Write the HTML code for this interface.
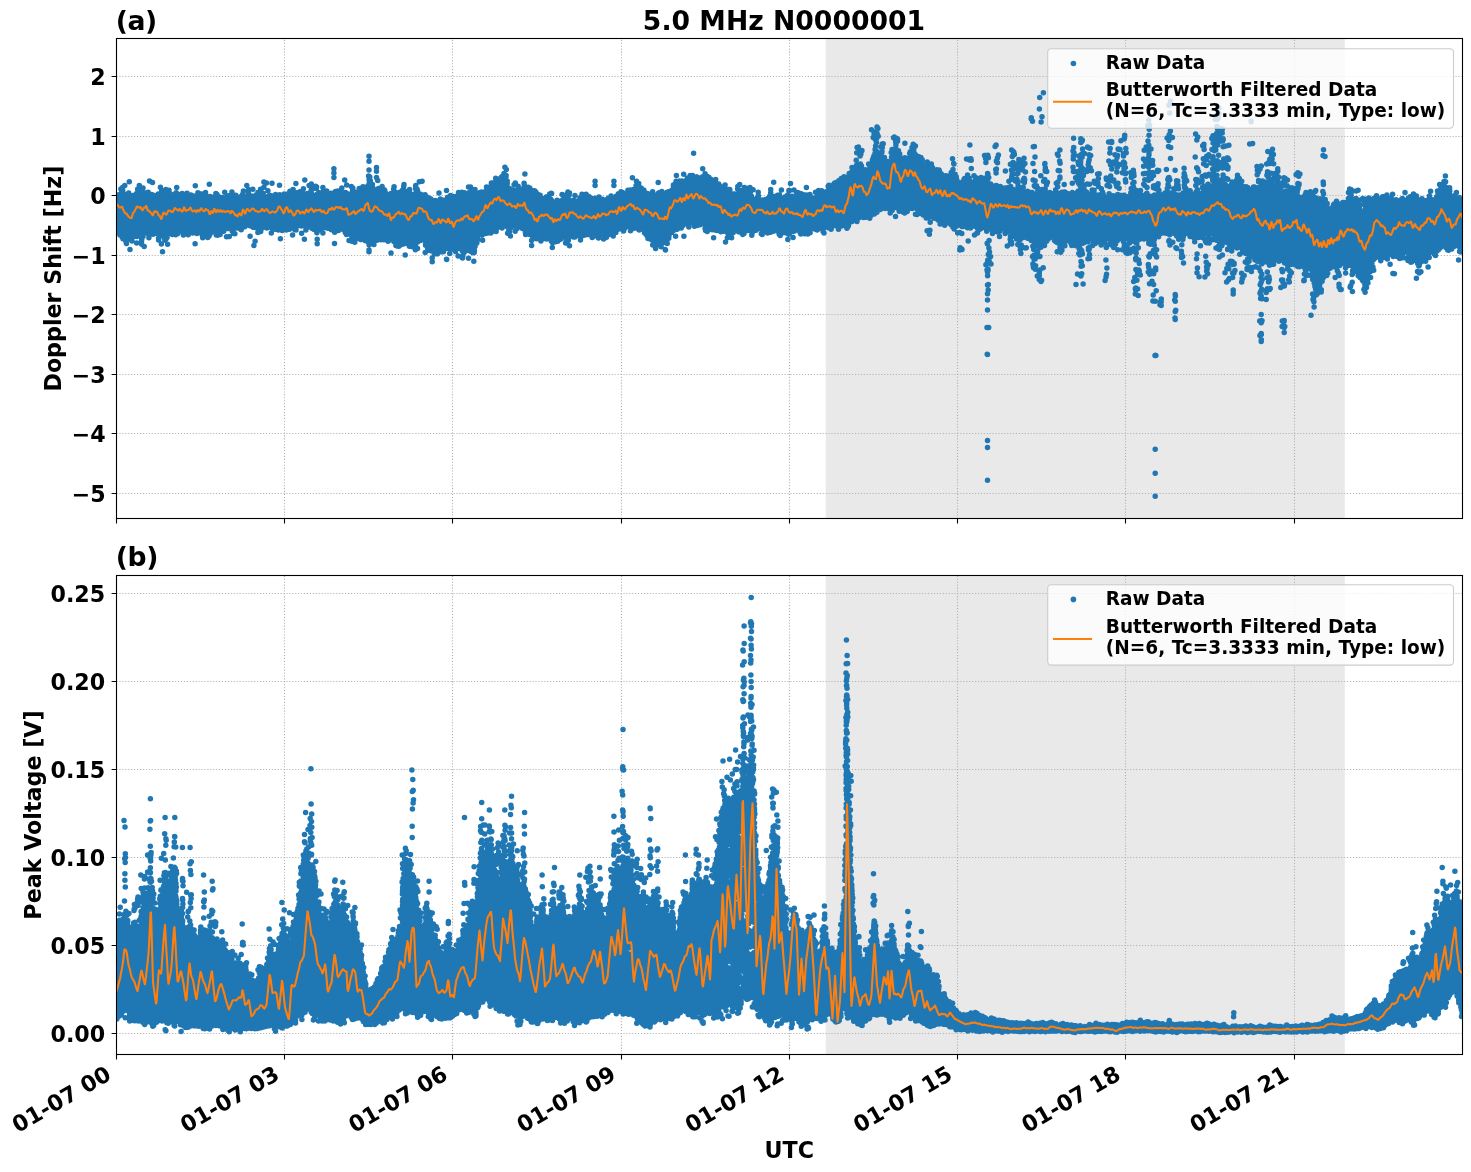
<!DOCTYPE html>
<html lang="en"><head><meta charset="utf-8"><title>5.0 MHz N0000001</title>
<style>html,body{margin:0;padding:0;background:#fff}svg{display:block}text{font-family:"DejaVu Sans","Liberation Sans",sans-serif;font-weight:bold;fill:#000}</style></head><body>
<svg width="1471" height="1172" viewBox="0 0 1471 1172">
<rect width="1471" height="1172" fill="#fff"/>
<clipPath id="ct"><rect x="116.5" y="38.5" width="1346.0" height="480.0"/></clipPath>
<clipPath id="cb"><rect x="116.5" y="575.5" width="1346.0" height="479.0"/></clipPath>
<rect x="825.8" y="38.5" width="519.0" height="480.0" fill="#d3d3d3" fill-opacity="0.5"/>
<path d="M116.5 518.5V38.5M284.5 518.5V38.5M452.5 518.5V38.5M621.5 518.5V38.5M789.5 518.5V38.5M957.5 518.5V38.5M1125.5 518.5V38.5M1294.5 518.5V38.5M116.5 76.5H1462.5M116.5 136.5H1462.5M116.5 195.5H1462.5M116.5 255.5H1462.5M116.5 314.5H1462.5M116.5 374.5H1462.5M116.5 433.5H1462.5M116.5 493.5H1462.5" stroke="#b0b0b0" stroke-width="1.1" stroke-dasharray="1.1 1.83" fill="none"/>
<g clip-path="url(#ct)"><path d="M116.5 196.5V228.5M117.5 195V233.5M118.5 193.5V234.5M119.5 193V236M120.5 192V237M121.5 186.5V238.5M122.5 186V240M123.5 189V240.5M124.5 192.5V241.5M125.5 193.5V244M126.5 193V245M127.5 192V241M128.5 191.5V240M129.5 192V240.5M130.5 193.5V241.5M131.5 194.5V242M132.5 194.5V239M133.5 194V238M134.5 193.5V237.5M135.5 192.5V237.5M136.5 191.5V238M137.5 187.5V238M138.5 184.5V237M139.5 184V237.5M140.5 185.5V238.5M141.5 186.5V245.5M142.5 187V240.5M143.5 190V238M144.5 191V235M145.5 191.5V234M146.5 191.5V234.5M147.5 191V235.5M148.5 191V239M149.5 192V236M150.5 193V235M151.5 193.5V234.5M152.5 193.5V235.5M153.5 194V235.5M154.5 194V235M155.5 194.5V234.5M156.5 194V234.5M157.5 193V235.5M158.5 193V241.5M159.5 192.5V239M160.5 191.5V238M161.5 188V237.5M162.5 189V238M163.5 189.5V239M164.5 188.5V241M165.5 188V242M166.5 188V240.5M167.5 189V239M168.5 189V236M169.5 189V235M170.5 192V234.5M171.5 193V235.5M172.5 194V235.5M173.5 193.5V235.5M174.5 192.5V235.5M175.5 191.5V236M176.5 191V235.5M177.5 192V235M178.5 193V234M179.5 193.5V233M180.5 193V232.5M181.5 192.5V233M182.5 192.5V234M183.5 192.5V236M184.5 193V236M185.5 192.5V235M186.5 192V235M187.5 192V236M188.5 193V236M189.5 194V235M190.5 194V234M191.5 193.5V233.5M192.5 194.5V234M193.5 195V234M194.5 195V233.5M195.5 194.5V234M196.5 193.5V234.5M197.5 191.5V234.5M198.5 191.5V234M199.5 192V234.5M200.5 192.5V235.5M201.5 192.5V237M202.5 193V239M203.5 192.5V239M204.5 191.5V238M205.5 191V237.5M206.5 194V238.5M207.5 195V239M208.5 195.5V238.5M209.5 195.5V238M210.5 195V235.5M211.5 195.5V234M212.5 196V233M213.5 196V233M214.5 195V234M215.5 192.5V236M216.5 192.5V236.5M217.5 193V236.5M218.5 194.5V236.5M219.5 195.5V235.5M220.5 196.5V235.5M221.5 196.5V234M222.5 196V233M223.5 196.5V232.5M224.5 197V232M225.5 196V230.5M226.5 193.5V229.5M227.5 194.5V230M228.5 194.5V229.5M229.5 194V230M230.5 193V231M231.5 191V232.5M232.5 191V233.5M233.5 193.5V234.5M234.5 194.5V230M235.5 194V229M236.5 194V229M237.5 195V229M238.5 195.5V229M239.5 196V230M240.5 195V231M241.5 194V231M242.5 192.5V229.5M243.5 190V228.5M244.5 194V228M245.5 195V228M246.5 194.5V227M247.5 193.5V226M248.5 188V226.5M249.5 193V227M250.5 194V227M251.5 194.5V227.5M252.5 195V228.5M253.5 195.5V228.5M254.5 194.5V228.5M255.5 193.5V228.5M256.5 192.5V229M257.5 191.5V230M258.5 191V233.5M259.5 190V233M260.5 188V232.5M261.5 188V232.5M262.5 191.5V229.5M263.5 192.5V228.5M264.5 195.5V228M265.5 196.5V228.5M266.5 196V229M267.5 195V229M268.5 194V228.5M269.5 193.5V228M270.5 194V229M271.5 194.5V230M272.5 194.5V231.5M273.5 194.5V230.5M274.5 193.5V230M275.5 193V230.5M276.5 193.5V230.5M277.5 194.5V231M278.5 194V231M279.5 193.5V230.5M280.5 193.5V231M281.5 194.5V231.5M282.5 194V232M283.5 193V231.5M284.5 193V230.5M285.5 193V231M286.5 193V231M287.5 192.5V230.5M288.5 191.5V230.5M289.5 190V230.5M290.5 190V230.5M291.5 189V229.5M292.5 188.5V229M293.5 188.5V230M294.5 190V231M295.5 191V231.5M296.5 191.5V228M297.5 191V227M298.5 191V226.5M299.5 190.5V227M300.5 190.5V227M301.5 189.5V227M302.5 188V226.5M303.5 187.5V226.5M304.5 191V227.5M305.5 192V231.5M306.5 192.5V231M307.5 192V229M308.5 192.5V228M309.5 191.5V228M310.5 183V229M311.5 182.5V229.5M312.5 192V230M313.5 193V230.5M314.5 193.5V231.5M315.5 193.5V232.5M316.5 193V234M317.5 192V234M318.5 190.5V232M319.5 191.5V231M320.5 191.5V230.5M321.5 190.5V231.5M322.5 186.5V234M323.5 186.5V230.5M324.5 189V229.5M325.5 190V229M326.5 189.5V229M327.5 190V229.5M328.5 191V229.5M329.5 192V230M330.5 192V230.5M331.5 192.5V231M332.5 192.5V231.5M333.5 191.5V232.5M334.5 190.5V233.5M335.5 190.5V233.5M336.5 190.5V232.5M337.5 190V231.5M338.5 190V232M339.5 189.5V231.5M340.5 188.5V230.5M341.5 187V230M342.5 190V230.5M343.5 191V231.5M344.5 191.5V233.5M345.5 191V235M346.5 191.5V236M347.5 192.5V235.5M348.5 192.5V235M349.5 193V235.5M350.5 192.5V236.5M351.5 191.5V242.5M352.5 186V242.5M353.5 187V243M354.5 190V243.5M355.5 191V243.5M356.5 191V240.5M357.5 190V239.5M358.5 187.5V239.5M359.5 187.5V240.5M360.5 187.5V241M361.5 186.5V241M362.5 185.5V240.5M363.5 185.5V241M364.5 186V241.5M365.5 186V242M366.5 185V242.5M367.5 184V243.5M368.5 182V246M369.5 175V246M370.5 176V245.5M371.5 181.5V245M372.5 182.5V245M373.5 185.5V245.5M374.5 188V245.5M375.5 189V242.5M376.5 188.5V241.5M377.5 187.5V241.5M378.5 187V241M379.5 187V240.5M380.5 186V241M381.5 185.5V241M382.5 185.5V240.5M383.5 187V241M384.5 188V241M385.5 189.5V240.5M386.5 192V241.5M387.5 193V242.5M388.5 193.5V242.5M389.5 193V242M390.5 192.5V241M391.5 192.5V241M392.5 191.5V242M393.5 185.5V243M394.5 185.5V244M395.5 190.5V247M396.5 191.5V247M397.5 192V247.5M398.5 191.5V247.5M399.5 191V247.5M400.5 190.5V246.5M401.5 189.5V246M402.5 188.5V245.5M403.5 183.5V245M404.5 188.5V245M405.5 189.5V244.5M406.5 190V245M407.5 189.5V246M408.5 188.5V247M409.5 188.5V247.5M410.5 191.5V247.5M411.5 192.5V248M412.5 193.5V248M413.5 193V249M414.5 192.5V250.5M415.5 191.5V251M416.5 184.5V245M417.5 187.5V244M418.5 190V243M419.5 192V242M420.5 193V242M421.5 193.5V241.5M422.5 193.5V241.5M423.5 194V242M424.5 193.5V243M425.5 193.5V247M426.5 194.5V248M427.5 195.5V252M428.5 196V251.5M429.5 197V251.5M430.5 197.5V252M431.5 198V252M432.5 199V253M433.5 199.5V255M434.5 199.5V255M435.5 199.5V255M436.5 200V255M437.5 200V255M438.5 199V254.5M439.5 198V253.5M440.5 198V253M441.5 198.5V253M442.5 199V253M443.5 199V253M444.5 199V251M445.5 198V250M446.5 197V249.5M447.5 196.5V249.5M448.5 195.5V249M449.5 194.5V250M450.5 194.5V250.5M451.5 194.5V249.5M452.5 195.5V250M453.5 195.5V251M454.5 195.5V252M455.5 196V253M456.5 195V251M457.5 194V250M458.5 191.5V249.5M459.5 191.5V250M460.5 191.5V250.5M461.5 191V251.5M462.5 191V253.5M463.5 191.5V257M464.5 191.5V254.5M465.5 192V253M466.5 192.5V252M467.5 192V252M468.5 191.5V252M469.5 190.5V252.5M470.5 189.5V253M471.5 190.5V253.5M472.5 191V254M473.5 190V254M474.5 188.5V254M475.5 188.5V248M476.5 191.5V245.5M477.5 192.5V244.5M478.5 192V241M479.5 191.5V237M480.5 191V236M481.5 190.5V236M482.5 191V236.5M483.5 191.5V235.5M484.5 190.5V234.5M485.5 189.5V234.5M486.5 185.5V234.5M487.5 186V234.5M488.5 186.5V234.5M489.5 185.5V234M490.5 182.5V234.5M491.5 181.5V234M492.5 182V233.5M493.5 181.5V232.5M494.5 180.5V232.5M495.5 177V232.5M496.5 177V232.5M497.5 178V229.5M498.5 177.5V228.5M499.5 177V228M500.5 176.5V228.5M501.5 175.5V229.5M502.5 174V229.5M503.5 172.5V228M504.5 172V227M505.5 173.5V227M506.5 174.5V228M507.5 179V229.5M508.5 185.5V235.5M509.5 186.5V236.5M510.5 187.5V229.5M511.5 188.5V228.5M512.5 188V228M513.5 187V227M514.5 188.5V227M515.5 189.5V228M516.5 189V231M517.5 188V230M518.5 185V229M519.5 186.5V228M520.5 187.5V228.5M521.5 188V229.5M522.5 187V229.5M523.5 185.5V230M524.5 182V231M525.5 184.5V236M526.5 185.5V235.5M527.5 186V235.5M528.5 186V235.5M529.5 186.5V236M530.5 187V236.5M531.5 188.5V237.5M532.5 189.5V241M533.5 189.5V240M534.5 189.5V239.5M535.5 190V239.5M536.5 190.5V240M537.5 192.5V240.5M538.5 193.5V240.5M539.5 194V241.5M540.5 194V242.5M541.5 196V242M542.5 197V241M543.5 197.5V240M544.5 196.5V240M545.5 196V240M546.5 195.5V240.5M547.5 195V240M548.5 194V240M549.5 193V241M550.5 192V242M551.5 198V243M552.5 199.5V245M553.5 200.5V244M554.5 201V243M555.5 200V243M556.5 199V242.5M557.5 199V242.5M558.5 199.5V242.5M559.5 199.5V241.5M560.5 199.5V240.5M561.5 199V240M562.5 198V239.5M563.5 194V239M564.5 194V240M565.5 193.5V244M566.5 192.5V244M567.5 191V245M568.5 191V242.5M569.5 198.5V239M570.5 199.5V238M571.5 199.5V237.5M572.5 200V238M573.5 199V238M574.5 198.5V238M575.5 199.5V238M576.5 200V237.5M577.5 199V236.5M578.5 198V237M579.5 196.5V238M580.5 195.5V241.5M581.5 193V237.5M582.5 193V236.5M583.5 193.5V236.5M584.5 193.5V236.5M585.5 193V236M586.5 193V236M587.5 194V235.5M588.5 195V235.5M589.5 195.5V235.5M590.5 196V236.5M591.5 197V238.5M592.5 197V238.5M593.5 197.5V238M594.5 197.5V237M595.5 197V237M596.5 197V237.5M597.5 196.5V238.5M598.5 196V239M599.5 196V237M600.5 197V236M601.5 198V235.5M602.5 198V236.5M603.5 198.5V240.5M604.5 198.5V240M605.5 198.5V239M606.5 198V238.5M607.5 197V237.5M608.5 197V236.5M609.5 196V235.5M610.5 195V235M611.5 194.5V236M612.5 195.5V237M613.5 196.5V237M614.5 196V235M615.5 195V234M616.5 194V233.5M617.5 193V231.5M618.5 192.5V230.5M619.5 191.5V230M620.5 190.5V230M621.5 190.5V230.5M622.5 191V231.5M623.5 191.5V232M624.5 192.5V231.5M625.5 193V230M626.5 192V228M627.5 189V227M628.5 189V227.5M629.5 189V228.5M630.5 189V232M631.5 189V231.5M632.5 188.5V230.5M633.5 188V229.5M634.5 187V229M635.5 184V229M636.5 180V229M637.5 187.5V230M638.5 188.5V231M639.5 188V231.5M640.5 187V231M641.5 186.5V231M642.5 187.5V231.5M643.5 188.5V232.5M644.5 189V235M645.5 191V236M646.5 192V237M647.5 192.5V239.5M648.5 192.5V240M649.5 193.5V240M650.5 193V240.5M651.5 192V241.5M652.5 190.5V242.5M653.5 191V247M654.5 192V248M655.5 193V249.5M656.5 193V247M657.5 192V246M658.5 191.5V245.5M659.5 191.5V246.5M660.5 190.5V248M661.5 190V248M662.5 190.5V245M663.5 191.5V244M664.5 192.5V243.5M665.5 192V244M666.5 191V244.5M667.5 190.5V244.5M668.5 190.5V240.5M669.5 190.5V239.5M670.5 189.5V235M671.5 188.5V234M672.5 186.5V233M673.5 183.5V232M674.5 182.5V231.5M675.5 180V230.5M676.5 180V230.5M677.5 180.5V230.5M678.5 180.5V230M679.5 180V229M680.5 180V229M681.5 179.5V229.5M682.5 179.5V228M683.5 180.5V227M684.5 180V225.5M685.5 179V224.5M686.5 177.5V225M687.5 176.5V226M688.5 175.5V228.5M689.5 174.5V228M690.5 174.5V226.5M691.5 174.5V225.5M692.5 174.5V226M693.5 174.5V227M694.5 175.5V227.5M695.5 175.5V227M696.5 175.5V227M697.5 176V227M698.5 176.5V226.5M699.5 177V226M700.5 176.5V226M701.5 176V225.5M702.5 175.5V225M703.5 174.5V226M704.5 172.5V230M705.5 172.5V232M706.5 174V232.5M707.5 175V233M708.5 176V232M709.5 176.5V231M710.5 177.5V230.5M711.5 178.5V231M712.5 179V231M713.5 179.5V231M714.5 178.5V231M715.5 178.5V231M716.5 181.5V231.5M717.5 182.5V231.5M718.5 183V231.5M719.5 183V232.5M720.5 184.5V233M721.5 185.5V233M722.5 186V232.5M723.5 185V232.5M724.5 184V232.5M725.5 187V233M726.5 188V234M727.5 188.5V235M728.5 188.5V238.5M729.5 188.5V238.5M730.5 188.5V239M731.5 192V239M732.5 193V235M733.5 193V234M734.5 192.5V233.5M735.5 193V232.5M736.5 192V232M737.5 184.5V232.5M738.5 183.5V233M739.5 188V233.5M740.5 189V234M741.5 189.5V235M742.5 188.5V235.5M743.5 186.5V235.5M744.5 186.5V235M745.5 186.5V232.5M746.5 187.5V231.5M747.5 187.5V231.5M748.5 187V231.5M749.5 186.5V232M750.5 186.5V233M751.5 194V236.5M752.5 196.5V236.5M753.5 197.5V233M754.5 198V232M755.5 197.5V231.5M756.5 196.5V231.5M757.5 194.5V231M758.5 191V230M759.5 197.5V230M760.5 198.5V231M761.5 199V235.5M762.5 198.5V235.5M763.5 198.5V234.5M764.5 198.5V233.5M765.5 198V233M766.5 198V234M767.5 197V234.5M768.5 196V234M769.5 194V233.5M770.5 188V233.5M771.5 194V233.5M772.5 195V232.5M773.5 195.5V232.5M774.5 195.5V232M775.5 195.5V231.5M776.5 194.5V232M777.5 194V233M778.5 194V235.5M779.5 194V236.5M780.5 195.5V236.5M781.5 196.5V235.5M782.5 197V234.5M783.5 196.5V233.5M784.5 196V234M785.5 195V234M786.5 194V234.5M787.5 193.5V235.5M788.5 192.5V236M789.5 194V235.5M790.5 195V234M791.5 195V233M792.5 195V232.5M793.5 195.5V232.5M794.5 195.5V232.5M795.5 194.5V232M796.5 191V231.5M797.5 191V231M798.5 191.5V232M799.5 192V234M800.5 192.5V235.5M801.5 192.5V235M802.5 193.5V234.5M803.5 193.5V234.5M804.5 194V235M805.5 194V234.5M806.5 194V235M807.5 194V235M808.5 194V235M809.5 193.5V234.5M810.5 193.5V234M811.5 195.5V231M812.5 196.5V230M813.5 196.5V230M814.5 197V230.5M815.5 196.5V230.5M816.5 195.5V231M817.5 189.5V231M818.5 189V230.5M819.5 189.5V230M820.5 189.5V230M821.5 189.5V231M822.5 189.5V233M823.5 190.5V234M824.5 191V229.5M825.5 191V228.5M826.5 190V228M827.5 189V228.5M828.5 184V229M829.5 184V229.5M830.5 184.5V230.5M831.5 184.5V230.5M832.5 183.5V228M833.5 182.5V227M834.5 181.5V226.5M835.5 181V227M836.5 181V227.5M837.5 180V228.5M838.5 179V230.5M839.5 178.5V228.5M840.5 177.5V227.5M841.5 177.5V227M842.5 176.5V227M843.5 175.5V226.5M844.5 175.5V227M845.5 176V228M846.5 176V229.5M847.5 175V229.5M848.5 172.5V228M849.5 172.5V225M850.5 171.5V223.5M851.5 170V222.5M852.5 166.5V222.5M853.5 166.5V222.5M854.5 166V221.5M855.5 165V222M856.5 163V222.5M857.5 146V154M857.5 163.5V222.5M858.5 146V155M858.5 164V220M859.5 148V157M859.5 163V219M860.5 149V157M860.5 163V218M861.5 164V217.5M862.5 167V218.5M863.5 168V218.5M864.5 168.5V218.5M865.5 168.5V218.5M866.5 169V218.5M867.5 168.5V218.5M868.5 167.5V219.5M869.5 163V219.5M870.5 162.5V219.5M871.5 161.5V217M872.5 157V216M873.5 130.5V139.5M873.5 154.5V215M874.5 131V140.5M874.5 152V215M875.5 131V141.5M875.5 144V214.5M876.5 130V144.5M876.5 149.5V213.5M877.5 150.5V213.5M878.5 151.5V212M879.5 152V211M880.5 151V211M881.5 150V210.5M882.5 155.5V209.5M883.5 156.5V209M884.5 156.5V209.5M885.5 159V209.5M886.5 160V209M887.5 160.5V209.5M888.5 160.5V210M889.5 160V211M890.5 159V214.5M891.5 148.5V213M892.5 148V212M893.5 148.5V209M894.5 147.5V208M895.5 136V208.5M896.5 137V146.5M896.5 147.5V209M897.5 148.5V210M898.5 149.5V212.5M899.5 152V212.5M900.5 153V212.5M901.5 156.5V212.5M902.5 157.5V213M903.5 157V214M904.5 156.5V214.5M905.5 156.5V214M906.5 157V213M907.5 157V212.5M908.5 156V211.5M909.5 151V210.5M910.5 150V209.5M911.5 146V209.5M912.5 143.5V209.5M913.5 143V209.5M914.5 151V209M915.5 153V209.5M916.5 154V210.5M917.5 155V215.5M918.5 155.5V215M919.5 155.5V214.5M920.5 156.5V214.5M921.5 156.5V215M922.5 162V216M923.5 163V216.5M924.5 163.5V217.5M925.5 162.5V219M926.5 161V219M927.5 161V219M928.5 161.5V219.5M929.5 162.5V220.5M930.5 163V219M931.5 163V218M932.5 165.5V218.5M933.5 167.5V219.5M934.5 168.5V219.5M935.5 169V219.5M936.5 168.5V220.5M937.5 168.5V221M938.5 169V222M939.5 169V225M940.5 171V225.5M941.5 172V225M942.5 173V225M943.5 174V226M944.5 174.5V226.5M945.5 174.5V226.5M946.5 174.5V225M947.5 174.5V224M948.5 175V224.5M949.5 174V225.5M950.5 171.5V226M951.5 170.5V227M952.5 168.5V229M953.5 171.5V230M954.5 172.5V230M955.5 173V229M956.5 175V228M957.5 178.5V227M958.5 180V226.5M959.5 181V226.5M960.5 181.5V227M961.5 181V228M962.5 180V228M963.5 178V228M964.5 177V227.5M965.5 176.5V228M966.5 175.5V228.5M967.5 174V229M968.5 174V228.5M969.5 176.5V229M970.5 180V229.5M971.5 181V229M972.5 180.5V228M973.5 180V227M974.5 179V227M975.5 175.5V228M976.5 176.5V229M977.5 177V230.5M978.5 177.5V232M979.5 177V231M980.5 176.5V230.5M981.5 176.5V229.5M982.5 177V229M983.5 177.5V228.5M984.5 177V229.5M985.5 154.5V163.5M985.5 177V230.5M986.5 176V232.5M987.5 172V232M987.5 267V277M988.5 172.5V180.5M988.5 181.5V231M989.5 182.5V230M989.5 250V264.5M990.5 183V230M991.5 183.5V231M992.5 184.5V234.5M993.5 185V234M994.5 185V233M995.5 184.5V232.5M996.5 184.5V233M997.5 184.5V233M998.5 185.5V234M999.5 185.5V233.5M1000.5 185.5V232.5M1001.5 186V231M1002.5 187V230M1003.5 187V230.5M1004.5 187V231.5M1005.5 187V234.5M1006.5 187V234M1007.5 186.5V233M1008.5 186.5V232.5M1009.5 185.5V232M1010.5 185V233M1010.5 234.5V244.5M1011.5 168V180M1011.5 185.5V239M1012.5 161.5V180.5M1012.5 187.5V238M1013.5 161V171M1013.5 188.5V237.5M1014.5 162V170M1014.5 189V238.5M1015.5 189V239.5M1016.5 162.5V170.5M1016.5 188V241M1017.5 161.5V175.5M1017.5 185V242M1018.5 158V174.5M1018.5 184.5V247M1019.5 158.5V172.5M1019.5 185.5V248M1020.5 159V171.5M1020.5 186V241M1020.5 242.5V255M1021.5 159.5V171M1021.5 186.5V240M1022.5 158.5V171.5M1022.5 186.5V239M1023.5 157V167.5M1023.5 185.5V238.5M1024.5 189.5V238.5M1025.5 190.5V238M1026.5 190V239M1027.5 190V239.5M1028.5 190V239.5M1029.5 191V240.5M1030.5 191.5V241.5M1031.5 191.5V242M1032.5 191V243M1033.5 191.5V250.5M1034.5 192.5V248M1035.5 192V247M1036.5 191V246.5M1036.5 250V259M1037.5 185.5V247.5M1037.5 249V258M1038.5 187.5V250.5M1038.5 272V280.5M1039.5 188.5V249.5M1039.5 269V281.5M1040.5 189V248.5M1041.5 188.5V248.5M1042.5 188.5V247.5M1043.5 188.5V246.5M1044.5 187.5V246.5M1045.5 186.5V244M1046.5 191V243M1047.5 192V241.5M1048.5 192V240.5M1049.5 191.5V240M1050.5 191.5V239M1051.5 192V238.5M1052.5 192.5V239.5M1053.5 191.5V241M1054.5 190.5V242.5M1055.5 188V243M1056.5 187V243.5M1057.5 181V189M1057.5 191V244M1058.5 192V245M1059.5 192V253M1060.5 191.5V253.5M1061.5 191V253M1062.5 191V248.5M1063.5 191V247.5M1064.5 190.5V247M1065.5 191V243.5M1066.5 191.5V242.5M1067.5 192V241.5M1068.5 192.5V242M1069.5 193V243M1070.5 192V245M1071.5 191.5V246.5M1072.5 191V246.5M1073.5 146.5V160.5M1073.5 191.5V246M1074.5 192V246.5M1075.5 192V247M1076.5 191V247M1077.5 175.5V183.5M1077.5 190V248M1078.5 169.5V185.5M1078.5 189V250M1079.5 168.5V187M1079.5 188V256.5M1080.5 153.5V246.5M1080.5 247V256M1081.5 163.5V245.5M1082.5 182V245M1083.5 183V244.5M1084.5 184V243.5M1085.5 189.5V243.5M1086.5 190.5V242.5M1087.5 191V243M1088.5 158V172M1088.5 192V243M1089.5 153.5V163M1089.5 192.5V242M1090.5 191.5V241M1091.5 189V241.5M1092.5 189V242.5M1093.5 189V246.5M1094.5 192.5V245.5M1095.5 193.5V244.5M1096.5 194V244M1097.5 177.5V187.5M1097.5 194V243M1098.5 172.5V180.5M1098.5 194V242.5M1099.5 193.5V243.5M1100.5 192.5V246M1101.5 187.5V246.5M1102.5 190V245.5M1103.5 192V244.5M1104.5 194.5V245M1105.5 195.5V246M1106.5 196V241M1107.5 195V240M1108.5 177V187.5M1108.5 192.5V240.5M1109.5 192.5V241.5M1110.5 193.5V246M1111.5 194.5V246.5M1112.5 194.5V247.5M1113.5 194.5V248.5M1114.5 195V248.5M1115.5 194.5V246M1116.5 154V168.5M1116.5 193.5V243M1117.5 193.5V242M1118.5 193.5V241M1119.5 194V240M1120.5 194V240.5M1121.5 194V241.5M1122.5 194.5V242.5M1123.5 161V174M1123.5 194V243.5M1124.5 161V174.5M1124.5 194V241.5M1124.5 242V252.5M1125.5 194.5V240.5M1125.5 243V254M1126.5 195.5V240M1126.5 243.5V254.5M1127.5 195.5V240.5M1127.5 243V254.5M1128.5 194.5V241.5M1129.5 193.5V244.5M1130.5 191V244M1131.5 170.5V178.5M1131.5 186.5V243M1132.5 169V178M1132.5 182V242.5M1133.5 169V177M1133.5 181V242.5M1134.5 187.5V243.5M1135.5 188.5V244M1135.5 286.5V295.5M1136.5 189V245M1137.5 189.5V244.5M1138.5 190V241.5M1139.5 189.5V240.5M1140.5 189V240M1141.5 193V239.5M1142.5 194V239.5M1143.5 194V240M1144.5 193.5V240M1145.5 192.5V239.5M1146.5 158.5V167M1146.5 192V240M1147.5 144.5V152.5M1147.5 157.5V168M1147.5 192V241M1148.5 143V169M1148.5 171V181.5M1148.5 194V244.5M1149.5 144V156.5M1149.5 157.5V168M1149.5 170.5V181M1149.5 195V245M1149.5 266.5V275.5M1150.5 158.5V167M1150.5 171.5V180.5M1150.5 195V245.5M1151.5 172V180M1151.5 195.5V245M1152.5 195V245.5M1153.5 194V246.5M1154.5 194V241.5M1155.5 194V239M1155.5 247.5V256.5M1156.5 193.5V238M1157.5 182.5V191.5M1157.5 192.5V237.5M1158.5 188V238M1159.5 189V237.5M1160.5 192.5V235.5M1160.5 298V306.5M1161.5 193.5V234.5M1161.5 298V306.5M1162.5 193.5V234M1163.5 192.5V234M1164.5 192V234.5M1165.5 191V234M1166.5 190V234.5M1167.5 183V234.5M1168.5 133.5V141.5M1168.5 176.5V189M1168.5 190.5V235.5M1169.5 132.5V141.5M1169.5 191.5V236M1170.5 191.5V236M1171.5 192V235M1172.5 191V234M1173.5 187.5V234.5M1174.5 187V235M1175.5 192.5V236M1176.5 179.5V190M1176.5 193.5V237.5M1177.5 179.5V189.5M1177.5 194V238.5M1178.5 194V240.5M1179.5 194V240.5M1180.5 194V240M1181.5 193V240.5M1181.5 250V259M1182.5 192V241.5M1183.5 191V240.5M1184.5 172V236M1185.5 175V183.5M1185.5 186V235M1186.5 187.5V234.5M1187.5 189V235M1188.5 190V236M1189.5 189.5V237.5M1190.5 189.5V238M1191.5 191.5V237.5M1192.5 192.5V238.5M1193.5 193V239.5M1194.5 192V239M1195.5 190.5V238M1196.5 178.5V186.5M1196.5 188.5V237.5M1197.5 188V238.5M1198.5 191V238.5M1199.5 192V238.5M1200.5 192.5V238M1201.5 191.5V238.5M1202.5 190.5V239M1203.5 184.5V240M1204.5 185V235.5M1205.5 185V234.5M1206.5 184V235M1206.5 261V273M1207.5 183V236M1207.5 262V275M1208.5 183V244M1209.5 183.5V244M1210.5 184.5V235.5M1211.5 185V234.5M1212.5 155.5V165M1212.5 172V182M1212.5 184.5V235M1213.5 134.5V145.5M1213.5 155.5V183M1213.5 183.5V236M1214.5 134V152M1214.5 159V172M1214.5 172.5V240.5M1215.5 133V151.5M1215.5 160V171M1215.5 173.5V241M1216.5 131.5V147.5M1216.5 159.5V170.5M1216.5 174V241.5M1217.5 125.5V146.5M1217.5 159.5V170.5M1217.5 177.5V242M1218.5 126.5V146M1218.5 160V169.5M1218.5 178.5V243M1219.5 127.5V143.5M1219.5 179V250.5M1220.5 127.5V142.5M1220.5 178.5V248.5M1221.5 127V142M1221.5 160.5V169M1221.5 178V247.5M1222.5 159.5V169.5M1222.5 177V247M1223.5 158V169M1223.5 174V244.5M1224.5 158V168.5M1224.5 182V243.5M1225.5 157.5V169M1225.5 183V243M1226.5 184V243.5M1227.5 185V244.5M1228.5 185V245.5M1229.5 184.5V250.5M1230.5 183.5V251.5M1231.5 181V252M1232.5 181V249M1233.5 181V248M1234.5 180.5V247.5M1235.5 179.5V248.5M1236.5 177.5V249M1237.5 174V249M1238.5 176V248.5M1239.5 177V248M1240.5 178.5V249M1241.5 179.5V250M1242.5 184V253.5M1242.5 272.5V283M1243.5 185V253.5M1244.5 185.5V254.5M1245.5 185.5V255M1246.5 185.5V255M1247.5 186V256M1248.5 186.5V262.5M1249.5 187.5V262.5M1250.5 188V259.5M1251.5 187.5V258.5M1252.5 186.5V259M1253.5 186V260M1254.5 185.5V261M1255.5 186V261.5M1256.5 187V262.5M1257.5 165V176M1257.5 186.5V262.5M1258.5 165.5V174M1258.5 186V263M1259.5 185V263M1260.5 180.5V264M1260.5 289.5V299.5M1261.5 180V265M1261.5 272V284M1262.5 179.5V265M1263.5 180V264M1264.5 180.5V263M1265.5 181V263M1266.5 180V263M1267.5 170.5V178.5M1267.5 179V264M1268.5 171V265.5M1268.5 274.5V283M1269.5 171.5V266.5M1270.5 156.5V164.5M1270.5 177V266M1271.5 149.5V164M1271.5 178V265.5M1272.5 148V157M1272.5 183V265.5M1273.5 184V265.5M1274.5 172.5V181M1274.5 184.5V262M1275.5 172V182M1275.5 183.5V261M1276.5 171V260.5M1277.5 167.5V261.5M1278.5 180V262.5M1279.5 181.5V262.5M1280.5 182.5V262M1281.5 189V262M1282.5 190V262.5M1283.5 176.5V187M1283.5 190.5V263.5M1283.5 279V287M1284.5 176.5V186M1284.5 190.5V264M1285.5 177V186.5M1285.5 190V264.5M1286.5 189.5V265.5M1287.5 188.5V270.5M1288.5 185.5V267.5M1289.5 186.5V266.5M1290.5 187V266M1291.5 186.5V265.5M1292.5 186.5V265M1293.5 187V265.5M1294.5 187.5V266M1295.5 187V266M1296.5 186.5V267M1297.5 185.5V267.5M1298.5 182.5V190.5M1298.5 194.5V268M1299.5 195.5V268M1300.5 196V267.5M1301.5 196V267M1302.5 196V267M1303.5 195V268M1304.5 193.5V270.5M1305.5 191.5V276.5M1306.5 191.5V271.5M1307.5 192V270.5M1308.5 191.5V270M1309.5 190.5V270.5M1310.5 190.5V271M1311.5 191V272M1312.5 191.5V281.5M1313.5 191V284M1313.5 293V303M1314.5 195.5V288M1315.5 196.5V297M1316.5 197V296M1317.5 197.5V295.5M1318.5 198V294M1319.5 197.5V293M1320.5 197.5V286M1321.5 198V283.5M1322.5 197V282.5M1323.5 197V279.5M1324.5 198V278M1325.5 198.5V277M1326.5 200.5V276.5M1327.5 202V276.5M1328.5 206.5V270.5M1329.5 207.5V269.5M1330.5 207.5V269.5M1331.5 206.5V268.5M1332.5 205V267.5M1333.5 203V268M1334.5 202V268M1335.5 201V269M1336.5 200V272M1337.5 201V268M1338.5 202V267M1339.5 203V266.5M1340.5 203V266.5M1341.5 202V265.5M1342.5 201.5V264.5M1343.5 201.5V264M1344.5 201.5V264.5M1345.5 201.5V265.5M1346.5 201V268.5M1347.5 200V267.5M1348.5 197.5V266.5M1349.5 196.5V266.5M1350.5 188V266.5M1351.5 188.5V267.5M1352.5 197V276M1353.5 198V274M1354.5 198V273M1355.5 197.5V272.5M1356.5 197.5V273.5M1357.5 198V277M1358.5 199V278M1359.5 203V279M1360.5 209V280M1361.5 210V281M1362.5 210.5V282.5M1363.5 209.5V283.5M1364.5 198V206.5M1364.5 208V293.5M1365.5 198V290M1366.5 198V289M1367.5 197.5V285M1368.5 197V280M1369.5 197V279M1370.5 198V273.5M1371.5 198.5V272.5M1372.5 197.5V271.5M1373.5 197.5V261.5M1374.5 196.5V260.5M1375.5 195.5V259M1376.5 194.5V258M1377.5 195.5V257.5M1378.5 196.5V258.5M1379.5 197.5V259.5M1380.5 197V262M1381.5 196V262M1382.5 195.5V260M1383.5 195.5V259M1384.5 195.5V258.5M1385.5 194.5V259M1386.5 193.5V260M1387.5 194V260.5M1388.5 195.5V256.5M1389.5 196.5V255.5M1390.5 196V255.5M1391.5 195V256.5M1392.5 197.5V257.5M1393.5 198.5V257.5M1394.5 199V257M1395.5 198.5V257M1396.5 198.5V257.5M1397.5 199V258M1398.5 199.5V259M1399.5 199V259.5M1400.5 198.5V259.5M1401.5 197.5V259M1402.5 197.5V259M1403.5 198V255M1404.5 199V254M1405.5 199.5V253M1406.5 198.5V253.5M1407.5 197V254.5M1408.5 196V262M1409.5 195.5V263M1410.5 195.5V263.5M1411.5 195V263.5M1412.5 194V263M1413.5 192.5V262M1414.5 193V261.5M1415.5 194V262M1416.5 194.5V263M1417.5 196.5V265.5M1418.5 197.5V267M1419.5 198.5V267M1420.5 198V264.5M1421.5 197.5V263.5M1422.5 197.5V262.5M1423.5 198.5V262M1424.5 199.5V262M1425.5 200V262.5M1426.5 199V260M1427.5 198.5V259M1428.5 197.5V258.5M1429.5 194V255M1430.5 197V254M1431.5 198V253M1432.5 198.5V253.5M1433.5 199V254.5M1434.5 198V256.5M1435.5 196.5V257M1436.5 195V253M1437.5 189.5V252M1438.5 189V251.5M1439.5 188V250.5M1440.5 183.5V249.5M1441.5 183V248M1442.5 182V247M1443.5 180.5V246.5M1444.5 180.5V247.5M1445.5 185V249M1446.5 186V250M1447.5 187V251.5M1448.5 187V251.5M1449.5 186.5V251M1450.5 193.5V250M1451.5 194.5V250.5M1452.5 195V250M1453.5 194.5V248.5M1454.5 193.5V247.5M1455.5 191.5V247M1456.5 195V246.5M1457.5 196V247M1458.5 196.5V248M1459.5 196.5V253M1460.5 197V253.5M1461.5 198V248.5M1462.5 201V236.5M1462.5 239V247" stroke="#1f77b4" stroke-width="1.02" fill="none"/>
<path d="M960.2 247.7h0M1229 243.3h0M688.8 227.1h0M1175.7 310.3h0M491.9 183.8h0M1460.7 233h0M240.6 197.4h0M645.8 234h0M1080.9 187.1h0M1233.2 290h0M876.3 151.2h0M303.4 188.7h0M132 196h0M988.1 270.1h0M1155.2 449.2h0M1462.1 231.8h0M224.6 198.1h0M1223.2 163.2h0M415.7 186.2h0M1379.8 199.5h0M477.6 238.1h0M1462 221.1h0M871.5 129.8h0M474.9 193.2h0M1427.8 256.1h0M1420.9 271.8h0M307.2 226.9h0M1277.8 171.2h0M258.6 230.2h0M1357.5 203.8h0M1175.4 296h0M1147.8 125.6h0M299.9 225.2h0M1273.6 264.3h0M1124.7 238.9h0M445.6 247.5h0M1436.5 197.9h0M858.6 217.9h0M1110.2 148.4h0M1029.3 237.5h0M136.1 194.2h0M804.5 233.7h0M961.7 248.9h0M197.9 192.8h0M117.8 199.8h0M462.5 258.1h0M989.5 252h0M207.5 236.7h0M780.2 235.4h0M732.4 232h0M489.3 188.1h0M1216.9 163.5h0M647.5 193.5h0M1368.6 272.7h0M592.7 198.4h0M464.1 252.6h0M1097.9 183.1h0M193.8 196.1h0M1270.4 160.5h0M1352.5 273.9h0M562.7 199.8h0M503.1 176h0M1436.6 250.2h0M729.9 191.4h0M1094.1 190.3h0M705.1 228.4h0M750.3 191.3h0M873.5 161.2h0M980.5 227.4h0M462.2 249.9h0M669 235.5h0M987 327.6h0M990.3 184.5h0M1274 259.1h0M650.2 238.3h0M996.5 161.5h0M405.2 255.1h0M333.3 193.7h0M1435.2 199.4h0M1140.8 237.6h0M870 168.4h0M1268.4 162.8h0M1216 145.9h0M122.7 190.5h0M1084.4 153.5h0M141.5 241.8h0M241.8 227h0M582 194.2h0M1259.9 335.6h0M169 190.3h0M882.1 144h0M1121.8 239.1h0M665.5 193.9h0M295.9 183.4h0M1351.1 195h0M757.9 228.4h0M116.8 224.7h0M1118 183.2h0M1004.4 228.3h0M1296.1 174.7h0M1254.9 259.8h0M314.1 229.6h0M773.6 196.8h0M778.1 230.5h0M1120.1 196.3h0M1131.8 249.2h0M1165 192.9h0M1247.7 259.1h0M1057.7 193.9h0M1220 141.3h0M1054.5 240.5h0M418 240.9h0M576.1 235.4h0M635.4 227.9h0M416.5 241.9h0M521.5 226.8h0M133.1 236.2h0M818.1 196.6h0M890.5 161.6h0M1076 284.5h0M502 228.1h0M1241 181.6h0M1303.8 280.8h0M1285.7 262.1h0M473.5 251.4h0M1358 207.5h0M546.7 196.9h0M1109.2 238.7h0M812.7 198.4h0M1459.9 237.2h0M994.4 186.1h0M802.9 195.8h0M992.5 233.4h0M876.7 151.7h0M236.7 227.5h0M133.9 236.4h0M309.1 185.4h0M316.6 187.1h0M781.4 190.1h0M1063.2 192.2h0M1192.8 194.5h0M685.1 182.1h0M785.2 197.8h0M1358.1 190.2h0M1218.5 113.6h0M1223.1 175.1h0M751.4 197.5h0M449.2 248.2h0M1151.5 271h0M1001.3 228.6h0M1169.1 240.6h0M1079.2 248.8h0M1352.4 291.5h0M1305.6 196.1h0M498.8 178.9h0M476.8 193.7h0M1168.6 180.7h0M969.1 178.2h0M1127.1 253h0M579.9 198.9h0M491.3 184h0M1219.7 243.6h0M502.7 175.9h0M642.2 229.1h0M1258.8 268.1h0M944.9 176.6h0M1266.9 175.2h0M1149.2 129.3h0M1067.4 194.1h0M1225.2 184.3h0M899.4 208.7h0M509.5 231.8h0M1418.6 261.8h0M929.4 234.2h0M1169 177.5h0M1344.1 202.5h0M1149.9 197.2h0M1336.3 202.3h0M964.2 181.2h0M325.6 227.7h0M580.7 235.5h0M1013.2 189.6h0M1208.3 156.5h0M696.8 178h0M443.4 200.2h0M1440.9 187.8h0M1364.3 201.5h0M513.5 190.7h0M1097.6 173.9h0M1284.2 320.5h0M813.5 198.1h0M1231.4 184.7h0M228 196.9h0M1138.7 274.5h0M645.9 193h0M987 269.9h0M430.8 250.7h0M733 232.7h0M963.2 226.6h0M1155.2 496.2h0M348.9 194.9h0M1305.1 269.1h0M1018 173.2h0M953.7 163.5h0M118.4 210.5h0M1461.1 228.1h0M195.1 243.8h0M486.9 232.9h0M283.4 196h0M631.7 228.7h0M162.5 251.8h0M510.2 226.5h0M673.8 185.2h0M153.1 233h0M1143.4 173.8h0M988.9 248.1h0M1299.1 183.9h0M1137.6 273.8h0M880.9 147h0M440.6 250.9h0M515.6 226h0M118.1 219.8h0M1417.5 271.4h0M176.5 233.2h0M1131.3 177.5h0M495.4 228.6h0M956.2 176.7h0M128.7 192.9h0M133 195.6h0M1078.8 156h0M1232.1 182.1h0M1087.2 183.9h0M1413.5 196.3h0M1175.2 311.5h0M493.1 231.3h0M1224.7 162.7h0M345.3 232.3h0M892.1 210.4h0M1140.7 194.7h0M1462.4 212.5h0M507.1 226.7h0M1429.3 253.1h0M777.2 231.1h0M1312.7 279.5h0M1371.3 263.6h0M1229.3 278.5h0M856.2 160.3h0M1461.4 202.4h0M1261 183.3h0M940.1 224.1h0M1287.4 179.9h0M694.7 224.9h0M170.5 195.2h0M810.1 232.7h0M1152.7 165.3h0M322.9 187.6h0M555.4 241.7h0M663.9 242h0M636.1 185.5h0M761.8 229.8h0M1291.6 187.7h0M895.5 216.5h0M359.2 188.5h0M1459.2 197.5h0M1151.2 178.6h0M625 228.1h0M1371.9 266h0M1251.4 271.4h0M1082.3 265.8h0M1148.6 267.3h0M1454.1 246.4h0M1055.7 189.8h0M1178.6 188.7h0M355.8 192.3h0M1206.1 233.4h0M652.7 245.1h0M484.7 193.2h0M326.7 190.9h0M1226.4 178.4h0M227.3 228.6h0M897.4 207h0M742.8 234.5h0M673.5 230.4h0M860.1 156h0M1462.2 218.6h0M415.6 188.7h0M1087 171.4h0M117.5 217.5h0M1067.3 239.6h0M1408 198.8h0M1121.7 195.6h0M1031.3 117.7h0M116.9 205h0M518.3 190.4h0M136.6 193.5h0M828.3 190.3h0M507.3 181.1h0M1297 174.3h0M462.5 251.2h0M1059.9 176.9h0M427.6 248.2h0M1228 167.3h0M118.4 211.7h0M607.4 199.5h0M949.2 222.4h0M1219.3 257h0M757.6 197.4h0M1313.9 271.6h0M1081.2 179.6h0M341.8 192.4h0M668.8 238.2h0M737.8 231.2h0M420.6 240.6h0M724.9 230.6h0M580 197.8h0M394.7 191.7h0M1298.7 176.3h0M582.2 235.1h0M1051.9 194h0M996.1 186h0M148.1 192.2h0M1078 182h0M187 193.3h0M970.1 227.1h0M1015.3 181.1h0M1004.8 188.1h0M1126.5 245.5h0M1284.2 327.5h0M123.9 194.1h0M1439.6 184.6h0M1155.2 301.2h0M1011.7 243.9h0M304.3 225.2h0M1282.7 280h0M1421.4 261.7h0M1088.4 147.8h0M877 126.9h0M1196.7 167.8h0M569 195.5h0M371.6 186.7h0M1120 149.5h0M409.1 191.6h0M1408.5 197.9h0M987.5 310h0M1064.2 184.4h0M1155.2 355.5h0M830.9 227.8h0M1461.6 229.2h0M712.3 181.4h0M316.3 188.4h0M470.5 186.9h0M122 191.1h0M749.8 195.4h0M1299.9 174.1h0M919.4 212.3h0M421.9 194.8h0M501.3 177.3h0M608.5 198h0M248.4 192.1h0M632.4 177.7h0M251.8 225.8h0M707.4 176.6h0M529.8 187.9h0M1262 298.7h0M1379.3 257.4h0M1143.5 237.6h0M117 230.8h0M1461.7 234.4h0M1207.2 233.7h0M1233.2 294h0M812.5 197.7h0M958 182.1h0M446.5 190.5h0M739.1 190.7h0M1267 289.5h0M1394.4 200.9h0M116.8 225.3h0M1142.1 195.4h0M331.4 229.7h0M974.5 234.9h0M241.1 228h0M907 159h0M304.1 193.7h0M136.7 242.9h0M933.5 216.4h0M1149 135.2h0M744.6 230.5h0M1123.5 155.9h0M407.8 244.1h0M1181.7 254.7h0M1461.6 239.5h0M560.5 200.9h0M116.6 204.9h0M263.9 187.2h0M1148.5 180.3h0M1197.1 253.9h0M472.1 251.8h0M863 169.8h0M425.2 252.6h0M795.3 229.8h0M1397.2 200.9h0M1132.7 172.4h0M828.9 185.3h0M1114.5 245.2h0M474 248.1h0M320.9 193.7h0M1031.4 193h0M679.7 181.1h0M1268.3 277.6h0M595.7 235.8h0M1243.7 250.1h0M781.8 232.1h0M251.9 197h0M1175.9 247.7h0M504 173.5h0M1358.2 200h0M951.4 225h0M1197.3 189.7h0M1262 320.7h0M846.8 177.2h0M1115.5 243.9h0M1460.7 205.7h0M524.1 183.2h0M117.8 228.2h0M1194 236.2h0M881.7 152.7h0M660 243.7h0M1356.1 198.5h0M819.1 228.5h0M474.2 249.2h0M1169.2 134.8h0M1242.6 250.2h0M936.7 169.7h0M711.2 180.6h0M1365.7 199.3h0M1296 264.1h0M813.2 228.5h0M550.5 198.9h0M1010.4 164.2h0M425.6 245.2h0M1081.9 183.4h0M1209.2 243h0M1133.3 170.2h0M1243.8 252.3h0M934.1 218.2h0M1284.2 332.5h0M1255.7 187.8h0M831.4 227.9h0M1039.9 246.7h0M369 161.3h0M1268.3 177.6h0M599 197h0M979.2 228.4h0M1222.4 255h0M1117 157.4h0M1074 152.9h0M993.6 231.7h0M1364.5 288.9h0M1176.8 184.3h0M613.2 236h0M781.1 233.6h0M1146.2 163.2h0M514.9 184.4h0M1352.6 270.7h0M1144.8 185.4h0M1309.8 269.1h0M1460.9 251.4h0M571.9 201h0M686.9 179.2h0M1011.4 170.1h0M487.9 190h0M1032.8 246.3h0M1078.5 164.4h0M1072.3 183.3h0M117.4 206.1h0M1438 193.7h0M274.5 195.7h0M1184.1 168.2h0M1454.9 195.4h0M1452.4 196.5h0M943.2 175.8h0M1172.4 137.5h0M778.3 195.9h0M1202.7 145.8h0M1419.3 265.2h0M895.6 141.3h0M565.6 243h0M1170 244.9h0M1175.2 294.5h0M1040.9 247.2h0M391.4 194.6h0M1434.5 254.2h0M284.2 194h0M1209 240.4h0M1169.7 234.8h0M765.6 199.5h0M210 233.9h0M1182.9 239.3h0M216.8 194.3h0M957.2 224.7h0M1216.6 133.5h0M804.4 195.6h0M1105.9 260.1h0M852 167.6h0M673.4 185.1h0M527.4 232.1h0M1340.3 289.5h0M524.8 186.2h0M460.2 248.7h0M1399 200.7h0M1218.2 180h0M1105.1 280.6h0M1161.2 305.5h0M455.5 251.5h0M387.5 195.1h0M1080.1 185.5h0M1402.7 252.5h0M212.4 198h0M1279.6 259.8h0M573.6 201h0M1079.5 170.7h0M1249.2 258.5h0M1125.9 173h0M1139.3 263.6h0M872.9 159h0M1349.9 264.1h0M344.7 180h0M271.3 233h0M1098.4 178.6h0M1462.3 229.4h0M1024.4 182.6h0M789.6 190.4h0M1278.3 183.3h0M1339.1 286.9h0M1345.7 273.1h0M1001.1 188.3h0M633.4 189.4h0M1278.9 189.2h0M1110 179.9h0M877.9 128.4h0M423.7 195.3h0M292.6 234.9h0M612.5 197.9h0M1024.7 179.7h0M1412.5 260.4h0M1110.7 175.9h0M1184.5 233.5h0M1317.2 293.7h0M1381.2 198.4h0M836 225.8h0M1168.9 105.2h0M1326.2 270.1h0M559.5 238.4h0M922.2 159.8h0M1267.8 151.6h0M1096.9 196.2h0M1274.2 177.9h0M477.2 239.4h0M1160.7 233.5h0M388.3 241.1h0M1390 197.9h0M1363.8 204.6h0M1006.8 188.5h0M218.3 196.3h0M1244.1 275.4h0M658.2 182.5h0M1083.1 283.9h0M589.1 233.6h0M1106.2 178.1h0M987.2 354.2h0M1221.1 162.4h0M669.9 233.2h0M1312.4 195.4h0M1134 182.2h0M1207.6 273.8h0M1067.5 193.4h0M1066.7 240h0M986.4 180.5h0M1436.5 197.4h0M474.6 247.1h0M990.6 184h0M1135.9 269.6h0M1104.5 196.8h0M468.5 258.3h0M1427.2 200.2h0M1037.6 252.1h0M794.5 231h0M1218.2 246.6h0M1370.6 277.4h0M117 227h0M1365.2 285.4h0M412 246.4h0M1135.6 258.6h0M391 193.5h0M352.8 188h0M892.1 149.4h0M410.1 245.3h0M1416.4 278.3h0M351.3 186.6h0M506 176.8h0M1018.3 169.5h0M373.1 188.3h0M1117.5 165.5h0M496.3 181.3h0M1003.8 229h0M1049.3 237.3h0M737.8 186.4h0M701.8 223.3h0M1247.1 260.9h0M1154.5 195.1h0M1306 192.6h0M999.8 231.3h0M143 236.4h0M973 182.4h0M608.3 234.8h0M531.3 190.8h0M137.6 189.3h0M317 230.2h0M1013.8 168.9h0M1280.6 189.6h0M229.3 236.4h0M514.9 190.4h0M716.9 230.4h0M987.5 354.5h0M1396.4 255.6h0M843 179h0M538.1 238.6h0M1174.7 299.9h0M1080.2 244.2h0M476.2 242.4h0M327.9 228.3h0M1373.6 259.5h0M1403.4 253.2h0M727.5 232.8h0M1200.5 245.8h0M1386.9 194.9h0M910.5 153.7h0M1298 188.8h0M1423.7 200.7h0M1461 242.5h0M376.5 171.3h0M241 196.5h0M1284.6 284.4h0M1019.3 245.6h0M774 230.1h0M205.2 196h0M685.1 181.4h0M1023 247.5h0M222.5 197.4h0M1112.9 181h0M1201.7 193.6h0M739.7 184.4h0M1041.1 122.1h0M947.1 175.9h0M1261.8 274.2h0M231.9 192h0M909.7 153.4h0M702.3 223.7h0M1119.3 195.5h0M1184.9 176.3h0M309.4 193.6h0M1208.8 237.2h0M1395.1 200.2h0M263.9 182h0M869.7 218.3h0M1285.9 191h0M441.9 251.7h0M1380.7 260.8h0M1124.5 195.8h0M1197.7 136.9h0M1156.6 249.8h0M117.4 200.8h0M1205.7 256.2h0M1088.6 161.9h0M728.5 189.6h0M1078.4 190.9h0M1022.4 190.2h0M507.1 185.1h0M242.7 194.3h0M1282.5 186h0M1205.3 175.1h0M1037.8 191h0M1198.5 182.7h0M116.6 207.2h0M1382.5 197.2h0M828.2 186.3h0M952.5 158.7h0M1215 165.8h0M1449.8 190.9h0M149.5 181h0M1416.4 261.1h0M116.7 203.6h0M1217 119.5h0M803.2 195.3h0M1205.5 241.4h0M1020 187.3h0M1297.7 266.5h0M369.1 244.7h0M1438.7 249.5h0M1209.4 234.4h0M1175.2 194.2h0M913.2 144.3h0M1203.6 163.7h0M652.6 191.8h0M1269.4 279.2h0M271.7 196.3h0M1461.7 226.3h0M1183.5 193.6h0M354.8 242.3h0M117.4 209.3h0M1461.4 205h0M1249.1 254.5h0M1079.9 255.1h0M739.1 190.1h0M644.5 232.8h0M1045.2 188.9h0M382.1 188.5h0M1305.2 194.7h0M789.7 196.6h0M1080.3 175.5h0M250.1 236.3h0M889 208.7h0M590 197.7h0M1429.2 257.5h0M1266.9 277.7h0M145.2 232.8h0M928.3 217.7h0M1416.5 196h0M1150.3 196.2h0M278.3 229.9h0M481.1 234.2h0M1461.8 211.4h0M927.1 230.7h0M475 189.5h0M861.5 165.9h0M531.6 245.5h0M1206.2 262.3h0M1203.9 192h0M1045.4 167.9h0M1268 175.3h0M311.5 192.9h0M1410.1 196.7h0M977.6 227.2h0M897.5 141.3h0M1176.6 180.8h0M758.4 197.8h0M1285.9 263.2h0M1214.1 238.3h0M1449.7 194.7h0M417.5 242.1h0M1073 151.1h0M304.5 225.6h0M1410.1 255.7h0M393.8 241.6h0M1034.3 185.8h0M345.5 192.4h0M1332.8 207.1h0M758.7 228.6h0M1135.8 287.9h0M1108.8 161.1h0M138.3 235h0M1116 161.6h0M1202.5 187.7h0M1045.4 181.5h0M1100.3 242.4h0M180.9 231.4h0M575.6 201.1h0M1338.4 272.9h0M1161.3 299h0M1270.6 162.8h0M784.4 232.5h0M1136.9 280.3h0M116.8 198.1h0M846.8 226.5h0M1157.7 171.4h0M1367.5 280h0M1148.3 264.4h0M1261.6 320.4h0M117.7 220.4h0M1080 164.9h0M999.7 187.9h0M744.6 230.9h0M1195.2 157h0M667.1 192.2h0M551.4 200.2h0M800.5 193.6h0M877.1 133.2h0M1212 149.6h0M1217.5 169.2h0M996.4 161h0M967.6 175h0M205.5 192.4h0M1267.4 288.8h0M762.2 234.5h0M1392.6 194.3h0M497.4 179.1h0M1295.7 193.7h0M1204 186h0M468.2 250.5h0M1059.6 161h0M317.2 239.3h0M158.6 240.1h0M567.9 192h0M606.5 199.7h0M1297.6 188.6h0M369.8 176.9h0M746.9 188.5h0M1314.1 307.1h0M1326.9 207h0M1269.9 163.5h0M1418.8 266h0M1078.8 253.6h0M585.4 234.5h0M425.5 243.9h0M1444 181.4h0M272.2 195.9h0M640.4 190.1h0M1127.2 244.9h0M709.4 179.5h0M1267.5 171.8h0M306.8 227.6h0M1406.2 258.2h0M797.3 229.7h0M661.8 191.4h0M529.5 234.6h0M724.7 187.9h0M909.5 208.3h0M1153.4 250.5h0M1213.6 233.7h0M1045.3 171.3h0M1012.9 234.5h0M834.7 182.9h0M1129.6 243.1h0M920.9 157.5h0M665.5 249.9h0M873.2 161.7h0M488.7 187.9h0M566.1 239.7h0M569.5 193h0M331 194.2h0M1089.2 159.4h0M1041.6 280.3h0M1167.1 137.9h0M1382.8 257.7h0M861.9 150.8h0M520.2 189.8h0M1339 284.2h0M789.8 195.9h0M1265.3 261.7h0M1198.5 237.5h0M655.6 248.5h0M1390.1 264.2h0M1206.6 266.9h0M1049.9 237.6h0M939.3 170.8h0M1325.6 202.7h0M1108.4 197.2h0M1057.4 153.9h0M196.3 232.2h0M1425.6 261.2h0M739.2 232.1h0M875.1 155.4h0M1248.9 269.5h0M524.2 228.3h0M1084.3 241.2h0M606.5 237.2h0M1219.3 162.9h0M130 249.6h0M1372.9 267h0M494.9 182.2h0M394.1 186.7h0M1090.1 194.1h0M1148.9 152.5h0M506.1 175.6h0M988.7 327.5h0M637.3 189.5h0M1363.2 281.2h0M1060.1 163.3h0M182.2 231.7h0M926.2 217.9h0M658.1 193.5h0M524.9 173.9h0M1152.3 162.7h0M1044.5 245.4h0M422.1 181.3h0M446.5 259.3h0M1348 201.5h0M241.2 229.7h0M734.1 194.1h0M1429.4 195.9h0M1322.8 191.5h0M1077 180.3h0M674.5 184.4h0M707.2 231.6h0M1358.5 204.8h0M985.8 155.5h0M1252.8 267.6h0M1291.3 272.7h0M613.9 185.5h0M1183.4 236.2h0M470.9 251.6h0M145.7 193h0M1266.2 299.5h0M393.7 189.1h0M1166.4 169.6h0M267.9 190.8h0M1417.2 199.2h0M1083.3 170.1h0M365.2 187.6h0M1176.4 186.6h0M180.1 194.9h0M1046.6 182.4h0M762.8 199.9h0M721.4 188h0M1181.5 257.6h0M1358.6 206.9h0M254.9 227.5h0M885 208.4h0M1125.8 148.6h0M872.8 161.8h0M1204.1 149.4h0M1227.7 157.9h0M873.6 157.1h0M1320.6 280h0M1157.7 186h0M1016.5 239.1h0M1246.6 253.1h0M1094.8 183.2h0M1213.1 156.7h0M915.2 154.6h0M569.6 200.5h0M323.2 191.7h0M1298.1 187.4h0M485.6 233.5h0M1080 157.1h0M368.2 241.8h0M1118.1 149h0M915.5 214.2h0M1077.5 273.9h0M1104.6 242.3h0M551.2 193.3h0M1161.2 299.5h0M1099.2 173.8h0M152.5 182.5h0M1017.4 181.1h0M1259.7 321.1h0M987.5 300h0M1133.3 249.4h0M1299.3 266.8h0M1267.3 272.1h0M446.7 259.6h0M1046.1 192.8h0M377 240.3h0M1182.7 256.5h0M249.1 225.3h0M677.8 227.5h0M1206.6 271h0M497.1 227.6h0M693.9 177.1h0M316.9 232.8h0M333.9 177.5h0M997.4 158h0M352.6 190.2h0M482.1 235h0M1202.1 235.9h0M734.7 193.9h0M496.8 179.5h0M687.7 178.1h0M1242.2 278.5h0M1297.9 187.3h0M929.9 230.2h0M417.6 190.8h0M1033 163.5h0M1197.3 179.8h0M1113.6 162.1h0M1268.4 289.8h0M1117.3 167.3h0M1218 117.9h0M376.5 177.5h0M1370.2 271.8h0M975.2 180.6h0M1038.5 189.8h0M1113.7 247.4h0M1022.9 190.5h0M684.6 223.7h0M1262.5 180.9h0M557.1 200.3h0M1118.3 149.4h0M474.7 191.1h0M1297 187.7h0M1323.2 181.9h0M1366.3 284h0M279.5 185.3h0M426 196.7h0M744.4 187.6h0M700.8 177.8h0M747.1 229.9h0M1058.2 155.5h0M124.8 185.5h0M457.3 196.1h0M1462.1 216.6h0M1313.5 276.2h0M1012.4 236.6h0M1266.7 163.9h0M860.4 164.1h0M1013.2 151.6h0M1158.5 170.5h0M142.3 191.5h0M213.9 231.7h0M922 164h0M718.7 185.2h0M1280.1 183.4h0M1011.4 242h0M1257.1 261.2h0M1238.4 246.2h0M1321 280.4h0M602.7 200.5h0M1290.9 264.6h0M159.2 236.7h0M1120.9 140.8h0M1060 246.5h0M437.2 201.3h0M981.1 177.5h0M1103.1 193.9h0M1139.5 239.2h0M1413.5 193.9h0M118 213.7h0M1297.4 195.8h0M892.4 158h0M1407.1 200h0M719.3 185.5h0M1184.2 173.6h0M511.1 227.5h0M1215.6 135.6h0M1222.7 183h0M1462 204h0M996.1 144.9h0M117.6 214.9h0M311.7 226.9h0M116.7 215.1h0M1268.9 281.2h0M1109.1 193.7h0M368.2 185.8h0M262.8 196.8h0M1287.5 268.7h0M1030.7 192.6h0M1195.6 133.9h0M1167.3 188.4h0M758.2 192.2h0M1155.2 473.2h0M876.7 138.2h0M1131.5 176.2h0M1170.5 101.2h0M1297.9 183.5h0M1445.2 245.5h0M1116.1 184.2h0M1353.5 199.4h0M869.9 166h0M671.6 232.4h0M472.5 252.5h0M1218.6 155.3h0M1334.2 203.9h0M917 214.4h0M1033.6 267.8h0M377.7 180.4h0M229.4 228.5h0M848.7 224.2h0M1155.2 254.4h0M1044.9 163.5h0M591.5 234.3h0M1011.8 176.2h0M409.6 189.6h0M1085.8 170h0M1281.9 269.6h0M1349.6 188.9h0M1167.5 233.4h0M1162.9 194.7h0M439.6 252.1h0M470.9 191.8h0M1284 177.8h0M1172.3 193.6h0M1333.5 204.9h0M549.7 194h0M1075.1 244.4h0M213.9 197h0M370.7 183.4h0M672.1 190.3h0M1187.5 233.4h0M948.7 223.1h0M1149.3 257.1h0M1088.5 249.9h0M951.2 172.6h0M161.4 244.1h0M1443.9 182.3h0M823.1 231.5h0M468.7 192.8h0M1312.6 294.1h0M1022.6 160.9h0M1148.3 173h0M1236.3 180.8h0M870.2 164.7h0M507.3 182.9h0M865.6 217.3h0M537.5 194.2h0M266.9 227.9h0M369.2 183.3h0M1280.8 287.4h0M1232.2 261.5h0M1338.8 204.6h0M116.6 214.1h0M1059.9 150.1h0M1034 259.3h0M987.5 272h0M1017.9 165.4h0M1081.2 250.1h0M1313.5 273.8h0M1043.6 181.2h0M962 226.6h0M1206.6 242.8h0M1313.5 197.6h0M1391.6 198.9h0M1261.2 295.9h0M1116.7 186.6h0M1228.4 280.1h0M925.2 164.9h0M996.4 185.5h0M531.6 240.4h0M528.9 234.2h0M1222.6 141h0M1223.7 159h0M1148.8 256.2h0M117.2 218.7h0M1261.1 282.4h0M1350.4 286.6h0M852 221.5h0M1032.4 256.6h0M1251.1 121.7h0M508.2 188.3h0M1060.7 252.2h0M768.3 198.3h0M798.2 193.7h0M1010.5 236.6h0M334.5 243.6h0M1234.1 263.3h0M1222.6 181.4h0M1168 184.4h0M1260 293.3h0M143 188h0M854.8 167.6h0M403.7 186.4h0M1108.6 142.1h0M1268.5 282h0M490.8 233.1h0M891.2 152.5h0M1352.6 191.1h0M1179.1 194.9h0M1274.3 173.5h0M1008.1 187.5h0M989.1 240.6h0M318.4 230.2h0M957.7 232.9h0M1023.2 187.3h0M1217.6 112.2h0M1183.1 193h0M1234.9 246.5h0M1082.9 243.2h0M369 251.8h0M1156.6 257h0M1207.1 268h0M1190.1 190.8h0M1172.8 242.3h0M518.2 186.2h0M808.9 195.7h0M525.7 233.4h0M1005.2 233.5h0M435 200.6h0M1158.6 236.7h0M1377.5 198.2h0M1143.5 159h0M985.9 162.4h0M1010.4 187.3h0M858.7 153.4h0M973.4 224.7h0M887.7 161.5h0M1153.8 243.1h0M1208.3 264.7h0M657.1 244.7h0M961 225.6h0M1088.4 248.1h0M875.2 139.2h0M1176.2 233.6h0M1297.2 192.1h0M865.4 169.7h0M788.5 234.3h0M272 183.2h0M334.2 192.7h0M1125.4 179.8h0M621 228.3h0M1239.3 178.6h0M694.4 226.2h0M304.4 239.3h0M1460.7 246.9h0M1283.7 183.5h0M1133.7 172.9h0M1124.6 163.3h0M512.2 189.9h0M372.4 184.5h0M262.9 194.8h0M1134 175.8h0M1304.2 280.6h0M792.3 197.3h0M1011.2 231.4h0M1217.6 129.1h0M1271.7 158.4h0M210.3 196.4h0M894.9 138.2h0M1242.6 278.6h0M1090.7 155.4h0M1258.4 171.9h0M1199.9 193.8h0M200 232.6h0M524 187h0M839 180.4h0M395.5 242.9h0M959.8 232.5h0M1024.9 163.6h0M157 196h0M960.2 183h0M1357.2 271.9h0M585.9 234.8h0M1289.3 281.9h0M157.6 233.5h0M1044.8 179.6h0M1153.5 187.7h0M1036.5 185.7h0M552.5 242.8h0M1155 355.4h0M998.4 154.9h0M966.5 159h0M1023.2 165.5h0M1231 247.4h0M833.8 184.2h0M132 241h0M898.5 150.8h0M1080.8 142.6h0M932.4 167.6h0M676.1 181.3h0M1081 261.6h0M710.8 228.7h0M1358.7 203.8h0M1226.9 165.7h0M1312.7 271.4h0M796.6 192.3h0M1089.4 184.3h0M409.4 246.2h0M1130.9 172.6h0M987.6 173.4h0M1284.5 182.2h0M1214 170h0M1365.1 209.3h0M1168.8 241.3h0M449.5 196.7h0M882.3 147.5h0M1276.7 173.9h0M987.5 262h0M912 147.4h0M765.2 231.1h0M1154.3 245.2h0M1383.3 196.8h0M117.4 222.4h0M458.5 192.5h0M560.5 239.3h0M1149.5 283.7h0M141.9 238.3h0M515.2 231.3h0M1460.5 252.1h0M165.9 189.4h0M1055.7 241.5h0M1375.5 198.3h0M875.1 149.4h0M843.5 225.2h0M1075.6 177.8h0M568.3 240.5h0M1018.8 159.4h0M1046.5 184.7h0M1316.7 291.3h0M824 232.9h0M1219 113.7h0M1394.4 273.7h0M908.9 157.9h0M1322.6 278.2h0M1227.7 249h0M541.8 198.4h0M899.7 154.1h0M175.7 234.7h0M196.9 233.6h0M550.3 238.8h0M386 193.5h0M1336.7 267h0M1146.3 193.9h0M744 233.6h0M1152.7 172.6h0M167.6 244.3h0M1117.7 194.5h0M705.6 230.5h0M125.6 239.9h0M1138.6 259.9h0M1176.7 236.1h0M348.2 233.7h0M696.9 177h0M1339.8 204.3h0M1132.8 183.6h0M1228.8 268.8h0M956.7 226.1h0M1081.3 261.9h0M1248.9 267h0M987.5 480.2h0M987.5 229.3h0M248.6 189.5h0M752.5 198.5h0M1254.5 187h0M1327.7 273.2h0M1175.3 301.3h0M817.2 196.9h0M1249.7 143.9h0M1037.3 275.9h0M1143.6 195.4h0M184.2 194.6h0M752 233.1h0M995.1 146.6h0M1033.3 266.2h0M874.6 132h0M1396.9 256.6h0M1253.5 187h0M623.1 193.8h0M1022.6 170h0M817.1 230h0M164.9 240h0M1036.4 245.1h0M1013.5 173.9h0M1057.9 182h0M806.4 187.6h0M209.1 236.1h0M246.8 185.4h0M652 240.1h0M1223.9 146.6h0M747.7 230.4h0M1462.3 244.6h0M1325.2 200.5h0M1155.7 269.9h0M1149.8 274.2h0M1073.4 171.5h0M1347.8 264.8h0M875 153.5h0M450.6 248.6h0M202.7 237.7h0M1058.6 193.4h0M1232.6 272.9h0M316.8 194.4h0M1441.2 246.4h0M1448.5 250.2h0M346.6 233.6h0M1233.2 291h0M1323.5 193.7h0M1281.6 280.1h0M580.5 240.1h0M588.5 234.5h0M1289.7 275.9h0M141.7 244.3h0M1462.4 216h0M1230.4 261.3h0M413.3 195.1h0M365.4 240.7h0M1271 161.4h0M1023 181.1h0M1366.5 287.6h0M139.4 186h0M1445.5 187.1h0M1447.7 250.1h0M838.5 229.2h0M1080.3 163.6h0M1208.9 185.3h0M1319.5 285.9h0M1260 169h0M1092.2 190h0M1284.3 285.9h0M781.9 198.2h0M897.6 139.3h0M869 164.4h0M425.1 194.7h0M1164.3 233.1h0M1301.3 265.9h0M646.9 235.4h0M1268.8 177.5h0M262.3 227.9h0M548.2 238.5h0M1150.2 253.8h0M1303.3 196.9h0M770.7 189.4h0M1202.9 236.7h0M206.1 195.6h0M525.4 232.2h0M720.8 231.8h0M1348.3 265.5h0M126.5 243.6h0M454 197.8h0M1066 241h0M667 240.5h0M987.8 259.9h0M1017.8 244.4h0M282.2 230.5h0M264.6 197.6h0M774.5 196.6h0M800.8 234.1h0M1456.4 192.6h0M243.4 191h0M286.3 229.9h0M122.2 237.1h0M312.6 188.7h0M1123.5 241.7h0M1020.2 239.4h0M1312.8 194.8h0M1356.1 191h0M1229.2 186.2h0M1005.4 171.1h0M479.9 192.5h0M1237.3 178.5h0M1313.6 298h0M349.9 234.2h0M773.2 231.2h0M1010.5 242.7h0M1151 149.1h0M562.1 194.6h0M1157.5 170.2h0M1386.8 258.2h0M1027.6 238.2h0M183.4 235h0M1241 185h0M1048.1 239.2h0M1461.2 201.6h0M475.1 246.3h0M789.2 234h0M787 233.3h0M166.1 238.8h0M139.3 185.4h0M1382.6 196.7h0M1446.2 246.5h0M1011.7 177.3h0M202.2 235.1h0M1042 189.5h0M1101.2 245.1h0M1134.5 240.7h0M1032.1 239.8h0M1351.7 265.8h0M752.9 231.4h0M1108.9 181.6h0M1319.9 283.8h0M1023.3 179.8h0M1299.5 197.3h0M1247.1 269.6h0M1146.9 193.3h0M988.2 178.1h0M1092.6 245.6h0M304.8 180.1h0M1261.2 321.5h0M1322.9 198.7h0M1396 199.7h0M1261.2 333.5h0M1239.8 254.2h0M1461.9 206.3h0M1428.1 267h0M311 190.9h0M1216 248.1h0M256 195.1h0M1169.8 179.8h0M215.9 193.5h0M201.8 194h0M1000.3 186.6h0M1203.7 146.3h0M803.1 194.6h0M1222.4 168h0M293.1 189.6h0M1276.2 180.5h0M1322.1 281.3h0M1084.9 191.1h0M1175.1 189.1h0M1284.7 262.9h0M828.4 227.7h0M295.3 229.8h0M630.5 190.1h0M1080.8 138.8h0M337.9 191h0M630.5 230.8h0M1111.7 142.5h0M1393.2 256.4h0M532.1 190.6h0M796 196.2h0M496.6 228.8h0M1134.8 277.5h0M723.5 231.3h0M618.5 193.7h0M117.1 221h0M658.8 193h0M1148.7 167.2h0M700 224.7h0M976.8 233.3h0M1209 174.2h0M974 175.7h0M1078.4 171.6h0M1088.2 164.8h0M1081 166.7h0M116.9 231.5h0M522.5 228.4h0M461.9 192.2h0M384.8 190.7h0M1274.6 260.1h0M1359.1 206.4h0M1364.5 288.6h0M1323.5 149.8h0M177.5 233.8h0M1033.3 146.8h0M1365.1 292.3h0M251 195.7h0M1122.4 249.7h0M1010.7 186.5h0M1325 156.4h0M1315.7 197.8h0M1261 277.6h0M1313 299.5h0M310.8 186.3h0M1461.5 246.7h0M1219.5 249.4h0M388 241.2h0M1364.9 284.8h0M194.1 232.1h0M1148 141h0M118.6 194.8h0M272.1 228.6h0M1410.9 262.3h0M399.7 245.4h0M821.7 190.7h0M1461.4 224.7h0M902.5 211.7h0M1130.8 192.8h0M1078.7 183.4h0M841.3 178.5h0M962.2 182.2h0M348.6 193.9h0M690.2 175.5h0M601.8 199.6h0M1217.7 145h0M1201.5 181.2h0M844.1 176.8h0M895.9 145.2h0M1258.9 187.6h0M1123.6 162h0M1204.7 239h0M910.3 151.8h0M1128.3 197h0M930.2 222.2h0M395.9 245.6h0M346.5 234.5h0M987.5 440.5h0M1135.3 288.8h0M987.5 447.5h0M1140.5 190.5h0M1373.7 259.2h0M1312.9 272.7h0M675.6 236.3h0M474.2 252.6h0M962 249.4h0M301.6 233.2h0M116.7 222.5h0M1258.6 180.6h0M1007.2 231.9h0M1034.6 171.4h0M806.5 195h0M1269 263.5h0M119.3 233.4h0M443.4 251.7h0M1451.7 249.1h0M790.5 183.4h0M900.9 158.1h0M1261.9 263.7h0M1149.4 172.3h0M818.6 190.4h0M1058.2 170.4h0M305.9 230.1h0M914.5 207.2h0M705.1 173.8h0M1077.2 192.5h0M1081.7 141.5h0M116.8 216.8h0M1153.6 284.4h0M458.1 256.1h0M1208.4 174.9h0M1149.1 176.9h0M988.3 260.4h0M1417.7 263.6h0M552.3 247.4h0M172.3 234.4h0M416.2 242.8h0M1202.4 237.4h0M404.7 191h0M1458.6 259.9h0M429.4 198.5h0M1149.6 240.9h0M1321.3 289.7h0M1032.2 192.4h0M1270.2 159.7h0M1014.4 154.4h0M1023.3 237.4h0M1221.3 128.5h0M751.8 235.3h0M1175.2 319.5h0M1088.9 169.7h0M1174.3 233.4h0M1307 274.8h0M1260.3 271h0M376.5 167.5h0M1060 249.1h0M890.2 213.1h0M117.3 212h0M434.3 254h0M1246.4 262.7h0M880.3 209.6h0M1178.1 185.2h0M941.2 173.7h0M1168.6 193h0M1277.7 168.8h0M1320 198.8h0M1326.7 275.4h0M1043.4 92.8h0M1376.5 195.7h0M351.9 241.2h0M1371.9 263h0M874.1 155.7h0M1197 272.7h0M1106 277h0M914.4 153.3h0M1013.1 162.4h0M927.2 162h0M750.2 194.8h0M1408.8 254.5h0M1342.8 202.5h0M1402.4 198.6h0M292.4 227.6h0M1135.8 259.8h0M595.1 181.3h0M1339.9 264h0M1299 184.7h0M1217.2 160.7h0M294.9 229.8h0M604.2 199.9h0M1352.2 282.2h0M1083.9 187.9h0M878.2 136.2h0M1106.5 274.2h0M1093.5 240.1h0M658.9 192.7h0M1445.6 181.8h0M1461.7 242.4h0M1089.5 254.5h0M1222.1 243.2h0M1135.7 290h0M1183.5 263.1h0M1234.1 264.2h0M1168.8 186.8h0M514.1 184.8h0M1462 226.1h0M977.5 232.9h0M1310.4 191.7h0M1306.4 275.5h0M141.6 239.8h0M1160 304.8h0M913.4 151.5h0M1138.2 295.5h0M1111.6 141.6h0M616.5 196.1h0M1148.5 157.8h0M1226.4 164.7h0M665.2 242.4h0M1034.3 241.9h0M1170.7 147.6h0M419.3 181.7h0M1082.6 149h0M986 228.6h0M1133.6 281.6h0M737.7 189.1h0M182.2 193.5h0M1106.9 268h0M1197.6 169h0M368.6 176h0M595.8 198.3h0M412.4 246.8h0M942.8 223.7h0M1124.5 138.1h0M1033.7 249.4h0M682 180.9h0M544 238.5h0M1126.9 250.7h0M1039.8 270.1h0M369.1 179.5h0M1190.1 236.6h0M1459.6 251.4h0M415 193.8h0M1094.2 181.3h0M334.7 232.3h0M430.6 198.7h0M1258.8 261.7h0M728.7 235.9h0M1245.4 262h0M1202.8 186.8h0M904.9 143.3h0M1262.1 279.8h0M1208.7 154.7h0M164.4 237.9h0M1231.7 251h0M857.1 147.6h0M1039.2 256.5h0M1184.7 187.7h0M601.6 233.8h0M1374.5 258.5h0M369 156.3h0M333.9 168.8h0M920 213.2h0M863.9 217h0M860.9 153.9h0M1127 247.2h0M1120.2 164.6h0M1329.4 267.9h0M1225.4 241.4h0M1152.6 160.5h0M515.3 183.1h0M1155.6 267.9h0M244.8 226.7h0M1233.9 272.9h0M1228.1 264.2h0M1185.5 190h0M697.2 225.6h0M299.9 191.7h0M1462.2 224.4h0M1031.2 240.6h0M1213.9 163.9h0M729.8 189.5h0M623 192.9h0M1080.6 164.6h0M661.7 243.5h0M1367.9 282.9h0M870.9 215.6h0M1202.1 180.7h0M696.5 176.9h0M1223 138.8h0M713.6 237.8h0M239.3 197.2h0M1127.4 238.3h0M1155.9 355.5h0M318.8 192.4h0M219.6 232.6h0M1160.4 302.1h0M767.6 233.1h0M1269 276.8h0M1387.3 259.1h0M1324.4 199.5h0M1016.9 179.3h0M1207.1 268.9h0M1390.2 254.4h0M1169.6 113.1h0M1087.6 147.1h0M1241.7 181.3h0M168 233.7h0M1138.3 247.8h0M836.5 182.2h0M409.9 193.2h0M1241.7 282.1h0M986.7 231.2h0M1073.4 155.9h0M987.9 269.1h0M1082.3 168.2h0M876.4 142.6h0M1127.4 253.5h0M1222.1 179.2h0M972.6 226.1h0M245.6 196.5h0M1223.1 146.7h0M1360 277.6h0M384.3 239h0M167.5 234.5h0M351.4 239.2h0M1223.2 139.7h0M1107.1 185.6h0M151.7 194.6h0M1227.1 168.6h0M1153.5 186.1h0M1156.2 290.7h0M1440.3 247.7h0M961.8 233.5h0M1212.1 177.3h0M345.2 232.4h0M1127.9 252.2h0M712.1 229.8h0M1270.7 264.7h0M981 228.5h0M1323 155.4h0M1072.3 192.4h0M1293.1 188.3h0M1216.5 240.2h0M1399.7 258.4h0M1037.5 187.9h0M1214.4 141.4h0M938 219.9h0M1234.9 270.4h0M1221.8 166.5h0M899.2 211.3h0M1196.5 180.9h0M1271.4 153.3h0M565.2 195.2h0M1148.8 145.2h0M777.6 195.2h0M510.4 235.9h0M122.8 187.2h0M831.1 229.2h0M602.5 199.2h0M335.5 191.5h0M1017.8 182.9h0M683.7 174.3h0M117 232.1h0M156 233.2h0M191 194.9h0M1057.2 251.8h0M761.3 233.7h0M176.1 192.8h0M815.4 229.3h0M595.1 185.5h0M915.4 146.1h0M417.5 248.4h0M296.9 192.7h0M554.2 202.4h0M621 191.8h0M1261.3 166h0M574 200.3h0M720.9 186.7h0M967.5 227.7h0M225.3 228.6h0M369 249.9h0M797.7 192.4h0M167 237.4h0M985.6 158.6h0M621.3 229h0M1035.3 186.7h0M1113.1 195.8h0M427.5 197.2h0M1220.1 133.2h0M1110.5 164.7h0M751.5 196.2h0M574.9 195.5h0M476.9 242.4h0M287.3 194h0M509.5 188.6h0M1213.1 143.1h0M990.6 256.5h0M1246.4 187.5h0M1168.5 177.7h0M506.3 169.5h0M1106.9 244.7h0M1242 248.4h0M1339.2 275.4h0M1316.4 289.6h0M953 169.4h0M1040.8 175.8h0M1271.9 152.5h0M233.6 233.4h0M1078.2 176.8h0M1260.6 298.5h0M312.7 228h0M1064.9 245.7h0M1346.7 264h0M1216.9 175.2h0M255.1 241.3h0M1227.8 168.9h0M1120.6 238.8h0M1401.3 199.4h0M1039.4 109h0M1216.9 126.6h0M1046.7 171.6h0M807.8 234h0M534.6 190.8h0M341.8 188h0M1088.1 241.8h0M1213.5 172.3h0M603 234.7h0M1061.9 250.2h0M1016.2 164.4h0M123 238.7h0M275.3 229.2h0M1182.8 239.6h0M1227.6 249.4h0M126.4 239.9h0M279.1 195.9h0M1269.8 159.3h0M1226.8 268.6h0M1269.5 265.2h0M1462.1 241.4h0M383.9 239.8h0M322.9 232.9h0M487.9 233.1h0M583.3 235.5h0M1168.8 140.5h0M1335.2 277.5h0M148.9 237.7h0M485.6 191.2h0M1186.7 181.1h0M1145 160.8h0M893.6 137.7h0M847.3 227.6h0M495.7 178.2h0M402.2 244.2h0M1257.4 170.2h0M1313.1 274.9h0M558.7 240h0M997.5 162.7h0M1089.1 154.7h0M1124.1 139.1h0M1096.4 195h0M1275.1 185.5h0M1277.6 177.4h0M882 151.5h0M525.6 234.6h0M303.4 225.4h0M299.2 225.6h0M1204.9 277.1h0M1218.5 249.1h0M1446.1 247.7h0M953.9 164h0M1011.6 150.1h0M1101.3 188.8h0M1158.7 170.6h0M370.3 182.2h0M310.5 227.2h0M1039.9 256.4h0M420.1 194h0M338.5 230.5h0M1035.6 265.7h0M380.9 239.8h0M1024.2 178.2h0M985.9 264.8h0M1194.7 241.8h0M1327.1 203.5h0M1007.3 246.1h0M188.7 232.7h0M403.3 244h0M1027.5 191.2h0M1181.8 244.8h0M996.1 173h0M232.3 231.3h0M953 227.2h0M415.8 243.9h0M1084.3 242.5h0M361.4 239.6h0M464.3 192.8h0M280.4 238.8h0M1283.8 181.6h0M788.9 190.5h0M1213 135.7h0M639.2 230.1h0M428.8 250.3h0M1437.9 191.7h0M235.8 195.3h0M1206.7 156.3h0M136.9 236.6h0M209.3 184.3h0M1139.3 271.3h0M1283 282.5h0M1073.7 147.6h0M1228.9 145.2h0M126 241.8h0M1039.2 279.5h0M1227 158.1h0M975.8 226.5h0M1289.2 270.5h0M195.3 185.7h0M1315.7 190.4h0M1273.4 154.4h0M1264 181.8h0M301.3 225.9h0M1214.3 150.8h0M1170.5 158.5h0M462.3 257.8h0M175.5 193.7h0M1080.7 161.6h0M861.9 150.5h0M758.3 195.7h0M508.6 231.2h0M1436.5 197h0M1220.8 133.6h0M615.9 232.5h0M1336.5 201.2h0M1113.7 163.3h0M987.9 174.3h0M987.5 244.1h0M1341.2 289.6h0M289.5 229.3h0M650.2 239.1h0M984.5 155.4h0M863.4 217.4h0M971.3 168.4h0M382.1 186.6h0M877 210.8h0M715.7 179.6h0M970.4 228.1h0M384.3 189.8h0M1198.5 171.7h0M846.9 228.3h0M451.7 196.8h0M676.4 175.5h0M1146.2 147h0M987.8 155.3h0M462.8 255.9h0M1153.2 295h0M546.1 197h0M1035.1 180.8h0M237.4 227.9h0M1013.9 152.6h0M988.7 177.5h0M1232.7 264.6h0M1243 186.4h0M1358.2 275.7h0M1088.8 167.5h0M1117.2 240.7h0M311.4 188.4h0M153.1 234.2h0M130.9 239.7h0M1181.4 251.3h0M987.6 275.7h0M1117.7 249.8h0M1039.1 247.9h0M989.1 260.6h0M1129.9 252.7h0M987.5 285h0M1271.7 181.2h0M1136.2 242.7h0M1032.9 264.1h0M1237.7 177.9h0M1461.7 209.3h0M1202.2 176.5h0M1461.6 201.7h0M1218.8 107.9h0M507.6 233.2h0M1212.4 239.7h0M440.3 199.1h0M638.7 183.5h0M671.2 190.7h0M1102.4 192.1h0M1212.6 169.2h0M116.6 198.8h0M999.5 236.4h0M1362.4 199.7h0M496.1 231.6h0M1196.5 258.7h0M1133.4 186.9h0M1372.3 199.4h0M1290.3 271.6h0M1098.4 186.5h0M1294.8 264.7h0M1278 259.6h0M1330.1 268.3h0M857 221.5h0M1073 167.3h0M1251.1 121.1h0M1327.8 208.2h0M1131.2 188.4h0M1081.7 273.8h0M1017 174.1h0M1032.5 121.2h0M170.6 194.1h0M432.2 258.1h0M1345.6 267.8h0M1013.6 179.6h0M1455.5 245.7h0M1070.7 242.8h0M1134.6 251.6h0M787.7 194.9h0M1020.9 253.6h0M1045.2 169.9h0M1363.9 289.4h0M1284.8 326.4h0M1247.1 268.2h0M1158.1 183.8h0M985.3 178.1h0M683.9 236.3h0M1199.1 276.7h0M1261.2 322.8h0M588.9 196.4h0M1257.2 174.8h0M681.3 228.1h0M474.4 251.1h0M1309.8 275.2h0M450.5 195.5h0M874.3 214h0M268.3 196.2h0M1392.9 273.6h0M1352.1 274.6h0M1195.3 194h0M787.8 239.6h0M641.2 187.9h0M1260.7 291.4h0M1341.9 263.4h0M1175 318.1h0M121.7 191.8h0M907.2 211.5h0M373.9 244.5h0M1461.7 235.4h0M1185.8 179.6h0M1020.3 249.7h0M446.5 248.5h0M1125.7 246.8h0M1120.6 195.4h0M1203.9 144.2h0M1073.6 138.2h0M449.7 253.6h0M1034.3 258.4h0M1136 251.9h0M1411.6 262.1h0M1008.9 181.3h0M750.3 192.6h0M1148.6 239.9h0M894.3 137.1h0M1288.7 279.8h0M1158.8 191.9h0M1073.3 159.1h0M987.6 179.6h0M1320.7 290.9h0M1178.7 239.3h0M360 238.8h0M1405 192.6h0M1350.9 189.4h0M770.6 232.3h0M1362.3 280.1h0M1284 321.6h0M904.6 213.1h0M491.4 182.9h0M540.9 241.1h0M1225.8 146.1h0M586 194.2h0M1033.2 179.9h0M536.4 238.7h0M481.3 191.9h0M398.8 246.3h0M1080.2 248.9h0M725.1 184.9h0M1013.4 167.2h0M677.2 229.2h0M858.4 147h0M988.2 290h0M1222.4 243.7h0M893 207.4h0M1359.1 209.6h0M1283.9 326.4h0M158.5 237.9h0M1149.6 125h0M996.4 168.9h0M226.8 196.8h0M1125.8 244.7h0M918.3 156.6h0M1024 158.2h0M1323.4 184.5h0M404 184.5h0M1136.1 242.9h0M592.2 237.5h0M1185.8 188.5h0M1149 154.8h0M1282.8 271h0M504.9 167.2h0M1214.8 147.5h0M1158.9 190.2h0M333.9 173h0M1184.5 181.3h0M661.1 246.7h0M148.8 234.7h0M1214.2 165.6h0M1287.8 265.8h0M683 225.5h0M453.4 196.6h0M1361.4 211.8h0M1229.8 246.5h0M1430.6 191.3h0M969.6 159.9h0M1153.5 175.5h0M1114.5 163.9h0M849.2 173.6h0M1061.8 192.3h0M1196.1 191.9h0M1362.7 198.4h0M1047.4 182.3h0M1225 272.7h0M1461.2 199.7h0M1117.5 155.6h0M1156 188.7h0M1212.9 159.3h0M1140.3 275h0M1057.1 242.6h0M1154.3 239.6h0M1273.6 163.7h0M1246.1 186.8h0M178.8 194.4h0M988.3 284.4h0M1152.9 300.9h0M800 232.3h0M1206.2 165.6h0M1227.4 242.7h0M988.4 157.7h0M1042 116.8h0M1045.6 241.7h0M160.4 187.2h0M884.4 157.5h0M1043.2 267.7h0M1144.8 179.8h0M1232.6 277.4h0M1161.2 302h0M1222.2 133h0M1152 281.3h0M1359.4 208.5h0M1144.8 173.4h0M1215.8 150.1h0M349 240.6h0M417.1 189.2h0M1277.9 181.6h0M1025.5 172h0M979.5 229.5h0M1116.8 171.9h0M557.7 241.3h0M955 174.3h0M1125.3 167.4h0M1316.4 294.7h0M727.4 237.8h0M454.2 249.7h0M1039.3 275.4h0M1173.9 188.8h0M891.5 157.2h0M1075.9 171.8h0M598.5 235.9h0M226.5 236.8h0M1249.7 189.2h0M875.6 145.9h0M793.1 231.5h0M1064.8 191.9h0M551.3 240.9h0M391 253.1h0M477.8 239.4h0M1095.3 243.5h0M346.7 184.9h0M1107.7 238.7h0M253.9 245.6h0M1258.6 181.8h0M253.1 227.3h0M1044.8 164.3h0M1368.7 198.1h0M725.5 241.9h0M769.8 195.9h0M1315.5 289.1h0M823.7 228.2h0M1091.4 170.8h0M856.7 165.8h0M968.2 241h0M997 231.8h0M486.5 186.9h0M923.2 215h0M987.2 243.3h0M437.3 253.8h0M1037.2 253.3h0M944.7 225.3h0M260.5 189.3h0M617.5 229.5h0M473.2 252.8h0M569.5 245.8h0M1034.4 146.4h0M1148.8 243.4h0M1035 157.1h0M613.9 181.3h0M216.3 235h0M1323.3 277.5h0M636.5 181.3h0M959.8 249.9h0M874.1 134h0M1026.3 247.7h0M1018.9 160.8h0M702.6 176.8h0M995.7 169.4h0M1419.3 272.9h0M1138.8 269.9h0M1270.2 288.6h0M432.2 261.8h0M1449.6 187.8h0M360.6 239.5h0M1196.8 139.9h0M643.8 190h0M1081.8 251.2h0M1221.8 245.8h0M611.1 195.9h0M1348.3 198.6h0M568.9 237.5h0M692.5 175.6h0M1430.7 199h0M753.1 189.7h0M1127 238.7h0M1226.6 282h0M306.5 194.1h0M1124.7 135.3h0M415.7 185.6h0M162 193h0M1350.8 285.4h0M1170.4 131h0M120 234.9h0M397 246h0M1314.9 286.3h0M369 170h0M1075.9 245.8h0M1211.9 186h0M1136.2 253.3h0M1021.2 244.9h0M120.9 188.9h0M1285.2 178.4h0M343.2 229.4h0M1089.1 249.4h0M779.5 195.1h0M1115 154.8h0M1135.5 190h0M252.9 189.3h0M1035.3 269.2h0M1148.7 120h0M718.7 184h0M116.6 210.8h0M876.9 212.2h0M270.7 195.4h0M1287.1 185.7h0M1082 180h0M1053.4 193.4h0M1109.6 186.6h0M578.9 235.6h0M275.6 194.5h0M1125.4 173.7h0M1247.6 187.5h0M1445.4 176h0M1325.2 199.5h0M358.7 238.5h0M439 192.9h0M1153.7 273.7h0M1111.9 245.2h0M370.3 180.8h0M1237 248.1h0M1435.5 255.5h0M1033.9 255.2h0M1304.1 279.9h0M1437.5 190.9h0M1241.6 273.2h0M1046.6 241.2h0M665.2 249.6h0M1195.8 185.6h0M1082.4 140.2h0M785.3 196.8h0M1282.1 326.5h0M1206.3 176.3h0M931.3 164.1h0M990.6 229h0M873.2 137.6h0M622.5 192.4h0M868.7 163.9h0M1210.9 163h0M540.1 195.3h0M1373.7 198.5h0M969.2 159h0M1176.8 248.6h0M1167.8 179.5h0M809.9 194.5h0M1082.1 157.2h0M912.3 208.4h0M188.2 234.7h0M603.6 239.1h0M176.7 187.6h0M1315.2 191.5h0M528.1 187.3h0M535.8 191.9h0M1305.5 272.5h0M260.7 231.4h0M1222.4 129.1h0M750 187.6h0M1197.4 268h0M1272.5 149.3h0M1081.8 154h0M628 192.7h0M1143.6 166.3h0M955.8 226.6h0M1408 260.6h0M396 193h0M1193.9 237.8h0M972.7 181.9h0M1137.6 289h0M161.7 190.5h0M1134.4 241.6h0M158.3 194.1h0M517.7 226.9h0M1124 195.2h0M1459.8 247.5h0M144.2 246.6h0M473.8 261.3h0M257.9 232.6h0M1088 258.7h0M1150.4 244.2h0M1119.1 188.3h0M1184.3 185.3h0M872.4 160.2h0M447.4 197.6h0M1086.4 192.1h0M709 177.6h0M1170.3 192.9h0M220.1 234.4h0M895.9 143.6h0M317.2 243.8h0M1125.9 252.6h0M815.5 192.2h0M1339.6 265.5h0M1071.8 245.5h0M233.3 229.4h0M1437.1 251h0M1278.7 177.3h0M988.3 254.5h0M1015 190.2h0M330.6 193.3h0M1261.2 314.5h0M1337.3 270.8h0M1297.8 172.7h0M1082.4 254.1h0M1049.9 192.6h0M856.7 152.8h0M1039.3 273.1h0M1260.2 284.8h0M296 230.1h0M575 236.9h0M773.7 182.2h0M1056.3 183.3h0M532.5 236.2h0M573.4 236.9h0M1227.7 179.2h0M939 170.1h0M1039.7 97.5h0M841.7 226h0M1255.5 266.7h0M970.9 158.8h0M200.7 193.9h0M399.1 192.4h0M648 238.6h0M312.2 228.6h0M1214.9 183.5h0M964.6 178.4h0M991 264h0M402.2 190.6h0M234.9 233.7h0M279.5 195.3h0M629.2 226.4h0M954.2 229h0M261 190h0M1246.7 253.6h0M756 230.3h0M667.2 243.4h0M129.3 181.8h0M1143.9 238.9h0M266.4 183h0M1012.2 173.3h0M1106.9 245.3h0M263.2 193.6h0M987.5 293.8h0M792.3 196.3h0M192.7 232.9h0M116.5 231.4h0M917.2 209h0M1261.2 341.5h0M378.5 188.4h0M931.1 216.6h0M1025.4 248.1h0M1136.8 243.3h0M623.6 231h0M223.6 231.2h0M1203.3 191.4h0M1059.9 178.3h0M1422 198.7h0M1147 187.4h0M468.5 187.1h0M1175.1 170.2h0M715 230h0M1148.3 272.1h0M315.7 186.2h0M794 189.9h0M415.4 249.8h0M770.7 192.8h0M279.7 194.8h0M1035.2 258.9h0M1261.3 334.4h0M731.6 237.8h0M793.1 237.6h0M1350.1 287.3h0M153.7 195.2h0M963.9 179.8h0M633.1 228.5h0M598.5 238h0M896 149h0M825.4 192.1h0M1311 315.2h0M1195.8 179.6h0M1123.4 153.8h0M883.2 143.8h0M693.6 153.3h0M779.2 234.2h0M1099.7 194.8h0M1270.9 173.3h0M1152.8 253.6h0M1282.3 321.1h0M1081.1 266.2h0M1106.5 179.6h0M289.9 191.2h0M1089.8 148.2h0M1348.4 192.5h0M229.3 195.5h0M1280 260.7h0M1249 261.2h0M1125.7 182h0M1109.8 152.9h0M673.4 187.3h0M1373.7 270.3h0M1282.4 271.7h0M1257 166.4h0M1208 184.3h0M1245.7 253.5h0M1147.7 148.8h0M1402.7 257.8h0M1215.2 119.2h0M482.6 240.2h0M904.9 157.7h0M116.6 200.4h0M1031.2 118.7h0M1111.8 169h0M1057.7 186.7h0M1059.6 170.7h0M896.6 207.7h0M1137.1 190.7h0M1334.2 266.7h0M1137.4 271.9h0M711.1 179.6h0M1304.4 274h0M848.3 226.1h0M977.6 228.5h0M1313.9 301.7h0M945.4 175.8h0M1126.2 152.7h0M1269.5 289.6h0M1261.7 289.3h0M1018 186.6h0M851.9 171.9h0M702.7 168.8h0M1010.2 239.3h0M476.7 243.2h0M1212.7 180.5h0M1203.3 158.7h0M1168.5 146.6h0M551.6 193.6h0M207.8 237.6h0M1271.5 155.4h0M1177.8 181h0M1122.4 172.8h0M311.3 183.9h0M1106.3 247.4h0M896.5 138.3h0M1237.5 175.3h0M1261.3 339.8h0M249.9 225.8h0M1155.6 185.6h0M546.4 239.1h0M1144.2 150.2h0M257.9 192.5h0M1078.1 161.9h0M1089.5 247.2h0M307.5 193.4h0M1093.6 243.1h0M1133.8 248.3h0M1124 168.6h0M1136.1 258.3h0M627.9 190.2h0M856.5 165.2h0M956.6 179.3h0M1090.2 167.8h0M1124.3 246.3h0M517.1 228.4h0M1143.7 184.3h0M1128.2 196.4h0M224.7 192.3h0M1113.8 180.1h0M1272.1 159.1h0M1135.3 294.1h0M1013 155.4h0M668.3 191.7h0M1080.3 173.4h0M743.4 189.7h0M1278.9 261.2h0M1012.3 156.4h0M362.9 186.8h0M969.9 145.1h0M976.1 177.8h0M1228.8 159.4h0M1089.5 258.4h0M913.9 149.1h0M1266.2 292.5h0M217.5 235.3h0M1080.9 276h0M1183.9 177.2h0M1211.8 138.4h0M1245.3 261.9h0M971.2 160.2h0M1252.6 143.5h0M1321.2 292.1h0M1110.9 241.8h0M1314.2 283h0M1206.8 159.8h0M1083.4 175.5h0M1041 281.6h0" stroke="#1f77b4" stroke-width="5.5" stroke-linecap="round" fill="none"/>
<polyline points="116.5,204.3 117,204.6 117.5,204.9 118,205.5 118.5,206.5 119,207.2 119.5,207.5 120,207.5 120.5,207.5 121,207.3 121.5,206.9 122,206.8 122.5,207.7 123,209.1 123.5,210.2 124,211.2 124.5,212.2 125,213 125.5,213.4 126,213.3 126.5,213.6 127,214.3 127.5,215.1 128,215.8 128.5,216.5 129,217.1 129.5,217.3 130,217.7 130.5,217.9 131,218.3 131.5,218.1 132,216.8 132.5,214.7 133,213.2 133.5,212.5 134,212.1 134.5,211.3 135,210.2 135.5,209.2 136,208.2 136.5,207.1 137,206.6 137.5,206.6 138,207.3 138.5,207.5 139,207.6 139.5,207.5 140,207.1 140.5,207.1 141,208 141.5,209.1 142,209.9 142.5,210.3 143,209.7 143.5,208.4 144,207.6 144.5,207.8 145,207.7 145.5,206.9 146,206 146.5,206.5 147,208.2 147.5,209.9 148,210.6 148.5,210.5 149,210.6 149.5,211.2 150,212.1 150.5,212.6 151,212.7 151.5,213.3 152,214.4 152.5,215.4 153,215.1 153.5,213.8 154,212.1 154.5,211.3 155,211.5 155.5,212 156,211.9 156.5,211.6 157,211.7 157.5,212.6 158,213.9 158.5,215.1 159,215.5 159.5,215.7 160,216.4 160.5,217.7 161,218.9 161.5,218.9 162,217.5 162.5,215.6 163,213.8 163.5,212.8 164,212.6 164.5,213.1 165,213.8 165.5,214.4 166,214.6 166.5,214.3 167,213.6 167.5,212.4 168,211.1 168.5,210.5 169,210.5 169.5,210.7 170,210.8 170.5,210.9 171,211.2 171.5,211.7 172,212 172.5,212 173,211.7 173.5,210.8 174,209.4 174.5,208.3 175,208.1 175.5,208.6 176,209.1 176.5,209.4 177,209.5 177.5,210 178,210.6 178.5,210.4 179,209.6 179.5,209 180,209.2 180.5,209.8 181,210.5 181.5,211.3 182,211.6 182.5,211.4 183,210.5 183.5,208.9 184,207.4 184.5,207.6 185,209.3 185.5,210.7 186,211 186.5,210.6 187,210.1 187.5,209.8 188,209.9 188.5,210 189,209.6 189.5,208.8 190,208 190.5,207.7 191,208.3 191.5,209.6 192,210.7 192.5,211.3 193,211.4 193.5,211.3 194,210.9 194.5,210.5 195,210.3 195.5,210.9 196,211.8 196.5,212.2 197,211.3 197.5,210.2 198,210 198.5,210.7 199,211.3 199.5,211.2 200,210.4 200.5,209.2 201,208.4 201.5,208.4 202,209.2 202.5,210.1 203,210.5 203.5,210.8 204,211.2 204.5,211.1 205,210.2 205.5,209.1 206,209 206.5,209.7 207,210.1 207.5,210 208,210.2 208.5,211.2 209,212.7 209.5,214 210,214.1 210.5,212.8 211,211.4 211.5,211.2 212,212.2 212.5,213 213,212.7 213.5,211 214,209.3 214.5,208.8 215,209.9 215.5,211.4 216,212.2 216.5,211.7 217,210.5 217.5,209.9 218,210.3 218.5,211.2 219,211.8 219.5,211.4 220,210.5 220.5,210.1 221,210.8 221.5,211.6 222,211.9 222.5,211.5 223,210.9 223.5,210.8 224,211.2 224.5,211.9 225,212.1 225.5,212 226,211.7 226.5,211.4 227,211 227.5,211.1 228,211.5 228.5,211.5 229,211.2 229.5,211.6 230,212.8 230.5,213.3 231,212.4 231.5,211.2 232,210.9 232.5,211.5 233,212.1 233.5,212.4 234,212.9 234.5,213.9 235,215 235.5,215.3 236,214.8 236.5,214.8 237,215.8 237.5,216.4 238,215.9 238.5,214.7 239,213.6 239.5,213.3 240,213.8 240.5,214.8 241,215.4 241.5,215 242,213.3 242.5,210.9 243,209.6 243.5,210 244,211.4 244.5,212.8 245,213.6 245.5,213.1 246,211.6 246.5,210 247,209 247.5,208.9 248,209.5 248.5,210.2 249,210.9 249.5,211.2 250,210.9 250.5,210.5 251,210 251.5,209.3 252,208.6 252.5,208.5 253,208.7 253.5,208.8 254,209.2 254.5,209.9 255,210.5 255.5,211 256,211 256.5,211 257,211.3 257.5,211.7 258,211.9 258.5,211.9 259,211.8 259.5,211.6 260,211.4 260.5,211.3 261,210.8 261.5,209.7 262,208.9 262.5,209.2 263,210 263.5,210.6 264,211 264.5,211.2 265,210.7 265.5,210 266,209.5 266.5,209.2 267,209.3 267.5,209.9 268,210.9 268.5,211.8 269,212.3 269.5,212.8 270,212.9 270.5,212.8 271,212.4 271.5,211.9 272,211.6 272.5,211.6 273,211.7 273.5,211.8 274,212 274.5,212.4 275,212.6 275.5,212.3 276,211.6 276.5,211 277,210.6 277.5,209.6 278,208.1 278.5,206.9 279,206.4 279.5,206.6 280,207.1 280.5,208 281,208.9 281.5,209.5 282,210.1 282.5,211.1 283,212.4 283.5,213.3 284,213.2 284.5,211.9 285,210 285.5,208.5 286,207.7 286.5,207.2 287,207.3 287.5,208.3 288,210.2 288.5,211.7 289,212.1 289.5,211.4 290,210.5 290.5,210.1 291,210.7 291.5,211.7 292,212.4 292.5,213.2 293,214.5 293.5,215.4 294,215.4 294.5,214.9 295,214.4 295.5,213.7 296,212.6 296.5,211.2 297,210.5 297.5,210.7 298,210.9 298.5,210.9 299,211.3 299.5,212.3 300,213.2 300.5,213.5 301,212.9 301.5,212.3 302,211.9 302.5,211.7 303,211.8 303.5,212.6 304,213.4 304.5,213.5 305,212.6 305.5,211.3 306,210.1 306.5,209.6 307,209.9 307.5,210.8 308,211.9 308.5,212 309,210.9 309.5,210.1 310,209.9 310.5,209.5 311,208.6 311.5,208.3 312,209.1 312.5,210.3 313,211.1 313.5,211.6 314,212 314.5,211.6 315,210.5 315.5,209.7 316,209.9 316.5,210.4 317,210.5 317.5,210.2 318,210 318.5,210.2 319,210.2 319.5,209.8 320,209.5 320.5,210 321,211 321.5,211.9 322,212.2 322.5,211.8 323,211.1 323.5,210.7 324,211.1 324.5,212.4 325,213.3 325.5,213.4 326,213.2 326.5,213.3 327,213.2 327.5,212.6 328,211.4 328.5,210.2 329,209.3 329.5,208.9 330,209.1 330.5,209.7 331,209.6 331.5,208.6 332,207.7 332.5,207.9 333,208.9 333.5,209.5 334,209.6 334.5,209.3 335,208.5 335.5,207.5 336,207 336.5,207 337,207.2 337.5,207.4 338,207.4 338.5,207.4 339,207.9 339.5,208 340,207.4 340.5,207 341,207.4 341.5,208.5 342,209.2 342.5,209.3 343,209.1 343.5,209.1 344,209.2 344.5,209.4 345,209.5 345.5,209.4 346,208.7 346.5,208.1 347,208.7 347.5,211 348,213.5 348.5,214.8 349,214.8 349.5,214.4 350,214.3 350.5,214.1 351,213.6 351.5,213.2 352,212.8 352.5,212.5 353,212 353.5,211.3 354,211.1 354.5,212.1 355,213.4 355.5,213.9 356,213.5 356.5,213 357,212.6 357.5,211.8 358,211.2 358.5,211.2 359,211 359.5,210.4 360,209.9 360.5,209.7 361,209.6 361.5,209.1 362,209 362.5,209.8 363,210.7 363.5,210.9 364,210.2 364.5,208.5 365,206.5 365.5,205 366,204.4 366.5,204.2 367,203.7 367.5,202.8 368,203.6 368.5,206 369,208.4 369.5,210 370,211.1 370.5,211.3 371,211.4 371.5,211.7 372,211.6 372.5,211 373,210 373.5,208.8 374,207.7 374.5,206.9 375,206.2 375.5,206.4 376,206.9 376.5,207 377,207.3 377.5,208 378,208.9 378.5,209.6 379,210 379.5,210.5 380,210.8 380.5,210.9 381,211.1 381.5,211.2 382,211.5 382.5,212 383,212.8 383.5,213.6 384,214.2 384.5,214.7 385,214.7 385.5,214.4 386,214.3 386.5,214.9 387,215.8 387.5,216 388,215.2 388.5,214 389,213.4 389.5,214.2 390,216.5 390.5,219.2 391,220 391.5,218.8 392,217.6 392.5,217.6 393,217.9 393.5,217.6 394,217.1 394.5,216.4 395,215.5 395.5,214.5 396,213.9 396.5,213.7 397,213.5 397.5,213.1 398,212.5 398.5,211.9 399,211.9 399.5,213.1 400,214.1 400.5,214.3 401,213.7 401.5,213.2 402,213 402.5,213.2 403,213.7 403.5,214.1 404,214.2 404.5,214 405,214.1 405.5,214.6 406,215.5 406.5,216.6 407,217.9 407.5,219 408,219.6 408.5,220 409,219.7 409.5,218.5 410,217.1 410.5,216.3 411,216.2 411.5,216.2 412,215.7 412.5,214.6 413,213.5 413.5,213 414,213.1 414.5,213.2 415,213.1 415.5,213.3 416,213.8 416.5,213.6 417,212.5 417.5,210.7 418,209 418.5,208 419,207.7 419.5,207.9 420,208.2 420.5,208.5 421,208.6 421.5,208.5 422,208.9 422.5,209.7 423,210.9 423.5,211.8 424,211.9 424.5,211.4 425,211.2 425.5,211.4 426,211.7 426.5,212.5 427,213.9 427.5,215.5 428,217 428.5,218.2 429,219 429.5,219.3 430,219.7 430.5,220.1 431,220.1 431.5,219.8 432,220.4 432.5,222.1 433,223.5 433.5,224 434,223.7 434.5,223.1 435,222.5 435.5,222.1 436,222.3 436.5,222.6 437,222.3 437.5,221.1 438,219.8 438.5,219.2 439,219.5 439.5,220.7 440,222.2 440.5,222.9 441,222.4 441.5,221 442,219.8 442.5,219.5 443,219.9 443.5,220.3 444,220.5 444.5,220.8 445,221.2 445.5,221.8 446,222.4 446.5,222.5 447,221.8 447.5,220.3 448,218.8 448.5,218.8 449,220.3 449.5,222.1 450,223.1 450.5,223 451,222.2 451.5,221.5 452,222 452.5,223.8 453,225.9 453.5,226.9 454,226.2 454.5,224.5 455,223 455.5,222.1 456,221.6 456.5,221.1 457,220.7 457.5,220.4 458,220.5 458.5,220.5 459,220.3 459.5,220.3 460,220.5 460.5,220.2 461,219.1 461.5,218.5 462,219.1 462.5,219.7 463,219.2 463.5,218 464,217.2 464.5,216.8 465,216.2 465.5,216.1 466,216.2 466.5,216.2 467,215.8 467.5,215.4 468,215.8 468.5,217.4 469,218.7 469.5,219.1 470,218.9 470.5,219 471,219.3 471.5,219.2 472,219.1 472.5,219.7 473,220.7 473.5,221.2 474,220.9 474.5,220.2 475,219.4 475.5,217.9 476,216.7 476.5,216.2 477,217.1 477.5,218.7 478,219.7 478.5,219.1 479,217.5 479.5,216 480,215.2 480.5,214.8 481,213.9 481.5,212.9 482,212.2 482.5,211.9 483,211.7 483.5,211.2 484,210.1 484.5,208.5 485,206.5 485.5,205.2 486,205.4 486.5,206.8 487,208 487.5,208.1 488,207.3 488.5,206 489,205.1 489.5,204.4 490,203.6 490.5,202.6 491,202.3 491.5,202.9 492,203.5 492.5,203.1 493,201.9 493.5,200.5 494,199.6 494.5,199.1 495,198.8 495.5,198.9 496,199.5 496.5,200.1 497,199.6 497.5,198 498,197.2 498.5,197.1 499,197.4 499.5,198.3 500,199.8 500.5,201 501,201.1 501.5,200.6 502,200.2 502.5,200.3 503,200.6 503.5,200.8 504,201 504.5,201.7 505,202.8 505.5,203.2 506,203.6 506.5,204.4 507,205 507.5,205 508,204.7 508.5,204.2 509,203.7 509.5,203.4 510,203.6 510.5,204.2 511,205.1 511.5,205.9 512,206.4 512.5,206.5 513,206.1 513.5,205.7 514,205.7 514.5,206.2 515,207 515.5,207.8 516,208 516.5,207.3 517,205.8 517.5,204.2 518,203.8 518.5,204.7 519,205.6 519.5,205.9 520,205.8 520.5,205.5 521,205.3 521.5,205.2 522,205.4 522.5,205.8 523,205.5 523.5,204.1 524,202.8 524.5,202.9 525,204.4 525.5,206.5 526,208.1 526.5,209.3 527,210.1 527.5,210.3 528,210.4 528.5,211.3 529,212.5 529.5,213.1 530,212.9 530.5,212.5 531,212.4 531.5,212.9 532,213.9 532.5,214.7 533,215.2 533.5,216.2 534,218 534.5,219.6 535,219.9 535.5,219.2 536,219 536.5,219.8 537,221 537.5,221.5 538,220.2 538.5,218.4 539,217 539.5,216.5 540,216.7 540.5,216.4 541,215.6 541.5,214.8 542,214.8 542.5,215 543,215.7 543.5,216 544,215.7 544.5,215 545,214.6 545.5,214.8 546,214.9 546.5,214.6 547,214.4 547.5,214.7 548,215.5 548.5,216.3 549,216.8 549.5,217.4 550,218.3 550.5,218.7 551,218.3 551.5,217.9 552,218.3 552.5,220 553,221.8 553.5,222.1 554,220.7 554.5,219.4 555,219.4 555.5,220.1 556,220.8 556.5,220.9 557,220.5 557.5,219.7 558,219.1 558.5,219.2 559,219.7 559.5,220 560,219.7 560.5,218.8 561,217.7 561.5,216.3 562,215.1 562.5,214.6 563,214.9 563.5,214.9 564,214.4 564.5,213.7 565,213.5 565.5,214.2 566,215.9 566.5,217.5 567,218 567.5,217.5 568,216.9 568.5,216 569,214.5 569.5,213 570,212.4 570.5,212.7 571,212.9 571.5,212.6 572,212.3 572.5,212.1 573,212.4 573.5,212.9 574,213.5 574.5,213.9 575,214 575.5,214.1 576,214.7 576.5,215.6 577,216.2 577.5,216.7 578,217.1 578.5,217.7 579,217.9 579.5,217.2 580,216.4 580.5,216.4 581,217 581.5,217.4 582,217.7 582.5,218.2 583,218.7 583.5,218.7 584,218.1 584.5,217.3 585,216.4 585.5,215.8 586,215.4 586.5,215.4 587,215.9 587.5,216.4 588,216.6 588.5,216.8 589,217 589.5,217.3 590,217.4 590.5,217.6 591,217.8 591.5,218.1 592,218.1 592.5,217.6 593,216.8 593.5,216.1 594,216.1 594.5,216.9 595,218.1 595.5,218.6 596,218.4 596.5,217.5 597,216.2 597.5,214.9 598,214.2 598.5,214.6 599,215.8 599.5,216.7 600,216.7 600.5,216 601,215.5 601.5,215.2 602,214.4 602.5,213.6 603,213.5 603.5,213.8 604,213.9 604.5,213.7 605,214 605.5,214.8 606,215.3 606.5,215 607,214.5 607.5,214.4 608,214.7 608.5,214.4 609,213.4 609.5,212.3 610,211.8 610.5,211.6 611,211.5 611.5,211.3 612,211.2 612.5,211.7 613,212.1 613.5,212 614,211.9 614.5,211.9 615,211.3 615.5,210.5 616,211 616.5,212.7 617,213.8 617.5,213 618,211 618.5,208.7 619,207.2 619.5,207.2 620,208.4 620.5,209.7 621,210.7 621.5,210.6 622,209.3 622.5,207.6 623,207 623.5,207.8 624,208.7 624.5,209.1 625,209.2 625.5,208.8 626,207.8 626.5,206.9 627,206.4 627.5,205.9 628,205.5 628.5,205.3 629,205.1 629.5,204.7 630,204.1 630.5,203.9 631,204.3 631.5,205.3 632,206.1 632.5,205.8 633,205.3 633.5,205.8 634,207.3 634.5,208.6 635,209.3 635.5,209.3 636,208.6 636.5,207.9 637,207.8 637.5,208.2 638,208.6 638.5,208.8 639,209.1 639.5,209.5 640,209.8 640.5,210.3 641,211.3 641.5,212 642,212.6 642.5,213.7 643,214.5 643.5,213.9 644,212 644.5,210.2 645,209.5 645.5,209.7 646,210.1 646.5,210.2 647,210.2 647.5,210.5 648,211.2 648.5,211.9 649,212.4 649.5,212.6 650,212.4 650.5,212.5 651,213.2 651.5,214.2 652,215.2 652.5,215.9 653,216 653.5,215.4 654,214.3 654.5,213.3 655,212.7 655.5,212.7 656,212.9 656.5,213.4 657,214.2 657.5,215 658,216 658.5,217.3 659,218.5 659.5,218.9 660,218.7 660.5,218.5 661,218.4 661.5,218.5 662,218.6 662.5,218.8 663,218.9 663.5,219.2 664,219.3 664.5,217.8 665,216.7 665.5,216.8 666,218.2 666.5,219.1 667,218.7 667.5,217 668,214.9 668.5,212.7 669,210.4 669.5,208.3 670,207.3 670.5,207.9 671,208.5 671.5,207.7 672,206.4 672.5,205.5 673,204.5 673.5,203 674,201.2 674.5,200.2 675,200.2 675.5,200.5 676,200.6 676.5,201 677,201.6 677.5,201.7 678,201.4 678.5,200.7 679,200 679.5,199 680,198 680.5,198 681,199.5 681.5,201.6 682,202 682.5,200.5 683,198.7 683.5,198.2 684,198.8 684.5,199.9 685,200.2 685.5,198.5 686,195.8 686.5,194.6 687,195.7 687.5,197.6 688,198.5 688.5,198 689,196.9 689.5,196.3 690,195.9 690.5,195.2 691,194.5 691.5,194.2 692,194.8 692.5,196.4 693,198 693.5,198.5 694,197.8 694.5,196.6 695,195.5 695.5,194.4 696,193.7 696.5,193.8 697,194.2 697.5,194.4 698,194.9 698.5,196.2 699,197.9 699.5,198.4 700,197.4 700.5,196.3 701,196 701.5,196.6 702,197.4 702.5,197.9 703,198.3 703.5,198.7 704,198.8 704.5,198.4 705,198.3 705.5,198.8 706,199.7 706.5,200.1 707,200.3 707.5,201.1 708,202.5 708.5,203.2 709,203 709.5,202.5 710,202.7 710.5,203.2 711,203.9 711.5,204.6 712,205 712.5,204.9 713,204.6 713.5,204.6 714,204.8 714.5,204.9 715,204.8 715.5,204.8 716,205.3 716.5,205.7 717,205.3 717.5,205 718,205.6 718.5,206.7 719,207.1 719.5,206.8 720,206.4 720.5,206.3 721,207 721.5,209 722,211.4 722.5,213 723,213 723.5,211.9 724,210.5 724.5,209.9 725,210.3 725.5,211.3 726,212.2 726.5,212.5 727,212.5 727.5,213.2 728,214.5 728.5,215 729,214.5 729.5,214.1 730,214.4 730.5,215.3 731,216.2 731.5,216.6 732,216.2 732.5,215.7 733,215.4 733.5,215.3 734,215.2 734.5,214.9 735,214.6 735.5,214.7 736,215 736.5,215.3 737,215.6 737.5,215.4 738,214.6 738.5,213.1 739,211.3 739.5,209.8 740,209.3 740.5,209.9 741,210.7 741.5,210.7 742,209.6 742.5,208.3 743,207.6 743.5,207.7 744,208.3 744.5,208.8 745,208.6 745.5,207.4 746,206.1 746.5,205.3 747,204.8 747.5,204.7 748,205 748.5,205 749,205 749.5,205.8 750,206.7 750.5,207.2 751,207.7 751.5,208.9 752,210.5 752.5,211.7 753,212.1 753.5,212.4 754,212.7 754.5,212.9 755,213.1 755.5,212.9 756,211.9 756.5,210.9 757,210.2 757.5,209.9 758,209.8 758.5,209.7 759,209.8 759.5,209.9 760,209.9 760.5,210 761,210.1 761.5,209.9 762,209.8 762.5,210.2 763,211.1 763.5,212.1 764,212.6 764.5,212.6 765,212.6 765.5,213.1 766,213.5 766.5,212.8 767,211.7 767.5,211.5 768,212.5 768.5,213.6 769,213.9 769.5,213.8 770,213.8 770.5,214.1 771,213.9 771.5,213.1 772,212.3 772.5,211.9 773,212.3 773.5,213.2 774,213.8 774.5,213.8 775,213.5 775.5,213.4 776,213.5 776.5,212.9 777,212.3 777.5,211.9 778,211.4 778.5,210.4 779,209.1 779.5,208.3 780,208.6 780.5,209.8 781,210.9 781.5,211.5 782,211.7 782.5,211.8 783,212.5 783.5,213.4 784,213.7 784.5,212.6 785,210.8 785.5,209.5 786,209 786.5,208.7 787,208.6 787.5,209.1 788,210.4 788.5,211.6 789,212.2 789.5,212.3 790,212.5 790.5,212.7 791,212.4 791.5,212 792,212 792.5,212.8 793,213.6 793.5,213.9 794,213.6 794.5,213.5 795,213.7 795.5,214 796,214.2 796.5,213.8 797,213.3 797.5,213.4 798,214.4 798.5,215 799,214.9 799.5,214.7 800,215 800.5,215.4 801,215.8 801.5,216.2 802,216.8 802.5,216.9 803,216 803.5,214.3 804,212.9 804.5,211.8 805,210.6 805.5,209.8 806,210.6 806.5,212.5 807,214.2 807.5,214.6 808,213.9 808.5,213.3 809,213.4 809.5,214 810,214.3 810.5,214.4 811,214.1 811.5,213.9 812,214.1 812.5,215.1 813,216 813.5,215.9 814,215.3 814.5,214.6 815,214.4 815.5,214.2 816,213.4 816.5,211.9 817,210.7 817.5,210.3 818,210.2 818.5,210.2 819,210.7 819.5,211.2 820,211 820.5,210.2 821,209.8 821.5,210.3 822,210.9 822.5,210.5 823,208.8 823.5,207 824,205.8 824.5,205.3 825,205.4 825.5,205.7 826,206.5 826.5,207.1 827,207 827.5,206.6 828,206.5 828.5,206.6 829,206.6 829.5,206.3 830,206.1 830.5,206.3 831,206.9 831.5,207.4 832,207.4 832.5,207.3 833,207 833.5,206.5 834,206.5 834.5,207.6 835,209.5 835.5,211.3 836,212 836.5,211.3 837,210.3 837.5,210 838,210.9 838.5,212.1 839,212.3 839.5,211.5 840,211.1 840.5,211.1 841,210.8 841.5,210.6 842,211.2 842.5,211.9 843,212.4 843.5,213.2 844,212.4 844.5,210.5 845,207.9 845.5,205.7 846,204.7 846.5,204.4 847,203.4 847.5,201.4 848,199.4 848.5,197.5 849,195 849.5,191.6 850,188.5 850.5,187.3 851,188 851.5,190.2 852,193 852.5,195.3 853,195.4 853.5,192.1 854,187.5 854.5,184.6 855,184.1 855.5,185.2 856,186.5 856.5,187 857,187 857.5,187.1 858,187.6 858.5,186.9 859,185.9 859.5,186 860,186.4 860.5,186.2 861,185.7 861.5,185.8 862,186.4 862.5,187.3 863,188.7 863.5,190.6 864,191.7 864.5,191.8 865,191.8 865.5,192.5 866,193.8 866.5,195.2 867,194.7 867.5,194.2 868,193.6 868.5,192.6 869,191.1 869.5,189.4 870,187.8 870.5,186.4 871,185.3 871.5,183.6 872,181.3 872.5,179.2 873,177.6 873.5,176.7 874,177.1 874.5,178.3 875,179 875.5,178.6 876,179 876.5,176.5 877,172.9 877.5,171.2 878,172 878.5,173.6 879,175.3 879.5,177.3 880,179.5 880.5,181.2 881,181.8 881.5,182.1 882,183 882.5,183.6 883,183.5 883.5,183.2 884,183.6 884.5,184 885,183.7 885.5,183.6 886,184.6 886.5,186.3 887,187.9 887.5,188.6 888,188.4 888.5,187.7 889,187.9 889.5,188.3 890,185 890.5,180.3 891,175.6 891.5,171.6 892,168.7 892.5,167 893,165.5 893.5,164.2 894,163.9 894.5,164 895,166.5 895.5,169.5 896,171.3 896.5,172.2 897,172.1 897.5,172 898,172.8 898.5,174.2 899,175.3 899.5,176.9 900,179.4 900.5,181.3 901,181.6 901.5,180.1 902,178.3 902.5,177.3 903,176.6 903.5,175.3 904,173.2 904.5,171.1 905,170 905.5,169.9 906,170.4 906.5,171.6 907,174 907.5,176 908,175.9 908.5,174.4 909,173.1 909.5,171.7 910,170.4 910.5,170.5 911,171.5 911.5,171.8 912,171.8 912.5,173.2 913,175.2 913.5,175.8 914,174.7 914.5,173 915,172.4 915.5,173.7 916,175.7 916.5,176.8 917,177 917.5,177.7 918,179 918.5,180 919,180.2 919.5,181 920,182.5 920.5,184.6 921,186.6 921.5,187.7 922,188.3 922.5,188.7 923,188.8 923.5,187.9 924,186.8 924.5,186.2 925,187.1 925.5,189.1 926,191 926.5,192 927,192.2 927.5,192.1 928,191.2 928.5,190.3 929,189.7 929.5,189.2 930,188.7 930.5,189.3 931,191.3 931.5,193.8 932,195.1 932.5,194.6 933,193.7 933.5,193.3 934,193.2 934.5,193 935,192.4 935.5,191.5 936,190.5 936.5,189.9 937,190.4 937.5,192.1 938,193.4 938.5,193.5 939,192.7 939.5,191.4 940,190.4 940.5,190.4 941,192 941.5,194.1 942,195.5 942.5,196 943,195.6 943.5,194.2 944,192.2 944.5,190.8 945,190.9 945.5,192.4 946,194.3 946.5,195.8 947,196.4 947.5,195.9 948,195.1 948.5,194.7 949,195.3 949.5,196.1 950,196 950.5,194.9 951,193.7 951.5,193 952,193.1 952.5,193.6 953,193.5 953.5,193.1 954,193.5 954.5,194.3 955,194.8 955.5,194.7 956,194.7 956.5,195.1 957,195.8 957.5,196.4 958,196.8 958.5,197.3 959,198.2 959.5,198.9 960,198.9 960.5,198.5 961,198.1 961.5,198.1 962,198.8 962.5,199.5 963,199.6 963.5,199.2 964,199.2 964.5,199.5 965,199.7 965.5,199.3 966,199.1 966.5,199.3 967,199.6 967.5,200.2 968,201 968.5,200.9 969,200.4 969.5,200.7 970,201.9 970.5,202.5 971,202 971.5,200.8 972,199.3 972.5,198.4 973,198.4 973.5,199 974,199.6 974.5,200.1 975,200.3 975.5,200.6 976,201.7 976.5,203.2 977,203.8 977.5,203.2 978,202.4 978.5,202 979,201.5 979.5,201.1 980,201.2 980.5,202 981,202.8 981.5,203.3 982,203.4 982.5,203.5 983,203.6 983.5,203.4 984,203.1 984.5,204.3 985,206.9 985.5,209.6 986,212.2 986.5,214.7 987,217 987.5,217.3 988,215.2 988.5,213.5 989,211.7 989.5,209.6 990,207.3 990.5,204.7 991,203.8 991.5,204.2 992,205.4 992.5,206.6 993,207.5 993.5,207.6 994,207 994.5,205.9 995,204.8 995.5,204.2 996,204.5 996.5,205.4 997,206.3 997.5,206.7 998,206.4 998.5,205.6 999,204.5 999.5,204.1 1000,204.6 1000.5,205.6 1001,206.1 1001.5,206 1002,205.7 1002.5,205.7 1003,205.7 1003.5,205.5 1004,205.3 1004.5,205.2 1005,205.4 1005.5,206 1006,206.7 1006.5,206.8 1007,205.9 1007.5,205 1008,205.3 1008.5,206.7 1009,208 1009.5,208 1010,207.1 1010.5,206.3 1011,206.1 1011.5,206.5 1012,207 1012.5,207.1 1013,206.8 1013.5,206.6 1014,206.8 1014.5,207.1 1015,207 1015.5,207.1 1016,207.4 1016.5,207.5 1017,207.3 1017.5,207.4 1018,207.5 1018.5,207.5 1019,207.6 1019.5,207.4 1020,206.7 1020.5,205.9 1021,205.3 1021.5,205.2 1022,205.3 1022.5,205.7 1023,206.3 1023.5,206.2 1024,205.7 1024.5,205.6 1025,205.9 1025.5,206.5 1026,207.1 1026.5,207.2 1027,206.8 1027.5,206.6 1028,206.7 1028.5,206.8 1029,207.3 1029.5,208.3 1030,209.9 1030.5,212 1031,213.8 1031.5,214.3 1032,213.9 1032.5,213.4 1033,212.8 1033.5,211.9 1034,211.5 1034.5,211.9 1035,212.5 1035.5,212.7 1036,212.2 1036.5,212.2 1037,212.9 1037.5,213.8 1038,214 1038.5,213.3 1039,212.6 1039.5,212.4 1040,211.8 1040.5,210.8 1041,210.1 1041.5,210.5 1042,212 1042.5,213.6 1043,214.6 1043.5,214.7 1044,213.9 1044.5,212.5 1045,211.1 1045.5,210.6 1046,210.9 1046.5,211.7 1047,212.8 1047.5,213.7 1048,214 1048.5,213.1 1049,211.4 1049.5,210 1050,209.5 1050.5,209.8 1051,210.7 1051.5,211.5 1052,211.3 1052.5,210.9 1053,211 1053.5,211.5 1054,211.7 1054.5,211.3 1055,211.5 1055.5,212.9 1056,214.1 1056.5,213.9 1057,212.7 1057.5,211.9 1058,211.9 1058.5,212.9 1059,213.9 1059.5,213.8 1060,212.3 1060.5,210.3 1061,208.8 1061.5,208.2 1062,208.3 1062.5,209.6 1063,211.5 1063.5,213.2 1064,213.7 1064.5,213.1 1065,212 1065.5,210.8 1066,209.9 1066.5,209.5 1067,209.6 1067.5,209.9 1068,210 1068.5,210.4 1069,211 1069.5,212.1 1070,213.4 1070.5,214.5 1071,214.8 1071.5,214.4 1072,214 1072.5,213.8 1073,213.8 1073.5,213.8 1074,213.5 1074.5,212.6 1075,211.8 1075.5,210.9 1076,210.2 1076.5,210.4 1077,211.7 1077.5,212.7 1078,212.1 1078.5,210.8 1079,210.2 1079.5,210.6 1080,210.9 1080.5,210.7 1081,210 1081.5,209.5 1082,209.8 1082.5,210.8 1083,211.5 1083.5,211.4 1084,210.8 1084.5,210.3 1085,210.5 1085.5,211.5 1086,212.6 1086.5,213.3 1087,213.3 1087.5,212.6 1088,211.3 1088.5,209.9 1089,209.3 1089.5,209.9 1090,210.9 1090.5,211.2 1091,211 1091.5,211.1 1092,211.7 1092.5,212.2 1093,212.4 1093.5,212.5 1094,212.6 1094.5,212.9 1095,213.2 1095.5,213.8 1096,214.8 1096.5,215.7 1097,215.7 1097.5,214.6 1098,213 1098.5,211.8 1099,211.4 1099.5,211.4 1100,211.7 1100.5,212.3 1101,213 1101.5,213.9 1102,214.7 1102.5,214.6 1103,214.1 1103.5,213.9 1104,213.8 1104.5,213.4 1105,213.1 1105.5,213.4 1106,214 1106.5,214.3 1107,214.5 1107.5,214.8 1108,214.5 1108.5,213.9 1109,213.6 1109.5,213.8 1110,214.6 1110.5,215.7 1111,216.4 1111.5,216.1 1112,215.1 1112.5,214.2 1113,213.7 1113.5,213.1 1114,212.5 1114.5,212.5 1115,213.1 1115.5,213.3 1116,212.9 1116.5,212.6 1117,212.9 1117.5,213.4 1118,214.2 1118.5,215.1 1119,215.2 1119.5,214.4 1120,213.5 1120.5,213.2 1121,213.1 1121.5,213.4 1122,213.7 1122.5,213.7 1123,213.3 1123.5,212.9 1124,212.9 1124.5,213 1125,212.9 1125.5,212.7 1126,212.8 1126.5,213.4 1127,214.2 1127.5,214.4 1128,213.8 1128.5,213.1 1129,212.9 1129.5,212.7 1130,212.3 1130.5,212 1131,211.8 1131.5,211.5 1132,211.6 1132.5,212.2 1133,212.5 1133.5,212.4 1134,212.2 1134.5,212.2 1135,212.4 1135.5,212.9 1136,213.4 1136.5,213.4 1137,212.7 1137.5,211.8 1138,210.9 1138.5,210.3 1139,210.2 1139.5,210.9 1140,211.9 1140.5,212.8 1141,213.1 1141.5,212.9 1142,212.9 1142.5,213 1143,213 1143.5,212.6 1144,211.9 1144.5,211.4 1145,211.6 1145.5,212.2 1146,212.6 1146.5,212.5 1147,212 1147.5,211.4 1148,211 1148.5,210.8 1149,210.8 1149.5,211.3 1150,212.3 1150.5,213.4 1151,213.9 1151.5,214.8 1152,216.1 1152.5,218 1153,220.3 1153.5,221.6 1154,222 1154.5,222.9 1155,225.3 1155.5,225.6 1156,225.4 1156.5,224.6 1157,223.2 1157.5,220.7 1158,217.5 1158.5,214.7 1159,213 1159.5,212.6 1160,212.3 1160.5,212.1 1161,211.9 1161.5,211.3 1162,210.1 1162.5,209 1163,208.3 1163.5,208 1164,208.3 1164.5,209.3 1165,210.5 1165.5,210.7 1166,210 1166.5,209.3 1167,208.9 1167.5,208.5 1168,207.9 1168.5,207.4 1169,207.3 1169.5,208.2 1170,209.4 1170.5,210.2 1171,210 1171.5,209.3 1172,208.9 1172.5,209.1 1173,209.7 1173.5,210 1174,209.5 1174.5,208.5 1175,208.3 1175.5,209.2 1176,210.4 1176.5,211.5 1177,212.4 1177.5,213.2 1178,214.1 1178.5,214.4 1179,214.1 1179.5,213.9 1180,214.3 1180.5,214.7 1181,214.2 1181.5,212.8 1182,211.4 1182.5,211 1183,211.5 1183.5,212.1 1184,212.5 1184.5,212.7 1185,213.1 1185.5,214.1 1186,215.2 1186.5,215.5 1187,214.5 1187.5,212.7 1188,211.9 1188.5,212.7 1189,213.6 1189.5,213.6 1190,213.1 1190.5,213.4 1191,214 1191.5,213.6 1192,212.5 1192.5,212.1 1193,212.3 1193.5,212.3 1194,212.2 1194.5,212.1 1195,212.4 1195.5,212.9 1196,213.4 1196.5,213.6 1197,213.6 1197.5,213.5 1198,213.3 1198.5,213.8 1199,214.7 1199.5,215 1200,214.3 1200.5,213.6 1201,213.3 1201.5,213 1202,212.8 1202.5,213.1 1203,213.3 1203.5,212.9 1204,212 1204.5,211.1 1205,210.3 1205.5,209.7 1206,209.4 1206.5,209.3 1207,209.3 1207.5,209.5 1208,210.2 1208.5,210.7 1209,210.6 1209.5,209.8 1210,208.7 1210.5,207.7 1211,206.6 1211.5,205.6 1212,205.3 1212.5,205.6 1213,205.9 1213.5,205.9 1214,205.6 1214.5,205 1215,204.3 1215.5,203.9 1216,203.8 1216.5,203.5 1217,202.8 1217.5,202.1 1218,202.5 1218.5,203.5 1219,204.1 1219.5,204.3 1220,204.3 1220.5,203.9 1221,203.8 1221.5,204.7 1222,206.4 1222.5,207.6 1223,207.8 1223.5,207.4 1224,207.4 1224.5,208.2 1225,209.3 1225.5,209.8 1226,209.5 1226.5,209.3 1227,209.5 1227.5,209.7 1228,209.9 1228.5,210.5 1229,211.2 1229.5,212.3 1230,213.9 1230.5,215.9 1231,217.1 1231.5,217.6 1232,218.1 1232.5,218.8 1233,218.9 1233.5,217.9 1234,217 1234.5,216.6 1235,216.6 1235.5,216.8 1236,216.7 1236.5,216.1 1237,215.4 1237.5,214.8 1238,214.7 1238.5,214.9 1239,215.7 1239.5,216.8 1240,217.5 1240.5,217.7 1241,218 1241.5,218.2 1242,217.6 1242.5,216.2 1243,215.2 1243.5,215.4 1244,216.1 1244.5,216.2 1245,215.9 1245.5,216 1246,216.3 1246.5,216.3 1247,215.7 1247.5,215.2 1248,214.9 1248.5,214.5 1249,214.1 1249.5,213.8 1250,213.2 1250.5,212.1 1251,211.6 1251.5,211.7 1252,211.4 1252.5,210.7 1253,210.1 1253.5,209.1 1254,208.8 1254.5,209.5 1255,210.9 1255.5,212.5 1256,214.5 1256.5,217.1 1257,219.5 1257.5,220.3 1258,219.6 1258.5,219 1259,220.1 1259.5,222.1 1260,223.1 1260.5,223.6 1261,224.5 1261.5,225.2 1262,225.6 1262.5,225.8 1263,225.1 1263.5,223.6 1264,222.4 1264.5,221.7 1265,221 1265.5,220.7 1266,221.9 1266.5,223.5 1267,223.9 1267.5,223.7 1268,224.1 1268.5,225.6 1269,227.9 1269.5,229.5 1270,228.8 1270.5,226.1 1271,223.1 1271.5,221.9 1272,223.3 1272.5,225.8 1273,227.6 1273.5,227.8 1274,226.2 1274.5,224.4 1275,223.9 1275.5,224.2 1276,223.7 1276.5,222.4 1277,221.2 1277.5,220.4 1278,221 1278.5,222.5 1279,222.5 1279.5,220.8 1280,219.9 1280.5,221.8 1281,226 1281.5,229.6 1282,230.9 1282.5,230.4 1283,229.2 1283.5,228.8 1284,229.1 1284.5,228.7 1285,227.9 1285.5,227.8 1286,228.1 1286.5,227.4 1287,226 1287.5,225.2 1288,225.8 1288.5,226.9 1289,227.5 1289.5,227.7 1290,227.8 1290.5,227.4 1291,226.6 1291.5,226.1 1292,225.8 1292.5,224.5 1293,222.6 1293.5,221.5 1294,221.5 1294.5,222 1295,222.5 1295.5,222 1296,220.5 1296.5,219.9 1297,222.1 1297.5,225.9 1298,228.4 1298.5,228.3 1299,227.4 1299.5,227.8 1300,229.2 1300.5,230.1 1301,230.5 1301.5,231 1302,230.6 1302.5,228.7 1303,226.2 1303.5,224.5 1304,224.6 1304.5,226 1305,227.4 1305.5,228.5 1306,230 1306.5,231.8 1307,232.8 1307.5,232.1 1308,230.3 1308.5,228.9 1309,229.2 1309.5,231.1 1310,233.6 1310.5,235.9 1311,236.7 1311.5,235.6 1312,234.7 1312.5,235.7 1313,238.9 1313.5,242.8 1314,245 1314.5,244.6 1315,243 1315.5,241.9 1316,241.2 1316.5,240.6 1317,239.7 1317.5,240.1 1318,242.3 1318.5,245.1 1319,246.4 1319.5,245.6 1320,243.7 1320.5,242.7 1321,243.5 1321.5,245.5 1322,247.1 1322.5,246.4 1323,243.5 1323.5,241.2 1324,241.2 1324.5,242.8 1325,244.6 1325.5,245.9 1326,246.8 1326.5,247.2 1327,246.2 1327.5,243.2 1328,240.3 1328.5,240 1329,242.2 1329.5,244.1 1330,243.3 1330.5,240.5 1331,238.3 1331.5,238.4 1332,240.4 1332.5,242.7 1333,243.4 1333.5,242.2 1334,240.7 1334.5,239.7 1335,239.5 1335.5,240 1336,240.6 1336.5,239.7 1337,237.8 1337.5,237.2 1338,238.6 1338.5,239.7 1339,238.1 1339.5,234.6 1340,231.8 1340.5,230.6 1341,230.7 1341.5,231.5 1342,233.2 1342.5,234.9 1343,236 1343.5,236.5 1344,235.9 1344.5,234.1 1345,232.2 1345.5,231.7 1346,231.7 1346.5,231 1347,229.8 1347.5,229 1348,229.1 1348.5,229.5 1349,229.8 1349.5,230 1350,230.4 1350.5,230.4 1351,229.7 1351.5,229.1 1352,229.4 1352.5,230.6 1353,231.5 1353.5,231.1 1354,230.4 1354.5,230.8 1355,232 1355.5,232.5 1356,232.4 1356.5,232.7 1357,233.4 1357.5,234.2 1358,235.3 1358.5,237.5 1359,240 1359.5,241.4 1360,241.7 1360.5,241.2 1361,240.6 1361.5,241.2 1362,243.2 1362.5,245.4 1363,246.7 1363.5,247.4 1364,248.2 1364.5,249.3 1365,249.7 1365.5,248 1366,245.6 1366.5,243.7 1367,243 1367.5,242.8 1368,241.8 1368.5,240.4 1369,238.9 1369.5,237.1 1370,235.4 1370.5,235.2 1371,235.9 1371.5,235.5 1372,233.8 1372.5,232 1373,230.2 1373.5,227.3 1374,224.3 1374.5,222.6 1375,222.1 1375.5,221.6 1376,220.7 1376.5,220 1377,220.2 1377.5,220.6 1378,221.6 1378.5,222.3 1379,222.4 1379.5,222.7 1380,223.8 1380.5,225.3 1381,226.2 1381.5,225.8 1382,225.3 1382.5,225.5 1383,226.3 1383.5,227.1 1384,227.3 1384.5,227.3 1385,228.3 1385.5,230.9 1386,233.2 1386.5,233.9 1387,233.1 1387.5,232.3 1388,232.4 1388.5,232.9 1389,233.3 1389.5,233.7 1390,234.4 1390.5,235 1391,234.9 1391.5,234.2 1392,232.9 1392.5,231.5 1393,230.2 1393.5,228.7 1394,227.9 1394.5,228.2 1395,228.9 1395.5,229 1396,228.4 1396.5,227.4 1397,226.9 1397.5,226.9 1398,226 1398.5,223.9 1399,222.2 1399.5,222.3 1400,223.8 1400.5,224.9 1401,225.1 1401.5,225.2 1402,225.5 1402.5,225.6 1403,225.4 1403.5,225.4 1404,225.8 1404.5,225.9 1405,224.9 1405.5,223.6 1406,222.7 1406.5,222.4 1407,222.2 1407.5,222.1 1408,222.3 1408.5,222.8 1409,223.1 1409.5,223 1410,222.3 1410.5,221.5 1411,221.7 1411.5,223.2 1412,225.4 1412.5,227.2 1413,227.8 1413.5,227 1414,225.6 1414.5,224.4 1415,224 1415.5,224.8 1416,226.2 1416.5,227.2 1417,227.4 1417.5,227.6 1418,228.2 1418.5,228.9 1419,229.6 1419.5,229.9 1420,229.4 1420.5,227.7 1421,226.3 1421.5,225.6 1422,225.5 1422.5,225.7 1423,225.6 1423.5,225 1424,224 1424.5,223 1425,222.5 1425.5,222.6 1426,222.7 1426.5,221.8 1427,220 1427.5,218.5 1428,218.3 1428.5,218.5 1429,218.4 1429.5,218.4 1430,219 1430.5,220.1 1431,221.3 1431.5,221.9 1432,221.6 1432.5,220.9 1433,221.1 1433.5,222.5 1434,223.9 1434.5,224.5 1435,224 1435.5,222.4 1436,220.5 1436.5,218.8 1437,217.3 1437.5,216.8 1438,216.9 1438.5,216.2 1439,215.2 1439.5,214.4 1440,213.7 1440.5,212.4 1441,210.6 1441.5,209.2 1442,210 1442.5,211.4 1443,212.2 1443.5,212.8 1444,213.6 1444.5,214.5 1445,215.5 1445.5,216.8 1446,218.6 1446.5,220.6 1447,221.6 1447.5,220.9 1448,219.5 1448.5,218.7 1449,218.8 1449.5,219.6 1450,220.8 1450.5,222.7 1451,225.3 1451.5,227.5 1452,227.9 1452.5,226.4 1453,225.5 1453.5,225 1454,224.6 1454.5,224.3 1455,224.4 1455.5,224.5 1456,223.5 1456.5,221.3 1457,219.3 1457.5,218.6 1458,218.3 1458.5,217.2 1459,215.9 1459.5,215.3 1460,214.5 1460.5,213.5 1461,214 1461.5,215.9 1462,217 1462.5,217" fill="none" stroke="#ff7f0e" stroke-width="2.1" stroke-linejoin="round"/></g>
<path d="M116.5 518.5v4.9M284.5 518.5v4.9M452.5 518.5v4.9M621.5 518.5v4.9M789.5 518.5v4.9M957.5 518.5v4.9M1125.5 518.5v4.9M1294.5 518.5v4.9M116.5 76.5h-4.9M116.5 136.5h-4.9M116.5 195.5h-4.9M116.5 255.5h-4.9M116.5 314.5h-4.9M116.5 374.5h-4.9M116.5 433.5h-4.9M116.5 493.5h-4.9" stroke="#000" stroke-width="1.1" fill="none"/>
<rect x="116.5" y="38.5" width="1346.0" height="480.0" fill="none" stroke="#000" stroke-width="1.1"/>
<text x="105.7" y="84.7" text-anchor="end" font-size="22.2">2</text>
<text x="105.7" y="144.7" text-anchor="end" font-size="22.2">1</text>
<text x="105.7" y="203.7" text-anchor="end" font-size="22.2">0</text>
<text x="105.7" y="263.7" text-anchor="end" font-size="22.2">−1</text>
<text x="105.7" y="322.7" text-anchor="end" font-size="22.2">−2</text>
<text x="105.7" y="382.7" text-anchor="end" font-size="22.2">−3</text>
<text x="105.7" y="441.7" text-anchor="end" font-size="22.2">−4</text>
<text x="105.7" y="501.7" text-anchor="end" font-size="22.2">−5</text>
<rect x="1047.7" y="48.7" width="405.8" height="79.5" rx="3.6" fill="#fff" fill-opacity="0.8" stroke="#ccc" stroke-width="1.1"/>
<circle cx="1073.4" cy="63.5" r="2.8" fill="#1f77b4"/>
<path d="M1053 101.8H1092" stroke="#ff7f0e" stroke-width="2.1"/>
<text font-size="18.52" x="1105.8" y="68.9">Raw Data</text>
<text font-size="18.52" x="1105.8" y="96.4">Butterworth Filtered Data</text>
<text font-size="18.52" x="1105.8" y="116.6">(N=6, Tc=3.3333 min, Type: low)</text>
<rect x="825.8" y="575.5" width="519.0" height="479.0" fill="#d3d3d3" fill-opacity="0.5"/>
<path d="M116.5 1054.5V575.5M284.5 1054.5V575.5M452.5 1054.5V575.5M621.5 1054.5V575.5M789.5 1054.5V575.5M957.5 1054.5V575.5M1125.5 1054.5V575.5M1294.5 1054.5V575.5M116.5 1033.5H1462.5M116.5 945.5H1462.5M116.5 857.5H1462.5M116.5 769.5H1462.5M116.5 681.5H1462.5M116.5 593.5H1462.5" stroke="#b0b0b0" stroke-width="1.1" stroke-dasharray="1.1 1.83" fill="none"/>
<g clip-path="url(#cb)"><path d="M116.5 935V947M116.5 955V984M116.5 1003.5V1020M117.5 922V1020M118.5 919.5V1018.5M119.5 919V1017.5M120.5 919V1017M121.5 918.5V1016M122.5 917.5V1014M123.5 913V1013M124.5 912V1012M125.5 910V1011M126.5 910V1011.5M127.5 918.5V1012M128.5 924V1013M129.5 925V1022M130.5 925.5V1022M131.5 925V1021.5M132.5 924V1021.5M133.5 921.5V1021.5M134.5 903V911.5M134.5 921V1022M135.5 921V1022M136.5 924V1021.5M137.5 896V906.5M137.5 925V1022M138.5 896V906.5M138.5 925V1022M139.5 924.5V1022M140.5 914.5V923M140.5 923.5V1022M141.5 909.5V1023M142.5 894V904.5M142.5 906V1024M143.5 887V1025M144.5 891.5V1026M145.5 892.5V1025.5M146.5 892V1024M147.5 891V1023M148.5 886.5V1023M149.5 887V1023.5M150.5 851V862M150.5 887V1024.5M151.5 886.5V1025.5M152.5 886.5V1027.5M153.5 891.5V899.5M153.5 907V1027.5M154.5 908V1026.5M155.5 908V1025M156.5 909V1024M157.5 909.5V1023M158.5 908.5V1022M159.5 907V1021.5M160.5 894.5V1021.5M161.5 893.5V1022M162.5 886V1022M163.5 874V882.5M163.5 883.5V1021.5M164.5 871.5V1022M165.5 871.5V1023M166.5 877.5V1024M167.5 879V1024.5M168.5 880V1024.5M169.5 879.5V1024M170.5 878.5V1023M171.5 870.5V1022.5M172.5 866V1023.5M173.5 866V1027M174.5 866V1027M175.5 866.5V1024M176.5 882V892.5M176.5 895V1023M177.5 906V1022.5M178.5 907.5V1023M179.5 908.5V1024M180.5 908V1026M181.5 907V1026M182.5 918.5V1026.5M183.5 925V1027.5M184.5 926V1028.5M185.5 926.5V1028.5M186.5 926.5V1028.5M187.5 926V1028.5M188.5 925.5V1028.5M189.5 924.5V1028M190.5 893.5V904M190.5 923V1027.5M191.5 926.5V1027M192.5 927.5V1027M193.5 928.5V1027M194.5 933V1026.5M195.5 934.5V1027M196.5 936V1027M197.5 937V1027M198.5 936.5V1027.5M199.5 935.5V1027.5M200.5 926V1027M201.5 926V1028M202.5 928V1029.5M203.5 929V1030M204.5 929V1030M205.5 929V1030M206.5 929.5V1029.5M207.5 930V1029M208.5 930V1030M209.5 929V1030M210.5 929V1030M211.5 935.5V1028.5M212.5 936.5V1027.5M213.5 937.5V1026.5M214.5 938.5V1026M215.5 938.5V1026.5M216.5 938V1026.5M217.5 938V1026.5M218.5 939.5V1027M219.5 940.5V1027.5M220.5 940V1028M221.5 939V1029M222.5 938.5V1030.5M223.5 941V1030.5M224.5 942V1030M225.5 948.5V1030M226.5 950V1031M227.5 951V1032M228.5 951.5V1033M229.5 951.5V1033M230.5 951V1030M231.5 950.5V1029M232.5 950.5V960M232.5 960.5V1029.5M233.5 961.5V1030.5M234.5 962V1031M235.5 961.5V1031M236.5 962V1030M237.5 961V1029M238.5 960.5V1029.5M239.5 961.5V1030.5M240.5 962V1033M241.5 963V1031M242.5 964V1030M243.5 964V1029.5M244.5 963V1029.5M245.5 962V1030M246.5 967V1030M247.5 972V1030M248.5 973V1029.5M249.5 973V1029M250.5 973V1029.5M251.5 977.5V1029.5M252.5 978.5V1029.5M253.5 979.5V1029.5M254.5 980V1030M255.5 980V1030M256.5 979.5V1029.5M257.5 978.5V1029.5M258.5 966V974M258.5 976V1029.5M259.5 965.5V1029.5M260.5 966V1029M261.5 966V1029M262.5 966.5V1028.5M263.5 967.5V1028M264.5 967.5V1028M265.5 966.5V1027.5M266.5 962.5V1027.5M267.5 960.5V1027M268.5 955.5V1027M269.5 946.5V1027M270.5 944.5V1026.5M271.5 948V1026M272.5 952V1026.5M273.5 953V1027.5M274.5 953V1031M275.5 953V1032.5M276.5 952V1029.5M277.5 951V1028.5M278.5 943.5V1028M279.5 942.5V1028M280.5 936V1028.5M281.5 932V1029M282.5 931V1029M283.5 926V1028.5M284.5 927V1027.5M285.5 933.5V1027.5M286.5 934.5V1027M287.5 939V1027.5M288.5 940V1027M289.5 940.5V1026M290.5 928.5V938M290.5 939.5V1025.5M291.5 927.5V1025M292.5 925V1024M293.5 921V1023.5M294.5 920V1024M295.5 918V1024.5M296.5 910.5V1018.5M297.5 906.5V1017.5M298.5 902.5V1017M299.5 880V888M299.5 892.5V1016.5M300.5 879.5V889M300.5 891V1017.5M301.5 865V876M301.5 878.5V1020.5M302.5 863V1016.5M303.5 854V1015M304.5 853V1014M305.5 849.5V1013.5M306.5 847.5V1012M307.5 846.5V1011M308.5 851V860M308.5 861.5V1010.5M309.5 824V832.5M309.5 863V1011.5M310.5 823V833.5M310.5 837V847M310.5 864V1013.5M311.5 864V1014.5M312.5 864V1014.5M313.5 865.5V1015.5M314.5 869.5V1021M315.5 875.5V1018M316.5 888V898M316.5 898.5V1017M317.5 889V897M317.5 899.5V1016.5M318.5 900.5V1017.5M319.5 905.5V1022M320.5 912.5V1021.5M321.5 913.5V1022M322.5 914V1022M323.5 913.5V1022M324.5 913V1022M325.5 912V1022M326.5 919V1021.5M327.5 921.5V1020.5M328.5 922.5V1020.5M329.5 922V1021M330.5 921V1021.5M331.5 911V1021.5M332.5 906.5V1022M333.5 902.5V1022M334.5 889V898.5M334.5 901V1022M335.5 889V1022.5M336.5 894V1023M337.5 902.5V1023.5M338.5 904V1024M339.5 905V1025M340.5 905.5V1025M341.5 904.5V1025M342.5 903V1024M343.5 903V1024M344.5 913V1018.5M345.5 914.5V1017.5M346.5 919.5V1017M347.5 920.5V1016M348.5 922V1015.5M349.5 923V1016.5M350.5 923.5V1018.5M351.5 922.5V1019.5M352.5 920V1020.5M353.5 911V919M353.5 919.5V1020.5M354.5 920.5V1020.5M355.5 928.5V1020M356.5 931.5V1019M357.5 939V1019M358.5 941.5V1019M359.5 943V1019M360.5 944V1019.5M361.5 953V1020.5M362.5 961.5V1022.5M363.5 965.5V1023.5M364.5 973V1024.5M365.5 979V1025.5M366.5 987.5V1025.5M367.5 988.5V1025.5M368.5 989V1025.5M369.5 988.5V1025.5M370.5 988V1025.5M371.5 988V1025.5M372.5 987V1025M373.5 986V1025.5M374.5 985V1026M375.5 982V1025.5M376.5 979V1025M377.5 977.5V1024M378.5 977V1023M379.5 976V1022.5M380.5 971.5V1023M381.5 966.5V1024M382.5 965.5V1024M383.5 964.5V1024M384.5 963.5V1024M385.5 956V1022M386.5 955.5V1021M387.5 954.5V1020.5M388.5 948.5V1019M389.5 947.5V1018M390.5 942V1018.5M391.5 936.5V1019.5M392.5 936.5V1020M393.5 937.5V1018.5M394.5 938.5V1017.5M395.5 939V1017M396.5 938V1017.5M397.5 934.5V1014.5M398.5 928.5V1012M399.5 925V1011M400.5 924.5V1010.5M401.5 906.5V920.5M401.5 923.5V1009.5M402.5 877V896M402.5 897.5V1009.5M403.5 861.5V870M403.5 876V1010.5M404.5 858V871M404.5 871.5V1011.5M405.5 858V1015M406.5 858.5V1014.5M407.5 859V1014M408.5 859.5V1013.5M409.5 859.5V1012.5M410.5 860V870M410.5 871.5V1012.5M411.5 872.5V1013.5M412.5 873.5V1013.5M413.5 875V1013.5M414.5 879.5V1013.5M415.5 884.5V1014.5M416.5 885.5V894.5M416.5 896.5V1015.5M417.5 907.5V1018.5M418.5 908.5V1018M419.5 909V1017M420.5 923V1016.5M421.5 924V1014M422.5 924.5V1013M423.5 923.5V1012.5M424.5 922.5V1012.5M425.5 905V913.5M425.5 915V1012.5M426.5 902V1013M427.5 907V1014M428.5 910V1018.5M429.5 911V1019.5M430.5 918V1020.5M431.5 921.5V1020.5M432.5 922.5V931.5M432.5 932V1017.5M433.5 933V1016.5M434.5 933.5V1016M435.5 934V1017M436.5 939V1017.5M437.5 940V1018.5M438.5 945.5V1019.5M439.5 946.5V1019.5M440.5 950V1020M441.5 951V1020M442.5 952V1020M443.5 952.5V1019.5M444.5 951.5V1019M445.5 941.5V1019.5M446.5 940.5V1019.5M447.5 939.5V1019M448.5 933.5V1019M449.5 941V1019M450.5 946.5V1019M451.5 947.5V1019M452.5 948.5V1018M453.5 949V1017M454.5 950V1016M455.5 950V1015.5M456.5 949.5V1015M457.5 948.5V1014.5M458.5 942.5V1011.5M459.5 939V1010.5M460.5 938V1010.5M461.5 937.5V1010.5M462.5 936.5V1011M463.5 928V1011.5M464.5 923.5V1012M465.5 924.5V1013M466.5 924.5V1014M467.5 923.5V1014M468.5 917V1013.5M469.5 910.5V1013.5M470.5 902V1013M471.5 900.5V1013.5M472.5 900V1014.5M473.5 900.5V1016M474.5 901V1017.5M475.5 900.5V1018M476.5 899.5V1017.5M477.5 879.5V1010M478.5 878.5V1009M479.5 864V876.5M479.5 877.5V1005M480.5 825V833M480.5 851V1004M481.5 847.5V1003M482.5 850V1003.5M483.5 851V1003M484.5 851.5V1001.5M485.5 850.5V1000.5M486.5 849V1000M487.5 839V1000.5M488.5 843V1001.5M489.5 844V1004M490.5 843.5V1007.5M491.5 843V1006.5M492.5 853.5V1005.5M493.5 854.5V1006M494.5 855V1007M495.5 854.5V866.5M495.5 869.5V1009.5M496.5 854V865.5M496.5 870.5V1010M497.5 853V865M497.5 877V1010.5M498.5 850V864.5M498.5 878V1011.5M499.5 853V865.5M499.5 878.5V1012.5M500.5 854V868.5M500.5 877.5V1012M501.5 854.5V1011.5M502.5 853.5V1012M503.5 833.5V844M503.5 859V1012.5M504.5 834V842.5M504.5 844.5V857.5M504.5 860V1012.5M505.5 849V857M505.5 860.5V1013M506.5 861V1014M507.5 861V1015.5M508.5 860V1015.5M509.5 859V1015M510.5 844.5V1014M511.5 844V1013.5M512.5 861V1014.5M513.5 862V1015.5M514.5 864.5V1016.5M515.5 865.5V1017M516.5 865V1017M517.5 864V1016.5M518.5 881V1017.5M519.5 882.5V1025.5M520.5 883.5V1025.5M521.5 883V1019.5M522.5 869V879.5M522.5 882V1018.5M523.5 876.5V1017.5M524.5 884.5V1017M525.5 887V1018M526.5 890.5V1019M527.5 892V1019.5M528.5 898.5V1020M529.5 901V1021M530.5 902V911.5M530.5 912V1022.5M531.5 923.5V1023M532.5 924.5V1023M533.5 925.5V1023M534.5 925V1023M535.5 924V1023.5M536.5 915.5V1024.5M537.5 915.5V1025M538.5 915.5V1024.5M539.5 914.5V1022.5M540.5 905.5V1021M541.5 903.5V1020M542.5 903.5V1020.5M543.5 907.5V1020M544.5 914.5V1020M545.5 915.5V1020.5M546.5 916V1021.5M547.5 916V1021.5M548.5 916.5V1021.5M549.5 915.5V1021M550.5 913.5V1021M551.5 909V1021.5M552.5 898V907.5M552.5 908V1022M553.5 898V1020.5M554.5 905.5V1019.5M555.5 906.5V1019M556.5 907.5V1018.5M557.5 907V1019M558.5 906V1020M559.5 890.5V899.5M559.5 904.5V1021M560.5 889.5V899.5M560.5 904V1024.5M561.5 892.5V900.5M561.5 903V1024M562.5 893.5V901.5M562.5 902V1024M563.5 893.5V903.5M563.5 905.5V1024M564.5 913.5V1024.5M565.5 915V1023.5M566.5 916V1022.5M567.5 916V1022M568.5 915.5V1021.5M569.5 915V1020.5M570.5 915.5V1020M571.5 916V1021M572.5 915.5V1023M573.5 914.5V1025M574.5 906V1027M575.5 906.5V1025M576.5 907.5V1024M577.5 907V1023.5M578.5 906V1024M579.5 885V900.5M579.5 902V1024M580.5 895.5V1023.5M581.5 904V1022.5M582.5 910.5V1022M583.5 911.5V1021.5M584.5 912V1022M585.5 911V1023M586.5 910V1023M587.5 907V1022.5M588.5 894.5V1020M589.5 893.5V1019M590.5 888V1018.5M591.5 885.5V1018M592.5 890V1018M593.5 891V1017.5M594.5 892.5V1017.5M595.5 893.5V1017.5M596.5 894V1017.5M597.5 894V1017.5M598.5 893V1017M599.5 902.5V1016.5M600.5 903.5V1017M601.5 907V1018M602.5 915V1018M603.5 916V1017M604.5 917V1016M605.5 917V1015M606.5 917.5V1014M607.5 917V1013.5M608.5 905.5V915.5M608.5 916V1013.5M609.5 902V1012.5M610.5 892V1011.5M611.5 891V1011.5M612.5 890V1011.5M613.5 876V886M613.5 888V1012M614.5 843.5V856M614.5 875V1013M615.5 844V853M615.5 868V1015M616.5 864.5V1015M617.5 865V1014.5M618.5 866V1013.5M619.5 867V1012.5M620.5 867V1012.5M621.5 866V1013.5M622.5 864V1015M623.5 856V1015M624.5 831V840.5M624.5 856.5V1014.5M625.5 857V1014.5M626.5 843.5V852.5M626.5 857.5V1015M627.5 857V1015M628.5 857V950.5M628.5 951V1015.5M629.5 859V949.5M629.5 952V1015.5M630.5 860V949M630.5 953V1015M631.5 860V948.5M631.5 953.5V1015.5M632.5 860V868M632.5 873V949M632.5 953V1016M633.5 882.5V950M633.5 952V1016.5M634.5 884V1017M635.5 860V868M635.5 885.5V1018M636.5 858V869M636.5 886.5V1019.5M637.5 893.5V1024.5M638.5 894.5V1023.5M639.5 895.5V1023M640.5 895.5V1023.5M641.5 894.5V1024.5M642.5 893.5V1025.5M643.5 890.5V1026.5M644.5 894.5V904.5M644.5 905V1027M645.5 895.5V903.5M645.5 906V1027M646.5 906.5V1027M647.5 906V1027M648.5 905V1027.5M649.5 898V1028M650.5 898V1028M651.5 897.5V1024.5M652.5 896.5V1023.5M653.5 890.5V1023M654.5 891V1023.5M655.5 890.5V1023M656.5 894.5V1021.5M657.5 895.5V1020.5M658.5 906V1020M659.5 907.5V1020.5M660.5 908.5V1021M661.5 908.5V1020.5M662.5 908.5V1020.5M663.5 908V1021M664.5 907.5V1022M665.5 906.5V1023.5M666.5 901V1021M667.5 913V1020M668.5 914V1019.5M669.5 914.5V1020M670.5 913.5V1020M671.5 911V1020M672.5 910.5V1020M673.5 916V1019M674.5 930.5V1018M675.5 931.5V1017M676.5 932V1016.5M677.5 931V1017M678.5 929V1016.5M679.5 916V1015M680.5 908.5V1014M681.5 905V1013M682.5 904V1012M683.5 901V1011.5M684.5 898V1012.5M685.5 892.5V1013M686.5 892.5V1014M687.5 895V1015.5M688.5 896V1016M689.5 895.5V1015.5M690.5 894.5V1016M691.5 891.5V1017M692.5 879V1018M693.5 880.5V1018M694.5 881.5V1017.5M695.5 882V1018M696.5 881V1015.5M697.5 880V1014.5M698.5 878V1014M699.5 878V1015M700.5 880V1020.5M701.5 881V1018.5M702.5 881.5V1017.5M703.5 880.5V1017M704.5 879.5V1016M705.5 876.5V1015.5M706.5 879.5V1014.5M707.5 880.5V1014M708.5 883.5V1014.5M709.5 885V1015M710.5 886V1014.5M711.5 886V1014M712.5 886V1014.5M713.5 867V879M713.5 886V1014.5M714.5 863V879M714.5 885V1013.5M715.5 861V880M715.5 884V1013.5M716.5 857V1014.5M717.5 849V1018.5M718.5 834.5V843.5M718.5 846.5V1018M719.5 828.5V844.5M719.5 845V1017.5M720.5 821V1009.5M721.5 810V1008.5M722.5 806.5V1008M723.5 805.5V1008M724.5 793V1009M725.5 795V1012M726.5 796V1007.5M727.5 797V878.5M727.5 879V963.5M727.5 966V1006.5M728.5 797V847M728.5 848.5V877.5M728.5 880V962.5M728.5 967V1006M729.5 797.5V846M729.5 849.5V877M729.5 880.5V962.5M729.5 966.5V1005.5M730.5 797.5V846.5M730.5 849V878M730.5 879.5V963M730.5 967V1006.5M731.5 797V847.5M731.5 848V964M731.5 966.5V1007.5M732.5 796.5V965M732.5 965.5V1012.5M733.5 796V900.5M733.5 901V1010M734.5 795.5V899.5M734.5 902V1009M735.5 794.5V899M735.5 903V1008.5M736.5 791V899M736.5 903V1009M737.5 791.5V900M737.5 902V1010M738.5 791V834.5M738.5 835.5V985.5M738.5 986V1014.5M739.5 790V833.5M739.5 836.5V984.5M739.5 987V1011M740.5 789.5V832.5M740.5 837V973.5M740.5 975V984M740.5 987.5V1009.5M741.5 788.5V832.5M741.5 836.5V898.5M741.5 899V972.5M741.5 976V985M741.5 986.5V1005.5M742.5 767.5V833M742.5 835.5V866M742.5 867.5V897.5M742.5 900V912.5M742.5 913V972M742.5 977V999.5M743.5 729.5V738M743.5 752.5V760.5M743.5 762V834M743.5 834.5V865M743.5 868.5V897M743.5 901V911.5M743.5 919.5V973M743.5 976.5V998.5M744.5 763.5V865.5M744.5 870V898M744.5 900.5V910.5M744.5 920.5V975M744.5 975.5V998.5M745.5 764.5V775M745.5 776.5V866.5M745.5 871V899M745.5 899.5V910.5M745.5 920V999.5M746.5 765V774M746.5 777.5V868M746.5 870.5V911.5M746.5 919V1000.5M747.5 765V774.5M747.5 777V869M747.5 869.5V912.5M747.5 914.5V926M747.5 927.5V949.5M747.5 950.5V1000.5M748.5 765V775.5M748.5 776V925M748.5 928.5V948.5M748.5 952V1000M749.5 764V920M749.5 929V948M749.5 953V1000M750.5 714V723M750.5 731.5V739.5M750.5 753.5V919M750.5 930V948M750.5 953.5V999M751.5 714V722.5M751.5 727.5V739.5M751.5 750V918.5M751.5 930.5V947.5M751.5 953V998.5M752.5 754.5V774.5M752.5 775V786.5M752.5 787.5V919.5M752.5 930V947M752.5 952V999M753.5 762.5V773.5M753.5 776V784M753.5 788.5V923.5M753.5 929V947.5M753.5 951.5V999.5M754.5 802V819.5M754.5 820.5V901.5M754.5 903V924M754.5 926.5V947.5M754.5 951V1000.5M755.5 833V843M755.5 848V900.5M755.5 904V925M755.5 925.5V948.5M755.5 950V1009.5M756.5 865.5V901M756.5 903.5V1010.5M757.5 866.5V902M757.5 902.5V1010.5M758.5 877V1011M759.5 882V1012M760.5 883.5V1017.5M761.5 884.5V894M761.5 896V1017M762.5 885V893M762.5 897V1017.5M763.5 896.5V1018.5M764.5 886V894.5M764.5 895.5V1020.5M765.5 885.5V1022M766.5 884.5V1022M767.5 881.5V1022.5M768.5 878.5V1023.5M769.5 869.5V1026M770.5 861V1026M771.5 854V1024M772.5 829V841.5M772.5 851V1020.5M773.5 829.5V843M773.5 843.5V1019.5M774.5 833V1019M775.5 835V1018.5M776.5 836V1018M777.5 836.5V857M777.5 864.5V1017.5M778.5 873.5V1017.5M779.5 878.5V1017M780.5 883V1016M781.5 885V1016.5M782.5 886V1017.5M783.5 903V1022M784.5 904.5V1021M785.5 911V1021M786.5 926V1021M787.5 930.5V1021M788.5 932V1020.5M789.5 933V1020.5M790.5 932.5V1021.5M791.5 931.5V1025M792.5 915.5V1026M793.5 912V1020.5M794.5 913V1019.5M795.5 913.5V1019.5M796.5 913.5V1020M797.5 918V1021M798.5 926V1023.5M799.5 927.5V1024.5M800.5 928.5V1027.5M801.5 929V1027.5M802.5 929V1027M803.5 931V1026.5M804.5 932V1027M805.5 931.5V1028M806.5 930.5V1030M807.5 929V1024M808.5 927V1021.5M809.5 922V1020.5M810.5 923.5V1020M811.5 925.5V1021M812.5 928V1021M813.5 929V1020.5M814.5 938V1020M815.5 939V1019M816.5 949.5V1019.5M817.5 950.5V1019.5M818.5 950.5V1019.5M819.5 949.5V1020.5M820.5 948.5V1022.5M821.5 946.5V1022.5M822.5 928V1022M823.5 925.5V1021M824.5 925.5V1021M825.5 931.5V1017M826.5 932.5V1016M827.5 939V1015.5M828.5 945V1014.5M829.5 946V1015M830.5 947V1016M831.5 947V1017M832.5 947V1020.5M833.5 950V1021M834.5 951V1022M835.5 951.5V1023M836.5 951.5V1023M837.5 950.5V1022.5M838.5 948.5V1022.5M839.5 945V1022M840.5 938V1018.5M841.5 937V1011M842.5 912V1010M843.5 900V1009.5M844.5 869.5V877.5M844.5 899V1010M845.5 737.5V750M845.5 843.5V856.5M845.5 857V882.5M845.5 895.5V1010.5M846.5 672V682.5M846.5 693.5V710M846.5 713V727M846.5 745.5V759M846.5 759.5V801M846.5 801.5V810.5M846.5 842.5V883.5M846.5 886V1011M847.5 694V702M847.5 710V723M847.5 746.5V756.5M847.5 769.5V822.5M847.5 823.5V839M847.5 841.5V874M847.5 874.5V1010M848.5 771.5V792M848.5 799V873M848.5 875.5V1009.5M849.5 773V783.5M849.5 807.5V872.5M849.5 876V1010.5M850.5 846V857.5M850.5 875V1018M851.5 875.5V1019M852.5 883.5V904M852.5 908V1020M853.5 922V1022.5M854.5 924.5V933.5M854.5 934.5V1022.5M855.5 935.5V1023M856.5 945.5V1024M857.5 946.5V1025M858.5 947V1025M859.5 946.5V1025.5M860.5 958V1026.5M861.5 959V1026.5M862.5 958.5V1026.5M863.5 958V1023.5M864.5 958V1022.5M865.5 957.5V1022M866.5 956.5V1022M867.5 948.5V1021M868.5 947.5V1020.5M869.5 946.5V1020M870.5 945V1018.5M871.5 938V1016.5M872.5 936.5V1015.5M873.5 920V1015.5M874.5 919.5V1015.5M875.5 921.5V1016M876.5 935.5V1016.5M877.5 939.5V1016M878.5 946.5V1015.5M879.5 947.5V1015.5M880.5 948V1015.5M881.5 947.5V1015.5M882.5 947.5V1015.5M883.5 948V1015M884.5 948V1015.5M885.5 947.5V1016.5M886.5 946.5V1016.5M887.5 942V1017.5M888.5 942V1020M889.5 941V1023.5M890.5 940V1019M891.5 929V1018M892.5 934.5V1017.5M893.5 935.5V1018M894.5 942.5V1019M895.5 948V1019M896.5 950V1019M897.5 952.5V1018.5M898.5 961V1019M899.5 962V1019.5M900.5 963V1019.5M901.5 964V1018M902.5 964V1017M903.5 963V1016.5M904.5 961.5V1015.5M905.5 955V1014.5M906.5 954V1014M907.5 944V1013.5M908.5 944V1013M909.5 945V1013.5M910.5 950V1014.5M911.5 951V1019.5M912.5 951.5V1019M913.5 952V1019.5M914.5 953V1020.5M915.5 953.5V1022.5M916.5 954V1022M917.5 958V1021.5M918.5 959V1022M919.5 959.5V1022M920.5 959.5V1022.5M921.5 960V1023M922.5 962.5V1024M923.5 965V1024.5M924.5 966V1024.5M925.5 965.5V1025M926.5 965.5V1026M927.5 965V1027M928.5 965V1027M929.5 973V1027.5M930.5 974V1027.5M931.5 974.5V1027.5M932.5 973.5V1026.5M933.5 973.5V1027M934.5 974V1026.5M935.5 974.5V1026M936.5 974V1025.5M937.5 979.5V1025M938.5 980.5V1025M939.5 991.5V1025M940.5 993V1024.5M941.5 994V1024.5M942.5 993.5V1025M943.5 992.5V1025.5M944.5 992.5V1025.5M945.5 996.5V1026M946.5 998V1025.5M947.5 999.5V1026M948.5 1000.5V1027M949.5 1000.5V1028M950.5 1001V1028M951.5 1002V1028M952.5 1002V1028.5M953.5 1006V1028.5M954.5 1007.5V1029.5M955.5 1008.5V1031M956.5 1009V1031M957.5 1010.5V1030.5M958.5 1011.5V1030.5M959.5 1012.5V1030.5M960.5 1013V1030.5M961.5 1014V1031M962.5 1014V1030.5M963.5 1013.5V1030.5M964.5 1013.5V1030.5M965.5 1014V1030.5M966.5 1014V1031.5M967.5 1013.5V1032M968.5 1013.5V1032M969.5 1012.5V1031.5M970.5 1012V1031M971.5 1012V1031M972.5 1012.5V1031.5M973.5 1012.5V1031M974.5 1011.5V1031.5M975.5 1011.5V1032M976.5 1011.5V1032.5M977.5 1012.5V1032M978.5 1013V1032.5M979.5 1014V1033M980.5 1014.5V1032.5M981.5 1015V1032M982.5 1015V1032M983.5 1015.5V1032M984.5 1016.5V1032M985.5 1016.5V1031.5M986.5 1017.5V1032M987.5 1018V1032M988.5 1018.5V1031.5M989.5 1018V1031.5M990.5 1017V1032M991.5 1017V1033M992.5 1017V1033M993.5 1017.5V1033M994.5 1018V1032.5M995.5 1018V1032M996.5 1019V1032M997.5 1019.5V1032M998.5 1019V1032M999.5 1019V1032.5M1000.5 1019V1032.5M1001.5 1019.5V1033.5M1002.5 1020V1033.5M1003.5 1019.5V1033M1004.5 1019.5V1032M1005.5 1020.5V1032M1006.5 1021V1032M1007.5 1021V1032.5M1008.5 1021.5V1032.5M1009.5 1021.5V1032M1010.5 1022V1032M1011.5 1021.5V1032M1012.5 1021.5V1032M1013.5 1022V1032.5M1014.5 1022V1032M1015.5 1021.5V1032.5M1016.5 1021.5V1032M1017.5 1022V1032.5M1018.5 1022.5V1032.5M1019.5 1022.5V1033M1020.5 1022V1032.5M1021.5 1022V1032.5M1022.5 1022.5V1032.5M1023.5 1022.5V1032.5M1024.5 1022.5V1032.5M1025.5 1022.5V1032M1026.5 1021.5V1032M1027.5 1020.5V1032M1028.5 1020.5V1033M1029.5 1021.5V1033M1030.5 1022.5V1032.5M1031.5 1022.5V1032M1032.5 1022.5V1032.5M1033.5 1023V1032.5M1034.5 1023V1032.5M1035.5 1022.5V1032.5M1036.5 1022.5V1032M1037.5 1022.5V1032M1038.5 1022.5V1032M1039.5 1022V1032.5M1040.5 1022V1033M1041.5 1022V1032.5M1042.5 1021.5V1032M1043.5 1021.5V1032M1044.5 1022.5V1032.5M1045.5 1022.5V1033M1046.5 1022.5V1032.5M1047.5 1022.5V1032M1048.5 1022V1032.5M1049.5 1021.5V1032.5M1050.5 1021V1032.5M1051.5 1021V1032M1052.5 1021V1032.5M1053.5 1021.5V1032M1054.5 1022.5V1032.5M1055.5 1022.5V1032.5M1056.5 1023V1032.5M1057.5 1023.5V1032M1058.5 1024V1032M1059.5 1023.5V1032M1060.5 1023V1032.5M1061.5 1023V1033M1062.5 1022.5V1033M1063.5 1022.5V1032.5M1064.5 1023V1032.5M1065.5 1023.5V1032.5M1066.5 1023.5V1032.5M1067.5 1023.5V1032.5M1068.5 1023.5V1032.5M1069.5 1024V1032M1070.5 1023.5V1032.5M1071.5 1023.5V1033M1072.5 1024V1033M1073.5 1024.5V1033.5M1074.5 1024.5V1033.5M1075.5 1024.5V1034M1076.5 1024.5V1033.5M1077.5 1025V1033M1079.5 1024.5V1032.5M1080.5 1024.5V1032.5M1088.5 1024V1032.5M1089.5 1023.5V1032.5M1090.5 1023.5V1032.5M1092.5 1024.5V1032.5M1093.5 1024V1032.5M1094.5 1023V1033M1095.5 1022V1033M1096.5 1022V1032.5M1097.5 1023V1032M1098.5 1023.5V1032.5M1099.5 1023.5V1032.5M1100.5 1023.5V1032M1101.5 1024V1032.5M1102.5 1024V1032.5M1103.5 1024V1032.5M1104.5 1024V1032M1105.5 1023.5V1032M1106.5 1023.5V1032M1107.5 1023V1032.5M1108.5 1023.5V1032.5M1109.5 1024V1033M1110.5 1023.5V1033M1111.5 1023V1032.5M1112.5 1023.5V1032.5M1113.5 1023.5V1032.5M1114.5 1023.5V1033M1115.5 1023.5V1033M1116.5 1023.5V1033.5M1117.5 1023.5V1033.5M1118.5 1023.5V1033M1119.5 1023.5V1032.5M1120.5 1023.5V1032.5M1121.5 1022.5V1032.5M1122.5 1022.5V1032.5M1123.5 1022.5V1032.5M1124.5 1022V1032.5M1125.5 1021.5V1032.5M1126.5 1021V1032.5M1127.5 1021.5V1032M1128.5 1021.5V1032M1129.5 1021.5V1032M1130.5 1021.5V1032M1131.5 1021.5V1032.5M1132.5 1021V1033M1133.5 1021.5V1032.5M1134.5 1021.5V1032M1135.5 1021.5V1032M1136.5 1021.5V1031.5M1137.5 1021.5V1032M1138.5 1020.5V1032M1139.5 1019V1032.5M1140.5 1019V1032.5M1141.5 1020V1032M1142.5 1021V1032M1143.5 1021.5V1032M1144.5 1021V1032M1145.5 1021V1032M1146.5 1020.5V1032M1147.5 1020.5V1032M1148.5 1020.5V1032M1149.5 1021V1032M1150.5 1021.5V1032M1151.5 1022V1032M1152.5 1022V1032.5M1153.5 1021.5V1033M1154.5 1021.5V1033M1155.5 1021V1033M1156.5 1021.5V1033M1157.5 1022V1032.5M1158.5 1022V1032.5M1159.5 1022.5V1032.5M1160.5 1022.5V1032.5M1161.5 1023V1033M1162.5 1022.5V1032.5M1163.5 1022.5V1033M1164.5 1023.5V1033M1165.5 1023.5V1032.5M1166.5 1023V1032M1167.5 1022V1032.5M1168.5 1019.5V1032M1169.5 1019V1032.5M1170.5 1021.5V1032.5M1171.5 1022.5V1033M1172.5 1023V1033M1173.5 1023V1033M1174.5 1024V1032.5M1175.5 1023.5V1033.5M1176.5 1023V1033.5M1177.5 1023.5V1033.5M1178.5 1023V1033M1179.5 1023V1032.5M1180.5 1023V1032M1181.5 1023V1032M1182.5 1023V1032M1183.5 1023V1032.5M1184.5 1024V1033M1185.5 1023.5V1033M1186.5 1023.5V1032.5M1187.5 1023V1033M1188.5 1023V1032.5M1189.5 1023V1032.5M1190.5 1023V1032.5M1191.5 1023V1032.5M1192.5 1023V1032.5M1193.5 1023V1032M1194.5 1022.5V1032M1195.5 1022.5V1032M1196.5 1023V1032M1197.5 1022.5V1032.5M1198.5 1022.5V1033M1199.5 1022V1032.5M1200.5 1022.5V1032.5M1201.5 1023.5V1032.5M1202.5 1023.5V1032M1203.5 1023.5V1032M1204.5 1023V1032.5M1205.5 1022.5V1032.5M1206.5 1022V1032.5M1207.5 1022V1032M1208.5 1022.5V1032.5M1209.5 1022.5V1032.5M1210.5 1023.5V1032.5M1211.5 1024V1032.5M1212.5 1023.5V1033M1213.5 1023V1033M1214.5 1023V1032.5M1215.5 1023.5V1032.5M1216.5 1024V1032.5M1217.5 1024V1033M1218.5 1024.5V1033.5M1219.5 1024.5V1033.5M1220.5 1024.5V1033.5M1221.5 1024V1033.5M1222.5 1024V1033.5M1223.5 1023.5V1033M1224.5 1023.5V1033.5M1225.5 1024.5V1033.5M1232.5 1025V1033M1233.5 1025V1034M1234.5 1025V1034M1235.5 1025V1033.5M1236.5 1025V1033.5M1237.5 1025.5V1033.5M1240.5 1025.5V1033.5M1245.5 1024.5V1032.5M1246.5 1025V1033.5M1247.5 1025.5V1033.5M1249.5 1025V1033M1250.5 1024.5V1033M1251.5 1024.5V1033M1252.5 1025.5V1033.5M1253.5 1025.5V1033.5M1260.5 1025V1033M1267.5 1025.5V1033.5M1268.5 1024.5V1033M1269.5 1024V1033.5M1270.5 1024V1033M1271.5 1024.5V1033M1272.5 1024.5V1032.5M1278.5 1025V1033M1279.5 1025V1033.5M1280.5 1025V1033.5M1284.5 1025V1033M1285.5 1024V1033M1286.5 1024V1033M1287.5 1024V1032.5M1288.5 1025V1033M1295.5 1025V1033M1296.5 1025V1033.5M1301.5 1024V1033M1302.5 1024V1033.5M1303.5 1024.5V1033M1304.5 1024.5V1033M1305.5 1024V1032.5M1306.5 1023.5V1033M1307.5 1023.5V1033M1308.5 1023.5V1033M1309.5 1024V1032.5M1310.5 1024.5V1032.5M1311.5 1024.5V1032.5M1312.5 1024.5V1032.5M1313.5 1024.5V1032.5M1314.5 1024V1032.5M1315.5 1024V1032.5M1316.5 1024V1032M1317.5 1023.5V1032M1318.5 1023.5V1032.5M1319.5 1023V1032.5M1320.5 1022.5V1032M1321.5 1022V1032M1322.5 1021.5V1032M1323.5 1021V1032.5M1324.5 1020V1033M1325.5 1019.5V1032.5M1326.5 1019V1032.5M1327.5 1019.5V1032.5M1328.5 1019V1032M1329.5 1018.5V1031.5M1330.5 1017.5V1032M1331.5 1015V1032M1332.5 1015V1032M1333.5 1015.5V1032.5M1334.5 1016V1032.5M1335.5 1016.5V1031.5M1336.5 1017V1031.5M1337.5 1017V1031.5M1338.5 1016.5V1032M1339.5 1016.5V1032.5M1340.5 1017V1033M1341.5 1017V1033M1342.5 1016.5V1032.5M1343.5 1016V1032M1344.5 1015V1032M1345.5 1014.5V1032M1346.5 1015V1032M1347.5 1017V1032M1348.5 1018V1031M1349.5 1018V1030.5M1350.5 1018V1030M1351.5 1018V1030M1352.5 1017.5V1030M1353.5 1016.5V1030M1354.5 1016.5V1030M1355.5 1016V1030M1356.5 1015.5V1029.5M1357.5 1015V1030M1358.5 1015.5V1029.5M1359.5 1015V1029.5M1360.5 1014.5V1029M1361.5 1014.5V1029M1362.5 1014V1028.5M1363.5 1013V1028.5M1364.5 1012V1029M1365.5 1009.5V1029.5M1366.5 1008V1029.5M1367.5 1007V1028.5M1368.5 1006V1027.5M1369.5 1004.5V1027.5M1370.5 1004V1028.5M1371.5 1003V1029M1372.5 1002V1028.5M1373.5 1001V1028.5M1374.5 999V1028.5M1375.5 999V1029M1376.5 1003V1030M1377.5 1004V1030.5M1378.5 1004.5V1030M1379.5 1004.5V1029.5M1380.5 1005V1029.5M1381.5 1004.5V1029.5M1382.5 1003.5V1029M1383.5 1003V1029M1384.5 1002V1028M1385.5 1000V1027M1386.5 998.5V1026M1387.5 997.5V1025M1388.5 994V1024.5M1389.5 993V1024.5M1390.5 989.5V1023.5M1391.5 983.5V1023M1392.5 980.5V1023M1393.5 979.5V1023M1394.5 978V1022M1395.5 974V1021.5M1396.5 973.5V1021.5M1397.5 972.5V1022.5M1398.5 971V1023.5M1399.5 971V1024M1400.5 970.5V1023.5M1401.5 970.5V1024.5M1402.5 970V1025M1403.5 969V1024M1404.5 969V1023M1405.5 968.5V1022M1406.5 968V1022M1407.5 968V1021.5M1408.5 967.5V1021.5M1409.5 966.5V1022M1410.5 955.5V964.5M1410.5 965V1023M1411.5 953V1024M1412.5 956.5V1025M1413.5 957.5V1026.5M1414.5 958V1022M1415.5 957V1021M1416.5 956V1020M1417.5 956V1020M1418.5 957V1019.5M1419.5 957.5V1019M1420.5 956.5V1017M1421.5 952V1016M1422.5 951V1015.5M1423.5 944.5V1016M1424.5 943V1016.5M1425.5 935.5V1014M1426.5 931.5V1013M1427.5 930.5V1012M1428.5 926V1012M1429.5 929.5V1012.5M1430.5 930.5V1013.5M1431.5 930V1015.5M1432.5 929V1016.5M1433.5 927.5V1018.5M1434.5 918.5V1019M1435.5 917V1019M1436.5 921.5V1016.5M1437.5 922.5V1015.5M1438.5 922V1015M1439.5 921V1010M1440.5 905.5V915M1440.5 916.5V1009M1441.5 903V1008.5M1442.5 903V1007.5M1443.5 902V1007M1444.5 894V1008M1445.5 895V1008.5M1446.5 895.5V1000.5M1447.5 895V999.5M1448.5 899.5V999M1449.5 900.5V997.5M1450.5 901.5V995.5M1451.5 901V994.5M1452.5 900V993.5M1453.5 893V992.5M1454.5 891.5V992.5M1455.5 890.5V993.5M1456.5 890V997.5M1457.5 890.5V998.5M1458.5 899V1004M1459.5 900V1005M1460.5 907.5V1009M1461.5 908.5V1017.5M1462.5 911V931M1462.5 931.5V942.5M1462.5 950.5V973.5M1462.5 974V992M1462.5 994V1014.5" stroke="#1f77b4" stroke-width="1.02" fill="none"/>
<path d="M1049.6 1030.2h0M1218.5 1031h0M760.2 896.4h0M1061.1 1030.8h0M609.9 916.2h0M1295.9 1030.9h0M1254 1028.2h0M342.4 913.7h0M461.4 941.7h0M1294.7 1029.6h0M1462.4 990.1h0M629.5 947.8h0M1222.8 1026.2h0M1300.1 1028.6h0M732.3 962.8h0M1225 1031.8h0M1233.1 1030.1h0M1259.6 1029.2h0M1357.9 1028.2h0M743.3 731.5h0M1202.3 1030.2h0M1013 1029.9h0M654.3 1020.8h0M1258 1029.5h0M1124.6 1030.1h0M176 890.9h0M157.7 1019.9h0M304.2 858.4h0M1082.3 1029.5h0M1089.3 1028.8h0M748.4 929.7h0M1427.9 927.7h0M1141.3 1023h0M1294.2 1028.5h0M1207.6 1030.3h0M1296.5 1029.2h0M1273.5 1031.3h0M1329.5 1020.2h0M1131.9 1023.7h0M1231.7 1030.2h0M1275.4 1029.7h0M1081.1 1028.9h0M1076.8 1026.3h0M850.9 895h0M959.4 1014.4h0M1129.5 1030.5h0M1288.4 1028.7h0M908.6 954.6h0M1147.8 1030.1h0M1386.9 1000.2h0M1096.6 1031.2h0M1034.3 1025h0M1047.2 1030.5h0M779.3 885.4h0M1262.6 1029.6h0M1422.7 954.5h0M1023.8 1030.6h0M886.2 1015.3h0M479.2 870.6h0M1240 1028.4h0M1371.8 1005.7h0M961.8 1015.5h0M1083.5 1029h0M1292 1030.6h0M333.1 914.7h0M1098.2 1025.6h0M1225.4 1030.7h0M657.7 848.8h0M1282.3 1028.1h0M766.2 1019.9h0M814.5 947.1h0M1289.5 1028.8h0M1251.3 1030.3h0M1257.5 1028.4h0M1232.4 1030.9h0M840.8 942.5h0M378 979.5h0M1190.7 1030.7h0M362 1019.1h0M771.8 860.1h0M1230 1030.5h0M188.5 911h0M1278.1 1028.6h0M761.3 1011.4h0M743.9 778.4h0M1144.2 1031h0M817.6 1017.1h0M1254.4 1030.1h0M1231.4 1029h0M1266.2 1028.8h0M175.7 903.2h0M305.5 1009.9h0M1073.5 1026.6h0M1148.8 1021.9h0M1092.1 1027.8h0M1373.8 1026.1h0M1311.7 1026.7h0M1082.1 1027.6h0M283.4 932.6h0M1294.6 1028.1h0M1238.6 1028h0M1080.5 1029.6h0M531.7 1021.5h0M1456.7 895.1h0M1157 1024h0M1239.9 1031.4h0M1273 1029.8h0M845 859.4h0M1360.7 1016h0M797.3 1018.3h0M1274.8 1028.8h0M1084.8 1030.6h0M843.5 928.8h0M245.4 968.8h0M1256 1030.2h0M424.1 925h0M735.1 897.9h0M1082.3 1027.3h0M1359.9 1027h0M383.4 967.6h0M793.2 928.5h0M150.4 872.5h0M1335.9 1029.5h0M1250.6 1027.8h0M1189.6 1030.7h0M281.7 924.7h0M590.4 897.2h0M267.2 1025.6h0M1073.3 1032h0M188.1 911.7h0M807.1 1029.1h0M1247.3 1031.5h0M798.9 1021.8h0M1447.4 998h0M160 899.8h0M754.5 833h0M1229.8 1031.3h0M457.4 1010.8h0M755.7 1003.2h0M1055.2 1024.6h0M657.7 906.9h0M1426.9 925.1h0M1037.6 1030.2h0M160.7 908h0M1090.3 1028.8h0M656.4 902.4h0M592 1016.8h0M530.1 1019.5h0M1266.3 1029.6h0M1091.8 1026.7h0M540.9 907.2h0M609.8 909.5h0M1281 1031.1h0M282.9 936.1h0M753.7 813.7h0M1048.7 1023.9h0M1298 1028.7h0M609.6 915.8h0M1210.5 1030.4h0M1092.2 1029.5h0M1460.9 946.1h0M436.3 941.2h0M504.1 846.4h0M627.5 847h0M1043.6 1030.9h0M219 1025.7h0M1461.5 902.3h0M192.7 934.1h0M373.2 988.3h0M1087.5 1027.8h0M997.8 1030.9h0M1123.8 1024.7h0M1232.1 1028.4h0M316.4 1015.4h0M742.8 727.7h0M754.9 857.5h0M1240.2 1028.7h0M559.9 1018.3h0M385.5 957.2h0M1309 1030.9h0M928.9 970.9h0M840.4 1015.7h0M1444 1000.5h0M1426.9 941.7h0M1296.8 1030.6h0M1275.6 1030.5h0M170.9 866.6h0M1070 1025.7h0M1188.6 1030.9h0M1312.4 1030.5h0M1369.9 1025.8h0M1236.5 1031.8h0M590.9 893.9h0M699.8 1018.1h0M909 951.8h0M1265.3 1030.6h0M1244.2 1028.7h0M251.4 1027.4h0M163.8 888.4h0M1313.5 1030.7h0M1168.4 1030.3h0M805.2 1024.6h0M1357.1 1017h0M1412 954.7h0M768.2 883.6h0M1228.5 1030.5h0M1242.8 1027.8h0M1263.6 1028.4h0M1230.4 1029h0M399.6 928.2h0M1436.4 923.6h0M853.3 918.9h0M776.6 866.4h0M1118.6 1025.9h0M368.3 1024.3h0M1290.8 1028.7h0M1158.8 1024.1h0M1078.7 1029.5h0M845.9 717.5h0M475.9 1012.5h0M1165 1025.9h0M737 785.7h0M1218.8 1026.6h0M1114.3 1025.4h0M1245 1030.6h0M1061 1024.2h0M847.2 863.1h0M936.7 988.2h0M853.4 924.1h0M849.9 906.3h0M703.4 1014.4h0M1355.2 1018.3h0M256 982.1h0M1110.6 1030.7h0M1072.6 1025.6h0M1242.8 1030.6h0M705.3 1013h0M1080.1 1030.8h0M1282.9 1030.6h0M717.4 860.8h0M1382.6 1026.8h0M397.5 1010.5h0M1298.7 1030.1h0M740.5 838.3h0M773.2 827h0M402.7 899.3h0M753.5 779.5h0M122.1 1012h0M685.7 1011.5h0M1008.6 1023.6h0M175.5 895.4h0M1315.3 1031.2h0M1291.5 1030.7h0M1276.2 1031.6h0M1255.5 1030.6h0M815 1017h0M1138 1029.6h0M241.2 954.6h0M1034.1 1024.2h0M848.2 821.5h0M403 893.2h0M1227.7 1028.7h0M808.5 1028.3h0M572 1019h0M714.2 870.8h0M364.5 987.6h0M1262.9 1031h0M769 880.3h0M1168.8 1030.6h0M458.5 948.8h0M1259.8 1030.6h0M1215.2 1030.4h0M1348.1 1029h0M306.8 849h0M1299.6 1031h0M1049.2 1023.5h0M751.1 917.2h0M766.2 892.3h0M1283.5 1031.2h0M267.9 964.6h0M270 951.6h0M414.8 893.2h0M591.5 887.1h0M604.5 1014.3h0M1085.9 1030.5h0M363.7 967.6h0M190.6 925.1h0M1152.9 1023.8h0M1392.9 986.3h0M1300.1 1028.3h0M283.7 923.4h0M994 1030.2h0M946.2 1000h0M1353.4 1018.6h0M936.2 1024.2h0M990.8 1030.3h0M727.3 1005.2h0M1292.6 1027.2h0M897.6 956.7h0M846.8 740.3h0M1296.8 1031.1h0M1068.3 1030.7h0M362.9 972.8h0M1394.8 980.7h0M1351.2 1019.3h0M334.5 906.9h0M1282.9 1027.2h0M814.1 945.8h0M839.8 1010.7h0M1065.1 1025.3h0M744.5 971.7h0M463.4 935.2h0M1056.2 1024.9h0M1275.1 1027h0M1225.9 1028.3h0M512.8 864.6h0M464 903.6h0M168.2 1023.2h0M493.3 866.3h0M1087.7 1030.6h0M1104.5 1029.8h0M700.3 882.5h0M602.4 918h0M509.7 833.1h0M986.6 1030.1h0M822.3 941.2h0M1278.8 1031.2h0M630.6 880.8h0M719.8 838.7h0M776.5 873.1h0M1196.5 1024h0M857.8 1023.8h0M780.6 890.2h0M1267.4 1031.5h0M1259.2 1031.5h0M1179.2 1030.3h0M975.4 1012.5h0M1084.8 1027.1h0M1342.3 1030.1h0M1101.7 1026.1h0M619.1 858.2h0M1196.9 1030.8h0M1338.2 1030.3h0M848.2 773.2h0M752.8 769h0M1048.3 1023.5h0M623 729.5h0M361.1 955.4h0M840.9 945.6h0M1329.7 1019.7h0M303.3 877.5h0M1071.3 1025.4h0M1433.5 1015.5h0M240.1 963.3h0M299.8 906.1h0M1423.5 950.6h0M351.1 1017.3h0M1251.6 1026.9h0M1044.5 1023.5h0M363.2 977.2h0M1180 1025.3h0M363 968.8h0M370.8 1023.2h0M927.4 968.5h0M295.3 1022.9h0M1245 1026.8h0M813.8 943h0M119.3 933.3h0M743 718h0M1095.7 1031.4h0M1347.9 1019.6h0M1264.2 1028h0M937.4 991.4h0M1018.8 1023.6h0M777.7 1023.9h0M1213.8 1024.9h0M948.6 1002.2h0M325.3 917.6h0M562.2 906.5h0M363.3 1020.3h0M1157.7 1030.2h0M1120.1 1025.6h0M124.1 914.5h0M1261.6 1028.7h0M868.1 955.9h0M436.5 946.2h0M636.7 894.9h0M692.8 891.1h0M412.4 809h0M1027.3 1029.6h0M489.7 849.7h0M984.5 1018.5h0M307.9 854.5h0M174.7 877.6h0M394 940.4h0M378.3 978.5h0M850.6 868.1h0M1337.1 1019.2h0M937.3 982h0M599.6 909.7h0M470.4 911.8h0M678.7 931.8h0M1176.1 1025h0M182.7 880.7h0M610.8 902.9h0M1300.8 1026.7h0M733.6 788.4h0M826.1 1014.9h0M487.5 851.7h0M336.6 905.4h0M524.1 881.7h0M215.6 925.8h0M1166.5 1025.2h0M1008.5 1031h0M174.6 867.9h0M983.9 1030.7h0M281.9 902.6h0M1067 1030.9h0M314.4 1019.4h0M188 927.9h0M380.9 1021.5h0M478.9 893.9h0M311.4 854.9h0M1280.4 1031.5h0M117.2 987.2h0M119.4 953.8h0M477.4 897.1h0M553.4 905.5h0M1166.5 1030.6h0M627.8 1013.5h0M199.2 1025.2h0M252.5 980.7h0M768 883.3h0M176 902.3h0M697.1 874.7h0M724.7 800.6h0M893 945.5h0M1222.1 1031.2h0M1099.2 1030.4h0M291.4 1022.8h0M846.5 685.7h0M324.8 1020.9h0M432.9 1014.5h0M418.3 922.5h0M1155 1031h0M1080.8 1026.7h0M1459.6 909.4h0M1462 924.7h0M400.4 926.4h0M843.1 929.1h0M589 890.5h0M1406.7 969.3h0M809 928.4h0M1017.9 1030.5h0M1323.4 1023.1h0M1140.2 1030.9h0M1390.2 1021.4h0M666.6 910.1h0M117.2 971h0M1290.2 1031.1h0M1289 1027.5h0M908.7 946.2h0M1232.4 1027.6h0M746.9 766h0M356.8 940.2h0M1278.4 1027.5h0M492.3 849.3h0M464.8 885.2h0M632.7 954.7h0M1325.1 1030.3h0M752 766.5h0M1218.1 1031.3h0M1103.7 1031.1h0M848 775.9h0M320.3 1016.8h0M631 870.3h0M758.1 879.6h0M116.9 1009.7h0M1054.4 1024.3h0M117.5 973.8h0M412.1 879.1h0M756.1 1003.9h0M986.4 1019.4h0M1247.4 1032.4h0M887.8 947.5h0M1286 1030.5h0M848.4 778.3h0M1462.1 1001.3h0M921.5 965.5h0M873.5 873.8h0M771.1 865.2h0M334 907.4h0M681.1 926.6h0M1369.7 1007.8h0M1013.3 1030.1h0M612 898.6h0M580.6 909.4h0M426.1 916.9h0M739.1 982.6h0M738.5 1008.4h0M552.3 900h0M1265.3 1027.9h0M390.7 948.2h0M782.7 905.4h0M930 975.2h0M695.2 1016.7h0M419.7 915.9h0M1172.9 1030.6h0M233.9 1027.8h0M334.8 902.9h0M1116.7 1025.8h0M824.9 927.5h0M1213.5 1030.7h0M1295.4 1026.6h0M750.9 762.2h0M487.7 851h0M304.5 834.5h0M994.3 1031.3h0M853.6 935.1h0M1257.8 1027.7h0M1366.4 1011.9h0M1134.1 1029.9h0M609.5 912h0M209.7 931.5h0M590.3 904.6h0M308.1 863.2h0M251.8 974.7h0M212.2 881.3h0M520 1024.4h0M600.3 915.2h0M1228 1031.1h0M440.3 1018.2h0M1199.7 1030.1h0M259.5 977.2h0M873.1 938.6h0M1258.1 1027.3h0M463.1 930.3h0M1435.9 926.7h0M845.9 738.8h0M1162.3 1024.6h0M117.9 951.1h0M868.8 952.9h0M560.9 906.6h0M203.2 1028.5h0M717.9 1010h0M308 829.6h0M774.9 841.6h0M303.3 855h0M1452.7 895.3h0M362 965.2h0M1200.1 1031.1h0M271.1 952.9h0M641.4 874.7h0M750.7 703.3h0M382.9 966.8h0M847.7 754.1h0M614.7 877.1h0M633.3 879.5h0M625.3 835.4h0M741.9 914.6h0M1197.8 1031h0M1203.4 1025.1h0M681.4 907.2h0M1194.5 1029.8h0M1010.6 1030.4h0M1280.1 1032.3h0M769.6 1024.1h0M353.1 912.6h0M911.5 1016.8h0M796.7 924.6h0M165.9 1030.7h0M845.8 901.1h0M317.4 906.3h0M846.1 834.7h0M1242.5 1031h0M1387.2 1023.9h0M398.3 933h0M1014.4 1030.3h0M258.3 980.5h0M1037.4 1024.4h0M710.9 1013h0M480.9 852.6h0M530.2 917.7h0M1462.3 983.3h0M1131.4 1023.2h0M1186.8 1025.4h0M1253.1 1031.5h0M965.1 1015.9h0M698.4 855.1h0M446.9 942h0M1115 1031h0M1242.6 1031.4h0M937.8 991.1h0M315.9 881.2h0M361.2 960h0M672.2 917.6h0M529.3 911.7h0M315.3 887.3h0M685.8 900.1h0M1031.5 1030.2h0M737.6 762h0M404.6 859h0M1228.4 1028.5h0M1089.5 1024.6h0M501.5 859.1h0M1454.5 900.6h0M722 812.2h0M1344.8 1029.7h0M849.2 865.3h0M478.4 882.4h0M1130.7 1023h0M692.8 884.6h0M846.5 696.6h0M1138.8 1030.6h0M399.4 930h0M1392.4 988.5h0M1398.9 972.2h0M732.5 1006.8h0M825.1 936.3h0M737.9 1008.2h0M1181.9 1024.5h0M753.4 768.6h0M512.7 856.5h0M384.7 965.7h0M751.8 737.3h0M755.9 899.1h0M224.4 950.8h0M538.4 1021.2h0M622.8 858.1h0M317.1 902.8h0M756 835.7h0M1188.8 1024.5h0M680 926.5h0M636.7 1023.3h0M696 853.9h0M1365.2 1013.3h0M1014.6 1023.6h0M1220.8 1031.3h0M1253.5 1027.5h0M740.5 756.4h0M127.4 924.6h0M554.5 867.6h0M1060.1 1030.5h0M1176.5 1031.1h0M173 873.7h0M175.7 899.4h0M995.7 1020.2h0M404.4 905.1h0M782.1 887.3h0M794 919.4h0M749.6 775.4h0M524.3 826.3h0M426.3 906.2h0M482.4 852h0M730.5 799.5h0M931.9 1024.9h0M481.1 862.5h0M722.4 822h0M764.7 897.6h0M747.6 998.6h0M1205.9 1031.1h0M950.3 1003.2h0M270.7 945.8h0M1032.3 1024.1h0M847.3 791.8h0M875.9 946.1h0M591.5 891.2h0M448.1 1017.7h0M937.8 1023.5h0M744.2 661.8h0M632.2 854.2h0M855.5 945.9h0M720.8 1014.8h0M847.7 699.5h0M279 1026.8h0M1172.3 1032h0M847 783.4h0M891.6 940.6h0M1338.3 1018.2h0M1183 1030.2h0M1262.3 1027.1h0M904 1014h0M741.9 779.4h0M494.6 1005.2h0M1134.3 1023.9h0M683 891.9h0M900.3 1016.7h0M777.7 861.7h0M124.2 918.5h0M713.6 1012.2h0M896.5 962.3h0M166.9 1022.8h0M446.2 949.6h0M1001.6 1021.8h0M1348.9 1029.1h0M973.2 1013.7h0M970.4 1029.1h0M117.3 943h0M402.1 917.7h0M361.2 962.5h0M1181.7 1030.6h0M1295.3 1031h0M1311.6 1026.3h0M1255.7 1027.8h0M832.9 1018.9h0M181.4 911.2h0M610.8 900.4h0M131.8 927.1h0M174 870.6h0M1178.2 1031.3h0M1092.8 1030.4h0M1051.6 1022.2h0M755.8 850h0M1112.9 1030.6h0M725.6 964.1h0M199.3 1025.6h0M723.7 1006.9h0M638.8 1020h0M116.7 1010.5h0M859.1 955.8h0M321 893.9h0M1166.2 1024.9h0M751.1 639h0M380.8 977.1h0M1461.4 1000.2h0M1456.2 897.8h0M118.6 990h0M430.7 929h0M942.7 1023.6h0M1441.6 916.3h0M647.1 1024.8h0M847.3 766.4h0M1324.4 1030.7h0M607.9 1012.4h0M432.5 934.7h0M955.2 1026.9h0M180.5 1024.8h0M1112.6 1025.2h0M681 1011.3h0M458.8 940.2h0M632.5 875h0M262.7 1026.7h0M222.6 945.3h0M684.6 895.1h0M965.4 1028.4h0M191.1 898.5h0M1422.5 955.4h0M403 886.1h0M1320.8 1030.8h0M162.4 895.1h0M273.1 941.9h0M1128.6 1023.3h0M496.7 872h0M1193.5 1030.4h0M519.4 1015.5h0M1355.9 1028h0M777.1 852.4h0M150.4 872.6h0M246.1 1028.1h0M750 946.9h0M225.3 951.3h0M314.9 1015h0M299.4 886.2h0M852.4 916.9h0M759.1 902.4h0M847.4 748.2h0M875 935.3h0M754.6 823.1h0M894.1 946.7h0M496.5 877.1h0M1461.9 955.5h0M618.7 830h0M601.2 915.9h0M756.3 951.7h0M1245.8 1027.1h0M472.1 907.9h0M573.3 1021.8h0M164.6 874.7h0M343.2 905.9h0M274.4 1028.7h0M1332.9 1030h0M190.8 907.8h0M1239.6 1027.2h0M447.2 946.8h0M1078.5 1030.8h0M751.6 773.3h0M1104.9 1025.9h0M792.3 921.1h0M260.2 970.9h0M1459.9 1001.4h0M849.2 871.1h0M1383.4 1004.1h0M748.1 917.3h0M743.3 986.6h0M1121.7 1031.1h0M315 877.7h0M980.2 1030.2h0M476.8 901.4h0M226.3 952.1h0M1401.9 971.8h0M927.3 1025.2h0M874.7 924.1h0M1250.1 1031.2h0M1370.9 1005.8h0M182.7 900.1h0M776 840.7h0M358.2 944.3h0M1194.7 1030.9h0M580.6 904.9h0M1450.6 884.9h0M404.3 921.3h0M156.2 1021.9h0M151.5 881.3h0M855.3 939h0M1339 1030.7h0M1203.8 1030.7h0M1108.4 1030.7h0M566.5 917.2h0M174.1 846.7h0M1433.3 922.2h0M504.7 1010.5h0M750.5 655.5h0M979 1030.9h0M847.9 808.9h0M671.9 1019h0M1109.4 1025.8h0M1028.7 1030.9h0M725.7 847.4h0M1346.1 1018.2h0M792.9 922.9h0M343.1 914.2h0M671.8 917h0M182.5 898.5h0M646.4 1025.6h0M398.8 936.5h0M116.7 932h0M519.1 884.5h0M850.6 795.8h0M662.4 909.5h0M714.1 876.5h0M579.4 889.6h0M1079.7 1031.5h0M825.5 937.8h0M850 847.6h0M376.2 1023.3h0M409.6 873.3h0M134.2 908.9h0M513.3 1012.5h0M1117.4 1031.7h0M838.3 1019.5h0M776.1 839.7h0M1067.7 1025.2h0M988.8 1020.2h0M1153 1023.3h0M1124.9 1030.5h0M1068.9 1030.9h0M588.4 1018.3h0M269.8 954.2h0M1156.9 1023.7h0M741.1 1003.8h0M846.7 699.9h0M480.6 826.4h0M150.4 867.8h0M896.6 1016.8h0M718.9 830.5h0M847 688.3h0M1290.9 1031.4h0M484.7 834.1h0M1209.5 1030.6h0M1194.1 1025.1h0M846 869h0M539 917.4h0M876.8 942.1h0M542.1 875.1h0M438.4 941.7h0M1052.9 1029.8h0M1438.3 1013.6h0M1040.2 1030.3h0M1307.1 1024.5h0M1462 965.9h0M153.7 1025.4h0M655.6 1019.3h0M692.7 882.5h0M1235.5 1026.1h0M1040.1 1023.2h0M117.3 995.4h0M1459.5 906.3h0M482.3 856.7h0M1082.7 1026.9h0M743.2 783.6h0M587 912.4h0M462.8 930.8h0M985.9 1018.6h0M847.1 798.7h0M654.8 893.6h0M765 886.9h0M517.6 881.7h0M1035.1 1031.1h0M127.7 920.4h0M1462.1 932.9h0M603 917.6h0M117.4 1004.9h0M1026.8 1030.8h0M482.1 859.7h0M1127.1 1023.3h0M943.6 995.2h0M790.8 910h0M657.7 903.2h0M116.9 1018.9h0M319 913.3h0M331.7 913h0M649.3 1025h0M872.5 938.8h0M1106.7 1025.6h0M365 981.5h0M672.4 930.3h0M276.8 953.8h0M842.2 927.8h0M160.9 902.6h0M631.1 947.5h0M776.7 872.8h0M232.5 1027.4h0M1064.6 1030.8h0M415 899.2h0M625.8 840h0M1089 1030.8h0M776.3 837.1h0M645.7 878h0M1407.6 1019.8h0M1305 1030.6h0M1262.6 1031.8h0M661.4 1018.2h0M215 925.6h0M773.1 833.8h0M1049.5 1031.3h0M1411.4 1022.3h0M1310.7 1030.9h0M876.1 940.9h0M1122.5 1023.6h0M121.9 1012.4h0M1423.3 948.5h0M471.1 914.2h0M810.7 928.6h0M212.2 937.8h0M1153.4 1031.1h0M300.8 880.9h0M623.7 861.5h0M1191.6 1024.1h0M279.2 949.5h0M1102.1 1025.8h0M771.6 862h0M666.1 902.1h0M849.5 819.2h0M820.7 1019.8h0M445.6 1018.3h0M787.9 1019.2h0M977.1 1013.4h0M787.1 933.2h0M505.5 826.8h0M314.5 871.5h0M238.2 958.3h0M783.3 911.7h0M776.5 1016.5h0M562.1 911.5h0M1172.3 1025.2h0M849.2 802.5h0M746 925.9h0M529.6 903h0M1460.7 930.2h0M842.5 923.7h0M747.7 737.6h0M149.6 890.8h0M722.6 816.3h0M246.5 962.8h0M541.7 915.3h0M896.1 959.2h0M714.3 887.5h0M460.2 944.6h0M1004.1 1030.2h0M147.1 1022.1h0M293.8 1019.3h0M1164.1 1024.7h0M134.6 1020.4h0M959 1028.7h0M754.9 813.9h0M817.3 1018.5h0M1425.9 944.3h0M751.2 687.4h0M403.3 888.4h0M851.8 884.9h0M874.7 900.1h0M785.2 928.9h0M1454.7 893.6h0M400 909.9h0M757.6 1008.5h0M396.9 1016.5h0M847.7 712.3h0M221 1026.3h0M1316.3 1025.2h0M745.8 997.5h0M1462.1 918.1h0M752.2 744.1h0M355.5 923.8h0M588.7 909.3h0M269.7 950.7h0M578.4 895.3h0M191.7 931.6h0M1270.5 1030.8h0M470.6 916.4h0M1366.1 1011.8h0M928.9 1026.1h0M361.6 955.2h0M614.8 847.6h0M1461.1 980.5h0M777.2 852.2h0M741.8 918.5h0M1218 1032h0M1435.4 919h0M1436.6 901.8h0M1230.5 1027.9h0M631.9 1013.4h0M752.6 954.7h0M587.6 902.7h0M749.3 759.7h0M129.6 1014.7h0M117.6 985.3h0M1072.5 1031.9h0M1012 1030.7h0M430.8 932.2h0M736.7 795h0M1098.6 1025.3h0M365.2 988.7h0M414.4 894.5h0M421.2 913.1h0M426.2 911.9h0M426.6 920.3h0M1129.4 1030.7h0M318.9 911.1h0M865.8 1019.9h0M1346.6 1030.8h0M481.8 840.3h0M163.6 889.1h0M504.5 856h0M844.9 880.6h0M1225.7 1027.3h0M724.5 795.3h0M966.4 1029.1h0M365.1 982.5h0M360 947.1h0M727.5 960.7h0M784.5 922.7h0M436.8 1016.4h0M117.7 956.4h0M245.7 965.2h0M1253 1031.7h0M846.6 753h0M175.2 876.8h0M354.3 932.4h0M344.9 908.6h0M1023.7 1024.9h0M1327.7 1031h0M182.3 920.2h0M412.2 826.2h0M696.2 873.8h0M504.7 838.4h0M823.7 937.8h0M825.6 928.1h0M419.5 921.6h0M937.9 988.5h0M553.1 899.2h0M1144.7 1022.4h0M320.8 1020.1h0M898 956.7h0M1147.3 1030.8h0M953.7 1009.6h0M364.4 979.7h0M1080.7 1026.3h0M1052.4 1031h0M1006.6 1030.4h0M823.2 932.6h0M1029.3 1031.8h0M709.4 1013.6h0M672.6 920.3h0M753.4 821.6h0M755.6 1007.5h0M673.3 917.9h0M184.1 1026.2h0M963.7 1014.8h0M390.7 1016.5h0M138.4 1021h0M846.1 878h0M324 908.9h0M426.3 916.2h0M1249.6 1027.3h0M846.9 748.2h0M1461.7 941.5h0M1031.5 1023.9h0M116.7 972.8h0M478.5 893.1h0M989.5 1030.5h0M1083.2 1030.5h0M587.6 909.1h0M952.6 1003.3h0M849.8 827.7h0M1439.3 1007h0M1410.7 967.1h0M430.3 920.2h0M716.7 883.7h0M780.9 891h0M846.3 865.4h0M601.1 893.9h0M844.3 915.3h0M371.7 1024.1h0M779.5 1015.2h0M964.7 1029.3h0M479.6 1002.4h0M822.2 929.8h0M541.9 1018.7h0M589.9 876.5h0M967.1 1030.1h0M616 886.5h0M1458.7 996.4h0M1458.7 1000.3h0M1285.7 1031.2h0M258.8 977.7h0M1268.6 1031.6h0M413.6 877.1h0M897.2 961.8h0M843.9 908.7h0M225.6 943.9h0M803.8 933.2h0M851.8 893.8h0M245.3 964.2h0M921.4 931.4h0M1298.4 1027.5h0M1355.3 1017.6h0M757 876h0M330.9 917h0M502.5 859.9h0M803.1 1025.1h0M755 929.9h0M1389.5 997.6h0M144.4 879h0M1227.1 1027.1h0M1243.1 1031.8h0M1005.4 1022.5h0M454.2 1014h0M403.4 901.5h0M278.6 950.4h0M721.9 821.1h0M723.9 807.5h0M733.4 903.6h0M822.1 943h0M119.4 999.6h0M524.2 887.5h0M936.8 975.3h0M411.9 770h0M1031 1023.6h0M491.5 854h0M551.5 910.5h0M583.4 1019.9h0M1350.3 1019h0M851.8 911.7h0M823.4 1018h0M489.7 1002.1h0M872.2 945h0M1081.5 1031.5h0M773.9 1016.9h0M854.4 926.4h0M456.3 945.1h0M1401.3 971.5h0M315.5 898h0M984.6 1017.6h0M117.7 991.1h0M1132.4 1031.6h0M780.7 901.9h0M782.4 1020.9h0M388.9 954.2h0M1449.5 995.2h0M116.7 931h0M850.1 862.4h0M1115.9 1031.6h0M498.5 851.9h0M601.5 914.3h0M771.7 797.1h0M1233.6 1016.7h0M587.4 871.5h0M300 902.1h0M120.4 1015.3h0M1163.4 1024.4h0M401.8 911h0M846.4 788.1h0M1095 1031.9h0M311.6 854.2h0M847.3 675.5h0M1162 1030.7h0M318.5 1021.1h0M1007.5 1023h0M847.4 773.8h0M847.2 780.7h0M301.9 892.7h0M610.7 894.3h0M283.9 934.3h0M1179 1031.2h0M1299.2 1026.6h0M884.7 950.3h0M728.4 798.2h0M1187 1031h0M215 921.7h0M785.7 898.6h0M559.9 893.5h0M443.1 946.7h0M182.6 907.6h0M467.3 903.3h0M175.7 846.9h0M906.9 961.9h0M680.7 918.8h0M553.4 891.7h0M504.8 810h0M847.5 785.7h0M833.7 952.8h0M751.8 760.5h0M777.2 870h0M574.5 1025.5h0M1460.9 921.5h0M614.3 863.8h0M419.1 919.2h0M727 777.3h0M1462.4 1011.1h0M544.6 916.8h0M487.4 849.7h0M754.1 790.9h0M117.5 981.7h0M215.8 922.5h0M542.7 1018.9h0M563.2 898h0M297.7 917.4h0M490.9 838.9h0M1278.7 1026.4h0M920.9 947.6h0M429.6 912.2h0M330.4 1020.1h0M234.8 954.9h0M1414.8 1018.6h0M542.7 1019h0M1015 1031h0M344.3 1016.5h0M1183.6 1031.2h0M874.5 900.9h0M847.9 831.2h0M271.1 949.6h0M753.1 816.4h0M1462 934h0M501.5 872.1h0M1427.4 932.5h0M152.9 897.1h0M472.2 1011.9h0M1054.5 1030.5h0M1362.5 1026.9h0M1256.7 1031h0M698.9 863.4h0M1032.6 1031.1h0M1447.7 896.2h0M1212.9 1031.8h0M1441.7 908.4h0M851.7 1013.7h0M300.1 896.5h0M623.4 857.3h0M848.7 786.2h0M850.9 854.9h0M213 888.7h0M1391.4 988.3h0M693 893.9h0M1323 1030.6h0M742.6 902.7h0M623.5 831.4h0M1165.8 1031.1h0M1138.1 1023.4h0M1293.4 1026.8h0M1462.2 967.9h0M508.4 1014.1h0M522.3 1016.7h0M820.5 950.7h0M879.1 1014.3h0M754.4 845.2h0M577.7 1022.2h0M1292.7 1026.6h0M178.4 1021.2h0M1441.6 918.9h0M666.4 904.8h0M116.9 949.3h0M750.5 733.5h0M343.4 913.2h0M840.9 947.3h0M720.3 1014.3h0M345.4 908.8h0M200.5 932.1h0M1384.3 1026h0M416.7 904.8h0M698.4 868.9h0M704.5 1014.6h0M308.8 855.1h0M297.9 909.2h0M1461.4 939.9h0M159.4 1020.4h0M1462.1 952.5h0M1113.6 1031.2h0M784.8 912.4h0M193.3 930.8h0M259.3 972.8h0M429.5 914h0M128.9 913.6h0M1412.4 948.1h0M1157.5 1031.1h0M117.4 968.4h0M707 881.9h0M1319 1025.2h0M409.7 862.6h0M754.5 810.5h0M851.9 905.8h0M751.9 736.3h0M847.2 766.5h0M220.6 942.5h0M730 961.6h0M1317.7 1030.2h0M874.7 922.5h0M771.5 1021.7h0M164.8 874h0M872 944.3h0M1278.9 1032h0M1415.1 959.1h0M845.9 700.4h0M1222 1026.4h0M478.5 885.1h0M680.2 1012.7h0M269.2 952.2h0M165.3 860.1h0M944.3 995.8h0M748.9 870.4h0M392.6 939.8h0M665.8 908.2h0M849.2 839.4h0M268.6 961.3h0M598.5 899.9h0M623 832.7h0M1422.1 953.3h0M1125.4 1023.2h0M613.1 884h0M1020.7 1030.6h0M989.4 1019.5h0M431.4 929h0M1243 1027.4h0M1332 1016h0M352.5 1019.5h0M976.9 1030.1h0M957.5 1013.4h0M1073.8 1032.3h0M773.3 803.3h0M677.6 1015.8h0M524 855.9h0M150.6 820.5h0M744.7 765.7h0M479.4 889.5h0M658.1 902.9h0M1341.1 1031.4h0M745.7 976.8h0M754 946.2h0M822.3 936.4h0M449.3 934.3h0M1272.1 1031.2h0M583 1020.5h0M777.6 879.3h0M1330.6 1030h0M1460.9 978.9h0M1162.6 1023.7h0M468 919.5h0M358.7 951.7h0M131 926.9h0M908 948.9h0M118.6 997h0M1335.6 1018.1h0M944.7 1023.6h0M244.6 1027.6h0M1394.4 980.7h0M928.5 969.3h0M165.2 1029.8h0M364.8 987.4h0M321.4 908.5h0M206.5 1027.3h0M770.5 1023.5h0M529.9 904.3h0M811 926.9h0M717.9 851.5h0M844.3 905.2h0M347.9 1013.7h0M693.5 888.7h0M1092.2 1025.5h0M637.2 859.2h0M903.7 964.7h0M1109.3 1025.5h0M363.3 972.2h0M450.1 1017.8h0M530.8 925.5h0M1447 900.5h0M400.8 912h0M773.6 845.4h0M877.3 1014.5h0M1120.3 1031.1h0M392.4 1018.7h0M579.5 1022.8h0M127 915.3h0M117.4 953.7h0M345.1 917.7h0M867.4 957.3h0M448.4 921.4h0M1232.3 1031.6h0M774.6 826.3h0M944.2 993.7h0M854.1 929.4h0M150.7 903.6h0M759.4 884.3h0M852.8 898.1h0M1307.4 1030.8h0M451.7 949.7h0M1326.2 1020.4h0M782.6 1020.4h0M210 930.4h0M770.5 865.5h0M1391.3 994.4h0M750.2 717.8h0M1343.3 1018.7h0M1101.6 1030.9h0M699.3 879.2h0M381.9 971.1h0M402.5 863.8h0M1288.9 1027h0M355 937.8h0M160.3 896.3h0M538.2 922.1h0M1210.9 1025.6h0M311.7 814.1h0M846.3 752.5h0M1241.4 1032.3h0M528.9 906.3h0M301.5 888.9h0M538.8 1021.1h0M387 961.9h0M840.3 943.4h0M141.4 898.6h0M854 931.4h0M285.7 1026.1h0M1061.2 1031.1h0M814.1 940.1h0M480.4 853.3h0M393.4 939.3h0M1150.3 1029.8h0M781.4 893.5h0M473.6 1012.7h0M846.6 770.2h0M529.8 914.8h0M945.9 1024.6h0M189 926.8h0M844.9 874.7h0M305 842.7h0M505.2 850.8h0M672.3 916.6h0M347.2 922.9h0M905.6 1012.1h0M757.5 926.6h0M755.1 867.2h0M318.9 901.9h0M563 894.8h0M744.3 978.2h0M1392.8 985.1h0M334.3 896.6h0M770.6 867.5h0M773.3 840.5h0M1419.3 1017h0M194 934.5h0M730.4 780h0M496.5 873.2h0M312.3 1013.4h0M478.4 889.7h0M657.6 871.2h0M429.1 892h0M982.4 1016.3h0M469.4 922.6h0M377.4 984h0M766 894.1h0M660.6 1019.4h0M959.1 1013.8h0M873.6 1014.4h0M611.1 898.1h0M514.9 1014.2h0M1267.6 1027.8h0M152.1 1023.5h0M599.7 893.9h0M1357.3 1028.6h0M1456.2 991.1h0M327 911.6h0M526.5 899.1h0M552.9 899.9h0M1370.2 1005.9h0M846.7 751.2h0M751.6 796.3h0M117.3 964.7h0M1403.3 961.7h0M874 923.1h0M1068.3 1024.9h0M851.5 878.7h0M1012 1023.8h0M793 917h0M846.3 803.9h0M448.3 923.4h0M907.1 958.1h0M753.2 953.5h0M1362.9 1027h0M910 1011.6h0M719.8 823.7h0M1179 1024.5h0M203.6 875.1h0M119.4 914h0M299.2 904.9h0M1462 970.9h0M303.2 864.2h0M150.2 858.4h0M1135.7 1030.1h0M846.5 843.8h0M755.7 855.1h0M846.2 768.6h0M711.6 875.8h0M891.7 930.6h0M748.6 867.4h0M1329.9 1030.5h0M1461.5 949.1h0M779.5 881.2h0M175 881h0M848.7 789.6h0M510.5 814.5h0M847.9 877.1h0M1428.2 1010.2h0M813.6 939h0M1226.4 1031.9h0M1442.4 1005.1h0M1066.3 1031.2h0M669.7 1017.8h0M1427.4 933.5h0M129.7 1020.9h0M846.4 836.3h0M364.2 978.4h0M758.5 880.6h0M775.6 856h0M509.9 853.9h0M961.5 1029.7h0M643.3 905.1h0M795.2 917.6h0M1099.9 1030.8h0M750.6 721.6h0M537.3 1023.6h0M150.3 846.2h0M797.5 920h0M525.9 1016.1h0M1160.6 1030.6h0M1036.9 1030.9h0M753.9 830.1h0M629.6 953.9h0M892.9 936.8h0M289.5 941.7h0M415.9 886.8h0M467.8 925.6h0M258 969.8h0M1190.9 1031.1h0M793.5 925.8h0M721.9 819.2h0M908.3 925.6h0M720.8 824.7h0M316.3 895.6h0M617.8 1012h0M425.2 917.6h0M462 939.7h0M1285.7 1026.4h0M411.2 864.6h0M845.3 850.8h0M1150.4 1030.2h0M1055.8 1023.8h0M200.6 930.3h0M721.1 817.1h0M680.8 921.3h0M771.9 835.2h0M847.3 771.4h0M116.9 1014.7h0M748.5 998.8h0M600.4 912h0M1361.6 1015.8h0M747.7 740.1h0M1186.1 1024.8h0M1391.5 990.8h0M1250.7 1025.7h0M563.5 915.2h0M175.5 880h0M1099.4 1024.5h0M735.6 749.9h0M581.3 910.2h0M747 866.7h0M412.4 874.8h0M1071.4 1024.9h0M1185.4 1031.8h0M597 895.3h0M898.8 963.1h0M207.2 1028h0M501.8 872.9h0M117.4 923.9h0M537.7 1023.5h0M317.1 895.4h0M595.3 885.5h0M1068.2 1031.2h0M732.3 774.1h0M1130.3 1022.5h0M685.9 893.5h0M825.5 935.8h0M757.5 872.8h0M125.4 857.5h0M502.6 875.4h0M809 923.1h0M141.4 922h0M851.8 887.9h0M281.1 937.9h0M1434.6 915.2h0M477.8 884.7h0M380.6 973.4h0M553.6 908.3h0M117.2 963h0M1397 975.4h0M692.5 889h0M116.9 975.3h0M810.2 917.3h0M857 948.1h0M116.6 964.8h0M672.7 902.6h0M480.9 873.2h0M481.5 860.3h0M152.9 908.3h0M715.2 877.4h0M1123.5 1031.5h0M1461.2 999h0M811.3 1018.1h0M143.2 895.5h0M409 871.7h0M1461.7 976.6h0M341 896.4h0M1461.7 920.1h0M774.7 825.7h0M359 1017.2h0M613.2 1009.4h0M1269.7 1025.1h0M1426.4 940.9h0M474.1 866.7h0M1311.9 1031.1h0M259.2 1027.7h0M1028.1 1021.9h0M673.5 1016.8h0M722.4 1006.6h0M301.6 891h0M507.2 1012.8h0M733.7 797.3h0M846 826h0M533 1021.9h0M683.1 905.5h0M415.8 897.7h0M730.7 876.1h0M952.5 1026.4h0M732.6 847.5h0M160 903.5h0M1434.1 1017.2h0M862.6 1022.3h0M1445.3 896.6h0M481 878.9h0M124.7 858.8h0M1158.4 1031.2h0M885.2 943.5h0M1393.2 984.3h0M245.7 967.9h0M334.8 890h0M295.5 1023.1h0M846.5 776.7h0M582.1 906.3h0M117.1 997.2h0M142.7 1022.2h0M849.4 849.3h0M429.1 881.3h0M1056.6 1030.6h0M507.6 1014.1h0M773.9 790h0M743.2 836.7h0M201.9 934.5h0M935.4 980h0M299 904.4h0M281.9 940.1h0M907.1 950.5h0M926 966.9h0M182.7 921.1h0M853.2 1018.7h0M402.5 916.6h0M755.8 854.5h0M640.7 868.6h0M1118.1 1025.4h0M611.4 892.8h0M617.9 868.8h0M720.2 1013.8h0M118.9 1016.3h0M119.3 1001h0M117.5 935.9h0M1208.6 1023.7h0M505.1 830.2h0M299.3 882.2h0M615 869.9h0M211.2 922.3h0M495.8 864.6h0M154.7 903h0M164.1 885.2h0M1174.8 1031.5h0M1099 1031.2h0M1156.4 1023.2h0M1002 1030.9h0M739.8 900.6h0M185.9 928h0M1395.9 1019.7h0M331.8 921.3h0M150.2 873h0M360.2 952.7h0M1140.3 1020.3h0M717.1 880.5h0M1305 1025.7h0M955.7 1028.5h0M742.9 763.5h0M742.8 699.7h0M921.7 963.4h0M248.6 1027.1h0M530.2 921.9h0M1040.3 1030.7h0M333.6 894.1h0M449.6 943.2h0M753.6 764.9h0M843.6 913.6h0M293 926.6h0M414 1011.7h0M869.6 1017.9h0M1076.8 1031.2h0M1255.2 1031.9h0M616.1 874.5h0M498.9 845.2h0M1462.3 921.5h0M806.2 1021.5h0M117.4 944.6h0M1219.8 1032.4h0M715.5 836.7h0M1456.3 892.5h0M1116.9 1025.1h0M402.5 905.4h0M703.2 1023.2h0M117.4 1008.5h0M517.9 1025h0M1375.5 1027.7h0M1425.9 1011.5h0M927.7 966.1h0M1390.4 993.9h0M778.1 875h0M1187.4 1031.5h0M1058.7 1030.6h0M723 761h0M1223.9 1024.5h0M786.2 914.1h0M895.8 952.6h0M737.9 903.6h0M665.7 1022.4h0M720.2 825.6h0M503.3 841.9h0M185.1 927.9h0M611.2 870.5h0M153 901.8h0M1462 979.1h0M845.6 741.6h0M511.5 796.3h0M728.1 876.2h0M846.2 896.7h0M1308.5 1024.8h0M366.1 989.3h0M816.4 943.6h0M849.9 841.1h0M784.9 924.5h0M1459.7 1002.8h0M116.5 968.2h0M754 800h0M735.3 769.5h0M742.8 786.5h0M715.3 867.2h0M764.7 1018.4h0M430.3 921.5h0M808.4 1019.2h0M808.1 916.4h0M750.8 751h0M409.6 860.7h0M610.8 905.5h0M354.5 926.9h0M906.4 957.5h0M1410.5 960.4h0M599.6 867.6h0M1150.7 1030.8h0M692.4 1015.6h0M650 1026.9h0M824 926.8h0M165.1 877.5h0M246.2 1028.8h0M846.7 761.6h0M511 856.9h0M1461.2 985.4h0M1428.6 1010.7h0M608.4 913.5h0M1442.2 867.6h0M698.8 879.7h0M471 909.7h0M504.3 854.6h0M291.8 933.9h0M733.8 903.5h0M825 1020h0M502.8 847.3h0M649.5 840h0M845.3 853.2h0M511.2 848.5h0M311.1 803.9h0M466.7 1012.9h0M761.4 886h0M1344.2 1030.9h0M144.8 876.4h0M1461.5 962.2h0M909.3 951.3h0M1396 1020h0M384.8 1020.1h0M1015.1 1023.1h0M1366.9 1010.9h0M504.9 855.7h0M1173.1 1024.7h0M614.5 848.2h0M754.5 861.6h0M742.6 665.1h0M193.1 929.7h0M489.2 831.6h0M202.7 931h0M360.2 948.8h0M403.2 890.8h0M477 1006.4h0M543.1 909.2h0M586.6 901.6h0M845.7 846.2h0M116.8 941.1h0M937.4 983.3h0M1263.8 1031.9h0M553 903.8h0M1108.6 1031.4h0M314.7 876.8h0M1423.7 940.1h0M849.3 837.5h0M1207.1 1023.3h0M510 860.6h0M745.5 897.1h0M398 937.9h0M823.6 930.8h0M1399.3 1022.6h0M589.9 866.3h0M970.9 1029.4h0M216.4 939.5h0M643.4 894.3h0M799.9 1022.6h0M117 982.6h0M399.3 1010h0M254.9 1028.1h0M1366.9 1026.9h0M772.6 848.1h0M894.5 950.9h0M744.5 723.7h0M1023.8 1023.5h0M559.8 891.7h0M1388.6 997.5h0M1237.6 1032h0M1086.8 1030.8h0M845.3 900.3h0M608.6 917.8h0M476 1009.6h0M163.9 875.8h0M400.4 918h0M875.7 937.1h0M717.7 858.1h0M852.9 910.2h0M1431.7 1012.3h0M847.6 887.6h0M487.1 840.3h0M503.5 854.7h0M607.8 908.3h0M326.3 913.1h0M422 1011.3h0M353.2 921.1h0M673.4 927.3h0M133.5 923.1h0M1435.7 908.6h0M744.1 774.8h0M637.6 877.7h0M152.2 887.5h0M945.6 998.7h0M457.8 950.1h0M1219.8 1026.3h0M702 1016.2h0M752.8 805.9h0M182.9 904h0M956.8 1028.6h0M445 953.5h0M295.2 1018h0M480.8 867.5h0M673.1 929.2h0M1280.5 1026.5h0M279.1 938.4h0M1075.1 1032.6h0M740.7 790.7h0M849.2 852.2h0M172.2 876.5h0M551 904.6h0M564.5 1023.2h0M772.9 807.4h0M612.9 883.8h0M757.2 1009.3h0M183 885.8h0M751.9 789.1h0M795.7 914.6h0M755.8 866.6h0M1331.6 1030.8h0M659.6 1019.2h0M680.9 913.8h0M907.7 945.1h0M598.3 1014.9h0M1009.8 1023.5h0M719.8 849.4h0M916 1018.8h0M424 1011.5h0M622.3 860.6h0M632.3 884.2h0M124 820.5h0M846.4 640h0M845.9 874.6h0M301.4 870.7h0M680.2 919.6h0M498.1 842.9h0M850.4 860h0M1420.7 1014.9h0M610.1 903.2h0M1304.2 1031.6h0M1292.2 1031.5h0M1343.3 1018.3h0M352.2 912h0M755.1 927.9h0M506.9 862.4h0M116.8 956.7h0M362.4 963.4h0M846.7 799.1h0M784.5 921.5h0M1388.9 996.8h0M273.7 1025.7h0M485.7 999.1h0M743.6 732.7h0M747.9 714.9h0M812.1 934.3h0M882.8 1013.9h0M750.5 638.3h0M651.4 868h0M822.9 947.1h0M426.3 910.3h0M198.7 1026.2h0M672.2 912.3h0M616.3 1013.7h0M172.7 870.5h0M454.7 951.1h0M1010.7 1023.1h0M335.1 880.1h0M346.6 916.9h0M1259.9 1026.3h0M759.4 1016.8h0M1320.4 1024.8h0M755.6 841h0M141.5 919.7h0M242.6 942.6h0M1217.1 1026.1h0M449.5 938.6h0M854.2 942.9h0M365.6 1024.5h0M623 812h0M1456.4 891.1h0M1434.3 928.8h0M755.7 852.8h0M921 1020.1h0M391 946.7h0M364.1 975.8h0M1462.3 934.7h0M410.5 854.5h0M838.4 1021.3h0M280.6 943.4h0M1270.9 1032h0M150.4 798.8h0M175.8 888.7h0M511.4 845.5h0M223.9 1028.9h0M501.8 874h0M781.5 1015.1h0M1462.1 981.3h0M775.7 858.2h0M171.6 877.4h0M706.8 884.5h0M1036.3 1024h0M596.3 1016h0M741 900.5h0M756.4 863.2h0M633.9 885.2h0M1354.4 1028.4h0M846.6 733.3h0M450.4 1017.8h0M622.8 766.7h0M873.2 930.7h0M645.3 907.6h0M209.8 1027.8h0M279.5 944.5h0M907.6 947.9h0M1066.3 1031.5h0M613.5 879.9h0M119.3 921.1h0M489.4 826.7h0M695.1 883.2h0M498.2 863.1h0M771 862.3h0M396.8 1013.1h0M1239.9 1026.8h0M759.5 1014.5h0M504.7 839.4h0M481.3 832.3h0M834 1019.8h0M850.3 850h0M562.5 903.9h0M783.3 910.2h0M361.2 958h0M1218.4 1025.7h0M1063.8 1031h0M772.1 855.9h0M742.9 910.1h0M315.8 861.5h0M273.8 944.3h0M141.7 901.7h0M751 659.9h0M196 1025.7h0M631.1 862.3h0M822.4 947.3h0M415.5 899.3h0M1137.9 1030.6h0M513.7 1013.5h0M743.6 733h0M1462.3 1003.5h0M604.5 909.6h0M1443.4 893.4h0M834.3 952.1h0M742 772.2h0M743.3 735.3h0M460.1 1009.5h0M148 887.7h0M1012.4 1022.7h0M887.9 943h0M643.4 891.9h0M938.1 1023.8h0M514.4 1014.6h0M515.6 1014.8h0M730.5 882.2h0M160.9 890.3h0M754 750.3h0M1125.1 1031.1h0M252 980h0M807.6 930.7h0M847.6 750.3h0M116.8 944.4h0M290.6 932.9h0M889.6 1022.3h0M402.2 855.1h0M610.8 895.8h0M215.1 1024.4h0M735.3 1007.4h0M850.8 1010h0M851.9 890.9h0M405.8 1012.4h0M600.2 906.9h0M744.4 896.2h0M170 881h0M313.4 1020h0M846.1 775.3h0M795 914.6h0M1383.4 1027.7h0M728.8 844.6h0M305.6 812.5h0M481.7 818.8h0M618.4 851.4h0M182.4 924.2h0M753.5 726.9h0M176.3 887.1h0M175.6 898.5h0M412.2 837.6h0M1391.3 985.7h0M211.8 910.3h0M295.5 1020.5h0M116.8 982.1h0M499.5 1011h0M973.8 1029.4h0M728 882.1h0M692.2 892.9h0M853.1 917.5h0M1461.3 930.3h0M636.9 867.6h0M300.7 867.6h0M623.6 864.8h0M235.9 1028.7h0M637 1017.2h0M744.1 753.4h0M1411.1 966.3h0M926.2 1023.6h0M1317.8 1030.9h0M847.6 663.6h0M391 945.6h0M1004.4 1031h0M849.4 845.3h0M779.1 860.9h0M738.3 975.5h0M187.7 916.9h0M842.6 931.9h0M1417.5 1018.6h0M831.9 948.2h0M357.7 1018h0M673.3 931.2h0M1266 1027.3h0M427.6 1011.9h0M967.9 1014.8h0M1041 1031.4h0M1354.1 1017.9h0M1394 1020.7h0M622.1 791.2h0M719.5 842.4h0M574.9 915.8h0M1449.5 902.3h0M1116 1024.7h0M720.2 843.5h0M528.5 1018.3h0M402.6 887.8h0M751.4 729.6h0M666.6 905.2h0M1403.7 962.1h0M433 934.7h0M610.9 1010.3h0M751.5 757.8h0M845 901.3h0M739.9 976.5h0M1343 1018h0M1373.1 1004.3h0M1445.4 902h0M412.8 791.1h0M713.7 1018h0M425.7 923.3h0M845.8 1009.2h0M892.3 1016.4h0M777.9 821h0M618 860.2h0M765.7 1020.8h0M718.2 850.2h0M587.9 869.6h0M744.8 997.3h0M1446.3 1002.7h0M1373.7 1003.5h0M510.9 805.2h0M733.5 965.3h0M417.6 1017.3h0M1350.4 1028.8h0M286.8 940.1h0M783.2 896.5h0M741.1 830.5h0M877.4 945.6h0M750.7 663.1h0M496.5 855.6h0M849.2 822.7h0M536.9 923.2h0M560 905.5h0M1107.4 1024.3h0M1428.8 930.9h0M1461.8 915.5h0M123.2 1011.3h0M627.8 844.4h0M263.1 968.5h0M846.5 761.8h0M774.1 834.9h0M481.7 802.5h0M303.7 860.2h0M685.4 854.9h0M1015.2 1031.1h0M209.9 936.2h0M1055.6 1030.6h0M844.9 875.6h0M847.6 760.5h0M261.1 967.2h0M743.5 736.5h0M778.4 875.7h0M1461.5 929.7h0M175.9 903.9h0M259.4 1028.1h0M893 931.7h0M840 1014h0M628.5 1014.3h0M756.7 924.5h0M527.6 895.5h0M174.8 817.5h0M283.7 931.8h0M673.1 924.5h0M483.1 825.1h0M174.1 1025.3h0M212.5 890h0M246.1 970.5h0M365.7 985.8h0M868.9 952h0M812.7 936.3h0M537.2 916.9h0M732.4 879.4h0M903.4 1014.5h0M1405.3 1020.9h0M370.9 989.3h0M1135.1 1023.1h0M757.8 878.3h0M332.1 908.5h0M154.6 909.1h0M832.7 1016.2h0M473.9 883.3h0M144.5 887.9h0M300.9 873.8h0M212.7 911.3h0M254.8 1028.7h0M475.3 902.2h0M783.7 918.3h0M117.3 1001.7h0M137.9 905.4h0M1197.7 1024h0M313.1 867.3h0M563.2 908.3h0M402.8 882.8h0M627.8 858.2h0M561.8 887.6h0M839.4 947.5h0M714.6 868.4h0M711.4 887h0M464.4 1010.5h0M1378.7 1005.6h0M1460.7 909.7h0M243.2 944.9h0M626.1 1012.9h0M843.1 913.7h0M847.8 812.4h0M650.1 808h0M743 775.2h0M1462 976.5h0M830.4 1014h0M807.4 1021.8h0M1458.6 998.9h0M1451.2 993.1h0M783.1 900.1h0M786.4 1020h0M771.9 837.3h0M651.1 902.8h0M1461.4 996.7h0M1461.1 975h0M895.6 1017.9h0M909.4 923.3h0M874.2 925h0M438.7 1017.4h0M284.2 910.1h0M859.1 955h0M308.1 858.3h0M1307.7 1031.5h0M1433.3 930h0M337.8 899.7h0M490.1 1006.2h0M146.7 893.4h0M1300.4 1026h0M314.2 1018.5h0M343.1 903.9h0M623.6 770h0M481.2 877h0M200.7 933.2h0M511.6 833.1h0M855 941.3h0M739.3 989.4h0M215.8 1025.4h0M746.4 921.1h0M212.4 932.1h0M293.5 922.1h0M622.9 769.4h0M328.6 1019.4h0M840.9 1016.4h0M846.9 732.5h0M479.4 872.9h0M310.2 818.6h0M713.2 1013h0M740.2 1007.9h0M673.7 923.1h0M1200.6 1031.4h0M679.2 930.3h0M757.8 872.7h0M203.7 917.9h0M433.4 924.1h0M613.9 816.3h0M752.9 777.6h0M1445.1 900.7h0M776.6 844.7h0M185.2 1026.9h0M870.4 948.3h0M1106.2 1030.9h0M569.6 916.4h0M849.7 838.9h0M301.3 1015.4h0M1413.6 1025.3h0M479.5 1002.7h0M528.3 894.4h0M1155.2 1022.4h0M917.2 1020.5h0M121.2 1015h0M614.3 844.8h0M813.1 1018.7h0M255.6 981h0M1313.6 1026h0M691.7 896.5h0M1289.8 1026.8h0M777.2 1025.8h0M744 743.7h0M431.5 1019.4h0M776.7 853.9h0M743.6 700.9h0M954.6 1010.2h0M685.4 898.8h0M325.9 921.4h0M159.8 908.8h0M792.3 1024.1h0M363.4 1021.6h0M412.5 1012.5h0M124.5 901.1h0M190.6 895.1h0M497.2 847.8h0M1442.9 883.8h0M614 1010.6h0M610.4 897.7h0M793.3 925.5h0M579.2 897.3h0M290.6 936.3h0M844.2 903.7h0M849.8 1013.6h0M529.6 906.8h0M353.2 917.1h0M435.2 935.3h0M1454.6 898.1h0M615.5 874.5h0M914.5 954.3h0M846.2 725.3h0M501.1 867h0M755 838.2h0M311.8 827.3h0M779.5 880.4h0M287.2 1026.1h0M1213.1 1024.6h0M688.3 1013.4h0M161.1 889.8h0M1311.6 1025.5h0M783.7 909.2h0M845.8 872.9h0M742.9 650.1h0M176.8 907.5h0M1414.6 1025.1h0M847.2 816.5h0M680.9 924.7h0M782.1 893.6h0M502.9 835.4h0M743.8 767.3h0M846.8 797.4h0M1093.4 1031.5h0M247.3 1028.6h0M554.1 885.5h0M728.2 850.2h0M1052.5 1022.7h0M176.5 1021.3h0M426 919.9h0M1320.6 1023.9h0M750.9 706.2h0M428.3 1016.6h0M729 1016.3h0M889.2 1018.9h0M863.7 959.4h0M1046.7 1031h0M786.2 907.1h0M813.7 1018.7h0M417.2 909.4h0M231.9 958.8h0M490.6 846h0M1457.7 882.5h0M252.5 1027.9h0M381.8 968.1h0M743.7 746.8h0M1036.4 1023.6h0M1302.1 1025.3h0M1444.8 902.6h0M125.2 1017.8h0M117 961h0M841.7 931.7h0M519.4 1024h0M164.6 878.9h0M865.5 1020.9h0M1461.6 946.2h0M1225.2 1032.4h0M412.3 791.6h0M1442.9 881.3h0M755.6 869.5h0M1343 1017.9h0M211.7 914h0M894.7 950.1h0M738.6 1012.8h0M171.1 876.1h0M1222 1032.2h0M141.1 911.6h0M586.2 912.2h0M463.8 924.7h0M998.9 1020.3h0M1462.3 975.9h0M1024 1031.5h0M267.5 958.1h0M365.1 975.9h0M541.1 910.7h0M310.9 768.8h0M176.8 904.2h0M116.7 937h0M1422.7 946.7h0M382.7 1023h0M772.7 852.9h0M1105.4 1025.1h0M1074.4 1025.7h0M552.4 1020.6h0M1110.5 1031.4h0M269.5 1025.7h0M634.5 951.2h0M862.1 1025.4h0M381.8 969.4h0M743 869.7h0M190.9 874.4h0M1000 1031.1h0M915.7 1021.1h0M1161.2 1031.6h0M1421.8 954.2h0M477.8 1007.6h0M185.5 1027.5h0M906 1012.8h0M737.2 781.8h0M524.8 863h0M354.4 1019h0M297.4 914.2h0M892.2 941.7h0M1114.9 1031.6h0M849.2 834h0M623.6 845.2h0M907.8 911.4h0M163.4 886.8h0M937.7 986.9h0M407.3 1012.9h0M1427.2 935.9h0M1371.2 1004.9h0M215.1 926.5h0M1157.7 1023.2h0M791.3 924.6h0M868.9 1018.8h0M700.4 1018.1h0M715.2 886.3h0M849.3 831.7h0M881.9 948.9h0M613.7 855h0M637.7 887.6h0M269.1 928.9h0M542.3 886.8h0M908.3 926.5h0M786.6 919.1h0M846.2 663.8h0M526 892h0M588.7 896h0M781.2 1023.3h0M844.8 865.4h0M660.5 1019.7h0M355.6 934.6h0M345.8 1015.9h0M650.6 848.9h0M505.4 861.7h0M1080.2 1025.8h0M938.4 981.5h0M174.8 869.8h0M518.5 864.5h0M835.4 1021.4h0M202.3 930h0M751 715.3h0M1019.4 1031.6h0M165.7 878.6h0M171.4 1021.5h0M243 942.6h0M747.2 952.4h0M754.9 1005.2h0M938.3 989.4h0M1066.6 1024.6h0M655.7 895.8h0M150.9 854.8h0M794.3 908.2h0M846.7 703.7h0M1462.1 1013.1h0M1386.4 1000.7h0M855.3 942.6h0M412.8 779.5h0M909.4 950.6h0M370.7 1024.4h0M480.3 857.9h0M181.1 1031.5h0M752.5 759.9h0M305 1012.2h0M456.1 1013.7h0M600 904.8h0M649.7 905.9h0M923.8 1023.2h0M716.9 839.6h0M152.5 890.8h0M349.2 924.8h0M386.9 1019.4h0M285.3 935.5h0M491.8 831.6h0M176.6 873.4h0M150 881.6h0M1201.9 1024.6h0M129.6 1012.1h0M470.2 916.6h0M343.6 1020.4h0M574.6 910.7h0M650.1 903.7h0M769.7 872.5h0M176.5 899.7h0M480.1 875h0M482.7 1002.1h0M1365.9 1028.4h0M779.8 884.1h0M874.3 927h0M658.1 861.7h0M405.5 1013.7h0M846.3 818.9h0M149.2 879.1h0M1187.4 1024.3h0M707.2 860.1h0M643 1024.3h0M641.1 879.5h0M1456.6 992.8h0M743.9 741.9h0M581.6 899.6h0M305.9 851.1h0M744.2 643.4h0M152.5 892.9h0M229.2 1031.7h0M579.5 903.9h0M873.8 936.3h0M481.3 842.2h0M191.3 894.8h0M125.9 911.3h0M859.1 951.7h0M748.7 923.7h0M1233.8 1012.7h0M1461.9 929.7h0M176.8 901.1h0M228.4 952.7h0M851 881.4h0M1440.9 907.5h0M868 953.9h0M123.1 919.1h0M747.2 999.2h0M1182.4 1024.1h0M726.1 966.6h0M419.9 920.7h0M426.9 908.4h0M281.9 936.5h0M443 1017.9h0M293.5 914.6h0M1333.8 1030.2h0M206 930.6h0M1367.5 1008.7h0M319 891h0M1426.8 933.7h0M659 897.1h0M403.1 878.4h0M1373.2 1003.3h0M825.9 934.1h0M186.6 892.3h0M744.9 757.9h0M953.9 1009h0M826 939.4h0M1374.6 1000h0M753.2 757h0M204.3 892.1h0M326 920.4h0M907.6 954.5h0M1354.5 1029h0M753.4 803.3h0M845.7 748.2h0M746.3 949.7h0M843.9 907.9h0M468.4 1012.4h0M752.8 827.3h0M530.8 921.8h0M401.5 1007.7h0M753.4 808.4h0M286.7 936.2h0M690.7 896.8h0M119.5 920.2h0M221.8 931.7h0M397.9 936.4h0M770.6 857.2h0M614.1 853h0M562.1 899.2h0M798.2 927.9h0M752.1 736.2h0M1017.9 1031.2h0M684.1 902.5h0M402.5 890.9h0M751.7 738.4h0M1008.4 1022.6h0M842.2 924.1h0M754.6 793.3h0M129.2 1011.9h0M1215.3 1031.5h0M702.1 1021.5h0M971.5 1013.3h0M843 938.4h0M1461.5 1016.4h0M1345.7 1015.8h0M501.9 870.3h0M761.2 892.3h0M1299.8 1031.1h0M344.3 1022.7h0M172.4 873.5h0M752.9 798.7h0M448.8 945.5h0M1147.2 1021.7h0M1000.5 1020.4h0M267.4 966.9h0M265 1026.3h0M754.1 919.7h0M905.3 962.4h0M1462.4 913.1h0M484.5 844.8h0M480.8 842.5h0M182.5 913.4h0M478 880.4h0M846.8 708.3h0M641.7 1022.8h0M1286.2 1025.9h0M1275.4 1026.2h0M777.9 827.3h0M242.2 923.9h0M876.9 1015.1h0M322 1021.1h0M636.5 863.4h0M404 896.3h0M791.1 934.6h0M1204.8 1024.3h0M871.6 932.1h0M743.2 651h0M164.4 872.8h0M333.3 1021h0M845.2 765.9h0M1056.3 1031.1h0M1089.2 1031.3h0M736.2 792.7h0M1293.9 1032.1h0M678.7 921.8h0M143 892.1h0M769 874h0M580.4 891.8h0M287.2 928.8h0M1454.9 871.3h0M357.6 942.1h0M992.8 1032h0M1195.1 1023.5h0M474 879.6h0M299.3 885.8h0M815.2 950.3h0M736.1 792.2h0M849.1 804.3h0M905 956.8h0M956.8 1011.9h0M742.9 759h0M637.1 891.2h0M874.8 932.4h0M1442.2 904h0M461.8 939h0M310.9 842.8h0M673.4 921.2h0M733.3 966.4h0M586.8 1021.3h0M266.4 1026.3h0M777.7 847.6h0M696.2 849.2h0M223.8 946.9h0M447 941.7h0M516.8 869.7h0M402.7 920.7h0M783.5 905.8h0M291.6 929.3h0M851.5 901.6h0M280.7 942h0M560.6 1020h0M436.2 926.7h0M1456.9 899.8h0M1291.4 1032h0M310.3 838.6h0M847.1 655.5h0M716.3 858.9h0M463.1 933.8h0M898.9 1017.8h0M1021.2 1031.4h0M846.3 773.6h0M1356.6 1016.9h0M1253.2 1026.8h0M318.4 904.5h0M1380.4 1028.5h0M299.5 897.7h0M452.5 1015.4h0M116.5 997.8h0M1462.2 940.2h0M846.8 778.4h0M1448.1 997.7h0M524.7 872h0M510.4 848.9h0M649.8 874.5h0M846.1 854.9h0M706.1 877.4h0M846.1 755.5h0M911.4 1014.1h0M389.9 952h0M439.4 952h0M744.1 693.7h0M278.6 946.3h0M1087.6 1031.3h0M345.8 920.5h0M491.3 844.7h0M1199.3 1023.4h0M751.1 754.8h0M602.5 1015.5h0M753.4 769.4h0M425.2 908.2h0M1253.3 1032.4h0M275.5 1031.3h0M870 948h0M117 980.2h0M796.1 915.7h0M867.9 952.7h0M846.8 714.6h0M751.6 729.1h0M162.2 1020.9h0M204 930.1h0M270.5 948.6h0M1437.1 1009.4h0M751.4 649h0M1301.7 1031h0M729.7 967.9h0M1007 1022.3h0M745.2 872h0M910.6 1018.6h0M288.4 1025h0M177.2 907.8h0M236.4 963.7h0M632.6 883.4h0M912.1 952.6h0M938.1 991.7h0M1461.9 936.2h0M240.3 1029.5h0M752.3 902.9h0M713.8 877.9h0M361.5 945.1h0M752.9 795.6h0M335.9 897.9h0M786.9 931.8h0M274.2 954.4h0M738.8 1009.6h0M1388.6 1023.4h0M194.5 936.2h0M851.2 781.3h0M189.8 921h0M892.3 938h0M1102.4 1025.2h0M374.7 1024.6h0M551.6 916.5h0M1418.7 1018h0M692.1 884h0M777.2 850.6h0M1132.6 1022.3h0M953.3 1007.7h0M1016.3 1022.7h0M563.6 914.6h0M543.8 898.8h0M623.1 865.4h0M1323.1 1022.5h0M622 867.9h0M1458.3 892.1h0M752.1 745.3h0M471.4 905.9h0M719.4 847.3h0M475.1 1016.6h0M629.4 948.1h0M517.1 1021.2h0M1266.9 1032.2h0M843 936h0M626.7 851.3h0M416.4 1013.5h0M719 842.2h0M690.7 896.2h0M846.9 1013.8h0M846 673.1h0M749.4 922.3h0M680.2 917.5h0M873.8 925h0M707.5 882.4h0M1431.7 1014.4h0M949.3 1001.8h0M755.2 998.1h0M1462.1 957.4h0M874.2 920.9h0M1357.3 1016.4h0M722.7 809.9h0M410.1 868.3h0M1462.2 925.6h0M843.4 917.3h0M567.8 906.5h0M209.2 916.2h0M1134.6 1030.9h0M745.4 901.6h0M938.7 989.1h0M846.4 756.9h0M843.5 904.4h0M846 861.9h0M1326.2 1031.3h0M858.9 936.5h0M1118.2 1024.9h0M753.8 997.3h0M1457.1 996h0M402.8 894h0M1295.8 1026.1h0M384.4 1022.7h0M777.1 868.8h0M1232.8 1026.3h0M847.8 827.9h0M903.1 956.4h0M657 850h0M827.3 941.1h0M344.4 914.9h0M922.2 1022.1h0M796.9 922.4h0M807.9 1027.1h0M478.1 892.2h0M166.2 840.3h0M175.2 882.6h0M357 936.7h0M1234.1 1032.7h0M550.5 904.3h0M1447.4 898.9h0M1437.8 1014.1h0M848.7 813.5h0M1135.3 1022.8h0M200.5 937.3h0M452.4 1016.2h0M846.1 826.5h0M523.5 866.4h0M315.6 885h0M739.3 831.8h0M392.4 1019h0M464.5 817.5h0M792 1022.2h0M501.7 878h0M812.8 934.5h0M750.8 621.7h0M153.1 897.9h0M505.1 840.5h0M726.1 1010.6h0M759.2 868.6h0M614 850.2h0M845.9 891.9h0M342.8 882.3h0M470 905.5h0M724.3 796.1h0M314.5 875.7h0M504.9 825.3h0M150.3 821.1h0M298 908.2h0M547.3 1020.4h0M452.1 949.5h0M134.9 1020.7h0M692.4 880.1h0M737.7 1013.3h0M956.1 1010.5h0M649.4 899.1h0M533.7 914.1h0M393 929.6h0M593 893.9h0M1168.4 1023.6h0M782.3 903.1h0M843.4 1008.4h0M714.5 867.2h0M1358.9 1028.5h0M1424.2 1015.1h0M1462.4 984.3h0M653.7 895.9h0M848.7 1017.3h0M846.2 779.5h0M772.7 803.2h0M1296.7 1032.1h0M840.1 940.4h0M524.6 812.5h0M519.5 874.4h0M1140.1 1031.2h0M839 950.2h0M850.4 809.9h0M435.2 938.6h0M138 896.9h0M1062.9 1023.6h0M894 943.9h0M688.3 1014.6h0M128 1010.7h0M296 921h0M1179.6 1024.1h0M847.2 733h0M153.8 894h0M632 861.1h0M524.5 834h0M437.6 947h0M173.4 857.9h0M1013.2 1031.1h0M520 873.9h0M399.5 926.6h0M269.9 939.2h0M778.1 866.8h0M754.1 817.6h0M204.3 899.9h0M1461.2 993.3h0M1318.2 1031.1h0M1222.1 1025.2h0M536.8 919.9h0M680.4 910.5h0M918.4 960.6h0M402.5 922h0M268.3 962.5h0M751.5 623.8h0M1460.9 1004.7h0M629.8 1014h0M174.4 867.2h0M491.2 839.4h0M840.8 1013.4h0M880.8 1014.1h0M683.7 894.2h0M127.7 921.1h0M775 1017.6h0M650.3 857.7h0M1391.2 990.7h0M553.3 902.7h0M1371.7 1027.6h0M773 807.9h0M846.7 721.9h0M650.8 818.6h0M776.6 855.5h0M1439.5 907.9h0M544.1 904.3h0M117 992.6h0M1352.1 1028.7h0M692.3 887h0M744 685.4h0M1008 1031.4h0M1075.8 1025.8h0M344 898.1h0M847 720.5h0M402.4 893.9h0M274.7 944.4h0M875.7 926.1h0M165.9 838.7h0M531.4 1021.9h0M650 855.7h0M522.9 877.7h0M1307.4 1031.9h0M850.7 876.7h0M812.2 1019.8h0M555.4 908.3h0M193.7 1025.7h0M406.1 872h0M517.4 880.3h0M841.8 938.8h0M413.8 883.4h0M847.9 883.7h0M389.2 951.7h0M1462.2 964.5h0M542.1 904.8h0M875.4 929.9h0M340.5 1023.9h0M626.6 1013.6h0M991.4 1018.1h0M1336.1 1030.3h0M592.8 892.5h0M754.6 794.1h0M897.7 958.5h0M522.8 850.3h0M756.1 905.4h0M323.9 914.9h0M751 707.3h0M137.7 926.2h0M417.5 881h0M1002.2 1032.2h0M439.6 1018.4h0M228.1 1030.4h0M971.1 1013h0M190.1 847.6h0M815.3 941.4h0M300.7 892.7h0M1172.7 1024.3h0M222.9 1029.5h0M1087.5 1026.9h0M160.1 880.3h0M116.7 944.9h0M745.1 973.7h0M125.2 862.4h0M203.9 907.1h0M176 883.5h0M417 889.1h0M330.9 922.6h0M511.7 847.7h0M1163.8 1032h0M432.2 912.9h0M959.4 1029.5h0M870.6 940.7h0M376 983.4h0M754 922.3h0M1303 1031.8h0M650.3 1024.4h0M1458.8 1002.7h0M522.8 870.7h0M217 939h0M859.8 955.2h0M116.8 960.2h0M192.3 1025.6h0M842.5 919.6h0M724.1 789.7h0M589.1 899.4h0M741.1 1001.6h0M472.3 901.3h0M716.3 862.1h0M522.8 883.9h0M509.5 850.7h0M744.2 681.9h0M728 1015.9h0M791.4 1027.5h0M1086.2 1026.8h0M504.4 1011h0M679.4 924h0M786 927.7h0M956.2 1029.7h0M752.7 772.1h0M1167.5 1031.1h0M504.4 850.6h0M336 895.6h0M536.3 925.9h0M622.8 838.5h0M1208.9 1031.2h0M952.2 1026.8h0M876.4 939.4h0M718.5 855.1h0M476 1014.5h0M553.6 883.2h0M182.5 880.7h0M742.7 725.4h0M301.9 1019.4h0M610.7 869.5h0M814.4 930.4h0M563.5 912.1h0M1156.7 1031.2h0M282.2 1028h0M615.1 886.5h0M1318.6 1024.5h0M480.3 865.7h0M311.7 845.2h0M142.4 902.3h0M456.7 1013.6h0M473.9 1014.3h0M211.7 1026.3h0M776.3 792.2h0M344.3 891.8h0M895.1 949.7h0M405.8 853.5h0M1190.5 1031.3h0M430.3 919.8h0M620.6 1011.2h0M437.2 929.3h0M839.3 1020.2h0M297.1 1015.6h0M481.8 851.2h0M602.1 1016.7h0M1462.2 987.3h0M846.3 730.6h0M478.5 1005.8h0M391.7 937.6h0M821.1 1021.2h0M1049.3 1023h0M1115 1032.1h0M224.7 949.8h0M903.3 1015.2h0M1101.7 1031.4h0M845 888.6h0M398.6 930.6h0M1284.8 1031.8h0M846.1 782.7h0M365.8 984h0M751.1 645.3h0M1462.5 939.4h0M1250.4 1031.8h0M753.1 780.8h0M296.4 917h0M750.9 675h0M777.3 840.6h0M869.4 948.6h0M235.2 1029.2h0M754.5 827.6h0M308.9 853.2h0M747.9 916.3h0M144.5 903.9h0M842.4 918.7h0M385.1 961.2h0M426.8 903.2h0M140.9 917.5h0M745.8 864.7h0M174.7 1026h0M646 897.1h0M129.1 1018.4h0M930.4 1026.5h0M463.1 913.2h0M141.2 888.6h0M337.6 904.9h0M150.7 860.9h0M747.2 909h0M1461.8 961.9h0M468 919.2h0M165.8 875.9h0M849.8 816.7h0M1034.9 1031.4h0M509.2 845.1h0M840.3 934h0M134.9 922.3h0M873.2 934.3h0M567.2 1020.9h0M404.2 1009.1h0M929.5 970.6h0M623 811.3h0M751.1 681.4h0M719.9 833.6h0M437.2 943.9h0M464.6 882.6h0M847.8 800.3h0M429.3 918.5h0M309.1 1009.3h0M374.6 986.8h0M403.8 873.8h0M600 896.5h0M480.5 830.7h0M622.6 826.4h0M311.5 821.5h0M377.4 979.8h0M511.3 807.7h0M116.6 1005.3h0M402.5 901.7h0M793 930.9h0M876.8 941h0M147.6 871.9h0M517.2 850.8h0M204.8 1028.8h0M581.3 898.3h0M920.3 946.8h0M182.5 878.6h0M827.2 944.8h0M756.2 860.3h0M588.4 881.9h0M617.5 867.5h0M632.4 866h0M1286.5 1031.8h0M847.3 715.2h0M715.1 864.3h0M150.4 882.2h0M1462.5 971.3h0M908.5 934.9h0M175.9 897h0M1269.3 1032h0M1366.5 1009.8h0M732.6 1011.4h0M979.5 1031.6h0M448.1 936.1h0M1462.3 960.3h0M116.6 1018.5h0M577.8 908.4h0M489.4 810h0M269.4 948.6h0M639.2 896.5h0M628 837.6h0M949.8 1026.8h0M1410.1 957.7h0M1462.2 952.5h0M1395.4 975h0M441.7 1019h0M824.4 905.9h0M918.7 1020.6h0M1413.4 1023.2h0M1245.8 1025.9h0M873.8 905.1h0M512 859.1h0M489.3 826.1h0M736.7 769.6h0M1462.3 927.3h0M134.4 904.5h0M887.2 935.8h0M520.9 1017.2h0M1377.7 1029.2h0M822.1 930.6h0M592.2 886.7h0M282.1 933.5h0M704.5 881.4h0M1446.3 888.2h0M1176.6 1024.5h0M749.3 716.8h0M1085.9 1031.1h0M751.7 721.1h0M574.8 914.7h0M137.6 898.9h0M824.3 919h0M870.9 946.9h0M120.2 907.2h0M891.2 932.9h0M137 902.8h0M645 1026h0M692.8 1016.8h0M1339.1 1017.7h0M622.7 795h0M1460.8 1007.1h0M440.7 952.2h0M579.6 896.5h0M388.5 952.2h0M764.9 890.7h0M873.1 903.2h0M623.1 1013.9h0M484.9 825h0M588 868.1h0M718.8 1009.5h0M850.8 775.6h0M174.8 836.8h0M1426.3 936.5h0M1170 1031.3h0M1114.1 1024.4h0M1436.2 903.6h0M510.6 827.5h0M1420.7 958.5h0M1375.4 1002.3h0M560.6 1023.1h0M979.3 1015.3h0M654.5 1021.4h0M479.4 866h0M734.9 791.6h0M657 901.6h0M298.6 895h0M200.8 927.1h0M939.1 1023.9h0M437.9 947.6h0M614.1 889.3h0M741.8 780.6h0M846.2 816h0M579.3 894h0M875.9 933.2h0M801.2 1026.3h0M751 698.1h0M795.6 1018.2h0M836.1 1022h0M244.7 1028.5h0M736.9 782h0M933.7 1025.6h0M1214 1024.2h0M622.6 809.9h0M575.1 908.7h0M125.3 887h0M299.1 899.1h0M1413.6 1021.3h0M1445.5 1007.2h0M512.9 863.6h0M611.3 877.1h0M1402.5 1023.7h0M546.4 917.1h0M125 827.1h0M752.3 1006.9h0M729.6 759.2h0M655.6 1020.6h0M156.4 1022.3h0M594.4 1016.5h0M209.6 1028.9h0M633.5 1015.3h0M651.1 850.7h0M723.6 793.8h0M739.8 988.7h0M536.7 922.4h0M1110.2 1031.8h0M536.4 908.4h0M1155.8 1032h0M939 986.2h0M1095.9 1023.3h0M134 910.5h0M1369.7 1006.4h0M850.6 823.7h0M297.1 912.1h0M589.2 905.7h0M290.3 1024.5h0M527.4 898.8h0M937.3 976.4h0M744.8 834.7h0M776.8 815h0M850.5 847.9h0M631.5 851.3h0M163.7 853.5h0M1462 995.5h0M645.6 901.8h0M846.6 705.1h0M967.7 1031h0M1198.4 1031.7h0M1083.4 1031.1h0M511.3 851.1h0M657.7 888.9h0M845.2 872.2h0M900 1018.2h0M743.4 680.3h0M777.7 837.9h0M151.9 1023.7h0M413.5 799.7h0M1392.6 1022h0M976.3 1031h0M846.1 788.6h0M347.7 905.4h0M296 919.7h0M191.3 861.8h0M672.8 914h0M751.3 626.2h0M523.2 847.9h0M706.8 868.3h0M552.3 892h0M873.2 896.9h0M756.5 947.6h0M532.1 926h0M843.2 913h0M744.1 626h0M1461.8 999.2h0M431.3 1017.3h0M1160.2 1023.9h0M691.7 893.6h0M531.2 906.1h0M734.9 784.1h0M777.4 843.5h0M308.6 847h0M1045.4 1031.8h0M742.9 869.4h0M891.6 925.5h0M487 843.6h0M1229.9 1031.8h0M478.3 873.5h0M994.1 1018.9h0M558.9 894.9h0M312.1 837.6h0M733 902.8h0M169.4 873.2h0M175.2 868.3h0M210 926h0M933.4 974.7h0M523.2 872.7h0M741.7 864h0M846.4 794.8h0M1462.4 916.3h0M617.2 866.3h0M929.2 968.7h0M1228.1 1032.3h0M240.5 1030.3h0M751.1 696.4h0M1189.3 1024.2h0M769.5 871.9h0M504 835.5h0M406.2 850.8h0M181 914.6h0M355.8 933h0M1461.4 1009.8h0M1289 1031.7h0M657.6 890.9h0M721.3 812.2h0M390.6 943.8h0M520.8 1021.4h0M814 915.1h0M736.8 833.5h0M716.5 819.1h0M392.4 940.4h0M301.9 1014.9h0M637.4 1018.8h0M525.4 889.1h0M824.7 917.8h0M1020.9 1023.2h0M605.4 918.2h0M416.5 901.3h0M614 832.1h0M432.2 929.5h0M825.8 937h0M504.1 838.9h0M430.4 915h0M778.4 1016.3h0M415.6 893.8h0M851.7 914.8h0M1388.9 995.3h0M600.2 879h0M846.3 721.5h0M622.6 768.3h0M851.2 871.2h0M852.2 894.6h0M754.5 804.1h0M513.5 844h0M939 992.9h0M1392.3 981.6h0M619.4 840.2h0M1445.9 887.1h0M139.3 920.3h0M1435 1017.7h0M163.7 880.7h0M895.9 951.3h0M1412.8 953.3h0M692.3 881.7h0M343.6 898.3h0M751.1 715.4h0M723.2 808h0M815.1 946.7h0M344 892.7h0M846.7 792.9h0M712.4 869.9h0M1408.5 958.3h0M240.3 1031.7h0M752 704.5h0M743.1 686.7h0M354.9 907.6h0M1042.7 1022.6h0M746 909.5h0M748.8 912.3h0M728.3 881.8h0M785.9 921.5h0M176.3 871.1h0M418.7 910.2h0M225.5 950.5h0M721.9 781.6h0M312.1 865h0M559 892h0M283.9 930.2h0M741.1 831.2h0M406.4 860h0M1125.8 1031.3h0M261.8 1027.6h0M388.9 949.8h0M752.9 931.1h0M1286.7 1025h0M1137.1 1022.9h0M477.3 893.5h0M165.4 872.6h0M752.2 953.9h0M446.2 942.7h0M1462.5 963.7h0M517.5 866.2h0M354.9 930.1h0M840.7 924.5h0M151.1 852.4h0M846.4 680.7h0M741.2 971.1h0M542.3 911.3h0M1453.4 897.4h0M520.4 1017.5h0M868.4 950.2h0M750.5 622.7h0M717.7 854.9h0M1334.7 1017.4h0M754.1 952.6h0M159.7 898.7h0M150.3 854.2h0M758.8 1016.4h0M824.7 913.9h0M165.8 845.3h0M402.7 868.5h0M310 825.4h0M1111.9 1024.7h0M850.1 840h0M523.9 885.9h0M417.9 891.6h0M494.5 869.8h0M250 974.1h0M1461.2 1007.4h0M125.3 853.7h0M1169.3 1020.4h0M190 863.7h0M703.1 1022h0M1439.6 1007.3h0M147.6 855h0M1438.3 1011.6h0M1324.5 1031.7h0M266.8 964.5h0M355.5 923h0M141.4 915.6h0M614 872.2h0M515.8 1015.8h0M742.1 769.7h0M517.1 878.5h0M528.5 900.5h0M420.6 1015.4h0M1440 918.8h0M353 916h0M116.8 951.8h0M590.8 877.2h0M140.8 875.1h0M772.6 789h0M722.3 786.9h0M251.3 1028.5h0M496.2 1008.6h0M597.3 1016.2h0M842.5 916.4h0M896.9 954h0M894.1 939.6h0M585.8 877.3h0M143.1 907.5h0M737.2 984.9h0M297 1016.2h0M1412.7 932.6h0M264.4 1026.7h0M579.8 875.1h0M671.8 915.1h0M853.7 1021.2h0M1004.9 1021.4h0M490 832.1h0M413.1 803.1h0M827.5 943.7h0M242.5 944.7h0M887.7 935.3h0M234.1 1028.9h0M846.7 694.9h0M618.2 846h0M773.4 793.2h0M551.4 914.2h0M653.4 891.6h0M1061.9 1031.6h0M785.8 908.2h0M413.2 790.2h0M644.3 882.5h0M867.5 955.1h0M769.6 1025h0M181.4 916.6h0M183 881.3h0M854.4 931.5h0M333.8 904.3h0M754.2 1003.7h0M884.5 949.1h0M1272.4 1025.9h0M1117.1 1032.2h0M189.8 1026.2h0M1003.5 1020.7h0M718.1 1014.4h0M873.7 895.4h0M593.3 893.1h0M671.8 906.8h0M1126.6 1022.3h0M337.5 1022.2h0M850.1 836.7h0M724.9 804.4h0M116.9 939.8h0M549 1020.1h0M1217 1025.3h0M859.4 947.8h0M187.5 1027h0M751.2 733.7h0M882 1014.3h0M669.6 1018.6h0M743.3 717h0M347.4 922.5h0M337.1 890.6h0M969.5 1030.1h0M844.2 901.3h0M586.2 1021.9h0M478 887.4h0M405.4 848.2h0M873.7 927.5h0M235.1 1030h0M590.1 871.7h0M117.3 977.3h0M1192.2 1031.4h0M1090.6 1031.1h0M559.4 1018.9h0M133.1 1020.5h0M624.1 848.4h0M1445.1 898.4h0M182.4 847.6h0M845 890h0M847.8 717.1h0M1360.8 1027.7h0M543.2 910.6h0M1440.4 1007.5h0M578.9 886.2h0M144.7 1024.6h0M553.6 903.7h0M161.4 858.3h0M622.6 856.9h0M304.5 841.8h0M852.1 890.8h0M865.6 949.7h0M782.6 889.9h0M541.2 913.1h0M438.8 948.8h0M282.7 919.1h0M1440.5 922.3h0M1462.3 945.1h0M1395.2 979.4h0M778.3 868.2h0M983.2 1030.9h0M737.1 835.3h0M846.1 790.3h0M190.4 870.6h0M623.2 816.2h0M684.8 899.9h0M650.1 865.8h0M743.9 678.2h0M124.9 873.7h0M1425.2 944.1h0M1456.6 885.5h0M1243.1 1026.8h0M770.1 877.4h0M1457.1 896.4h0M847.7 1017.9h0M530 910.2h0M921.2 961.9h0M542.9 911.8h0M1454 899.6h0M511.5 838.8h0M417.6 903.4h0M1153.8 1031.6h0M1341.2 1031.9h0M283.2 927.8h0M1409.8 960.6h0M419.9 917.1h0M754.5 808.2h0M717.4 1017.1h0M401.1 913.3h0M1302.7 1032.1h0M203.9 901.8h0M590.4 881h0M918 955.2h0M845.6 743.9h0M468.5 912.9h0M523.4 854.2h0M134.9 908.3h0M543 914.1h0M755.9 1001.4h0M656.6 866.1h0M852.1 912.8h0M1436.9 891.3h0M503.7 1011.3h0M164.7 833.7h0M852.4 902.2h0M1204.3 1031.1h0M1404.4 970.2h0M685.6 881.5h0M707.9 884.9h0M454.6 1014.6h0M152.8 1026.2h0M195 936h0M850.7 825.6h0M849.7 832.6h0M943.4 1024.2h0M310.8 832.4h0M232.2 951.5h0M334.7 881.3h0M920.7 960.9h0M732 1011.2h0M524.5 879.3h0M846.1 808.1h0M772.9 830.9h0M174.6 836.6h0M821.8 942.5h0M310.4 840.5h0M475.9 1015.9h0M792.2 932.5h0M846.6 685.2h0M692.2 889.3h0M636.9 873.6h0M751.2 597.5h0M609.7 904.1h0M751.1 717.4h0M847 696h0M188 1027.2h0M116.8 928.3h0M1415.9 946.7h0M149.9 829.3h0M845.1 870.9h0M174.3 841.9h0M1111.8 1024.4h0M430.9 1019h0M235.3 962.9h0M356.9 933.7h0M1054.7 1031.1h0M289.5 912.8h0M402.1 882.1h0M766.3 850.5h0M722.4 1018.8h0M563.9 901h0M1177.3 1032h0M559.2 898.1h0M1314.9 1025.1h0M1462 1005.6h0M858.9 936.7h0M257.4 1028.4h0M668.1 915.3h0M1040.2 1031.6h0M987.4 1030.8h0M771.4 847h0M1410.5 962.2h0M1085 1026.6h0M555.3 1017.6h0M809.5 924.1h0M743.2 701.4h0M1462.3 1007.6h0M1441.1 913.8h0M511.2 854.4h0M278.4 949.4h0M222.6 939.9h0M481.5 848.5h0M203.6 901.4h0M1434.2 924.9h0M200.3 936.8h0M1440.6 912.8h0M793.6 913.8h0M1176.8 1032.5h0M650.2 808.8h0M752.6 783.2h0M1457.9 900.4h0M753 997.8h0M755.5 858.1h0M1333.6 1031.3h0M697.1 1013h0M751.8 729.9h0M846.8 678.1h0M972.6 1030.2h0M335.5 901.3h0M527.6 1018.3h0M751.5 631.4h0M259.4 966.8h0M574.3 907.1h0M885.2 943.3h0M1416.9 957.2h0M654.3 1022h0M861.4 1025.3h0M150.9 878.4h0M757.2 862.5h0M190.3 902.4h0M813.3 934.6h0M748 778.2h0M165.1 817.5h0M746.8 999.2h0M194.1 929.9h0M1403 963.6h0M751.9 785.1h0M580 899.1h0M699 867.1h0M801.9 930.2h0M717.2 851.8h0M150.6 857.7h0M124.9 880.3h0M758.1 1015h0M311.3 1012.3h0M487.3 846.8h0" stroke="#1f77b4" stroke-width="5.5" stroke-linecap="round" fill="none"/>
<polyline points="116.5,991.5 117,989.5 117.5,987.4 118,985.8 118.5,984 119,982.1 119.5,980.3 120,979.1 120.5,976 121,973.2 121.5,970.8 122,968.2 122.5,965.2 123,961.7 123.5,957.6 124,952.6 124.5,949.5 125,949.4 125.5,949.6 126,950.3 126.5,951.6 127,954.3 127.5,958.1 128,961.8 128.5,964.6 129,966.5 129.5,968.2 130,970.1 130.5,972.4 131,974.6 131.5,976.4 132,977.8 132.5,978.7 133,979.4 133.5,980.2 134,981.2 134.5,982.2 135,983.5 135.5,985.2 136,987 136.5,988.6 137,990 137.5,991 138,988.6 138.5,985.9 139,983.2 139.5,980.5 140,977.8 140.5,975.1 141,972 141.5,970.7 142,972.2 142.5,974.3 143,976.7 143.5,979 144,981.1 144.5,982.8 145,984.3 145.5,980.4 146,976.2 146.5,972 147,967.8 147.5,963.3 148,958.3 148.5,953.4 149,946.2 149.5,935.6 150,924.5 150.5,912.6 151,912.4 151.5,929 152,946.5 152.5,964.2 153,981.5 153.5,986.1 154,989.5 154.5,993 155,996.5 155.5,1000.1 156,1003.5 156.5,1002.5 157,995.3 157.5,988.3 158,981.2 158.5,974.1 159,970.3 159.5,971.5 160,972.6 160.5,973.4 161,973.5 161.5,970.1 162,962 162.5,954.5 163,947.6 163.5,941 164,934.9 164.5,929.5 165,924.7 165.5,934.3 166,944.3 166.5,952.5 167,960.1 167.5,968.9 168,978.8 168.5,983.8 169,981.2 169.5,978.6 170,976.1 170.5,973.3 171,970.4 171.5,965.8 172,958.6 172.5,950.9 173,943.2 173.5,935.9 174,928.6 174.5,927.1 175,935.5 175.5,944.4 176,954 176.5,963.2 177,972.1 177.5,981 178,981.5 178.5,980.3 179,978.4 179.5,976 180,973.7 180.5,972.1 181,971.3 181.5,972.4 182,975.7 182.5,978.1 183,980.5 183.5,983.4 184,987 184.5,990.7 185,994.1 185.5,997.4 186,1000.4 186.5,999.7 187,992.7 187.5,985.6 188,978.9 188.5,973.1 189,968 189.5,963.3 190,966.4 190.5,970.7 191,974.4 191.5,976.8 192,977.9 192.5,978.9 193,980.5 193.5,983.1 194,986 194.5,989 195,991.9 195.5,995 196,998.2 196.5,999.1 197,995.8 197.5,992.2 198,988.3 198.5,984.4 199,981.1 199.5,978.2 200,975.2 200.5,971.9 201,972.7 201.5,974.6 202,976.8 202.5,978.9 203,980.5 203.5,981.6 204,982.5 204.5,983.4 205,984.5 205.5,986 206,988.1 206.5,990.2 207,991.9 207.5,993.1 208,991.1 208.5,988.5 209,985.9 209.5,983.4 210,981 210.5,978.4 211,975.3 211.5,972 212,971.4 212.5,976.4 213,981.7 213.5,986.7 214,991.4 214.5,996.2 215,1001.1 215.5,1001.1 216,1000 216.5,998.6 217,996.6 217.5,994.3 218,992 218.5,990 219,988.3 219.5,986.8 220,985.6 220.5,984.7 221,984 221.5,984.2 222,986 222.5,987.6 223,989.2 223.5,990.9 224,992.6 224.5,994.4 225,996.4 225.5,998.4 226,1000.3 226.5,1001.9 227,1003.3 227.5,1004.8 228,1006.6 228.5,1008.5 229,1009.4 229.5,1008.1 230,1007 230.5,1005.9 231,1004.7 231.5,1003.4 232,1002.1 232.5,1000.8 233,1000.4 233.5,1000.3 234,1000.2 234.5,1000.2 235,1000.3 235.5,1000.4 236,1000.4 236.5,1000.1 237,999.5 237.5,998.9 238,998.4 238.5,997.8 239,997.4 239.5,997.5 240,997.6 240.5,997.7 241,997.7 241.5,996.8 242,993.6 242.5,990.2 243,991.6 243.5,994.5 244,997.8 244.5,1001.1 245,1004.5 245.5,1004.8 246,1004.4 246.5,1004.1 247,1003.5 247.5,1002.6 248,1001.5 248.5,1000.2 249,1000.2 249.5,1003.6 250,1007 250.5,1010.4 251,1013.8 251.5,1016.2 252,1015.9 252.5,1015.5 253,1015 253.5,1014.3 254,1013.3 254.5,1012.2 255,1011.3 255.5,1010.5 256,1010 256.5,1009.5 257,1009.2 257.5,1009 258,1008.7 258.5,1008.4 259,1007.8 259.5,1006.9 260,1005.9 260.5,1005.4 261,1005.3 261.5,1005.3 262,1005.6 262.5,1006.1 263,1006.9 263.5,1007.8 264,1008.5 264.5,1008.6 265,1007.7 265.5,1006.6 266,1006 266.5,1004.8 267,999.8 267.5,995.2 268,990.5 268.5,985.7 269,980.5 269.5,974.8 270,975.4 270.5,978.4 271,982 271.5,986 272,989.6 272.5,992.8 273,993.1 273.5,992.6 274,992.4 274.5,992.3 275,992.3 275.5,992.4 276,992.6 276.5,993.7 277,997.2 277.5,1000.5 278,1003.8 278.5,1007.3 279,1009 279.5,1004.6 280,1000 280.5,995.4 281,990.6 281.5,985.6 282,980.7 282.5,982.8 283,987.8 283.5,993.1 284,998.3 284.5,1003 285,1007.1 285.5,1009.2 286,1010.7 286.5,1012.4 287,1014.1 287.5,1015.7 288,1017.2 288.5,1018.9 289,1018.9 289.5,1012.6 290,1006.1 290.5,999 291,991.6 291.5,985.7 292,985.1 292.5,985.1 293,985.7 293.5,986.4 294,986.7 294.5,986.2 295,985.3 295.5,983.3 296,981.1 296.5,979 297,976.6 297.5,974.2 298,972.2 298.5,970.5 299,968.6 299.5,966.3 300,963.6 300.5,962.1 301,961.4 301.5,960.9 302,960.2 302.5,958.9 303,957.6 303.5,956.6 304,954.8 304.5,947.8 305,941 305.5,934.5 306,928.2 306.5,922.1 307,916.5 307.5,911.2 308,912.9 308.5,916.5 309,919.1 309.5,921.4 310,924.5 310.5,928.4 311,932.5 311.5,935.5 312,935.7 312.5,936.5 313,937.6 313.5,938.9 314,940.4 314.5,942.3 315,943.8 315.5,947.5 316,951.9 316.5,955.8 317,959.4 317.5,962.9 318,964.4 318.5,964.9 319,965.7 319.5,966.6 320,967.7 320.5,968.7 321,969.6 321.5,970.5 322,971.8 322.5,973.4 323,972.6 323.5,970.7 324,968.9 324.5,966.9 325,964.4 325.5,966.8 326,971.8 326.5,977.3 327,983.3 327.5,989.6 328,991.6 328.5,990.9 329,989.5 329.5,987.7 330,986.1 330.5,984.9 331,984 331.5,982.6 332,978.2 332.5,973.5 333,968.5 333.5,963.6 334,959.1 334.5,954.8 335,955.7 335.5,959.1 336,962.5 336.5,966.3 337,970.8 337.5,975.4 338,976.9 338.5,976.4 339,975.8 339.5,975.1 340,974.2 340.5,973 341,972 341.5,971.1 342,970.5 342.5,969.8 343,969.3 343.5,969.6 344,970.3 344.5,970.8 345,971.1 345.5,971.3 346,971.2 346.5,971.7 347,980.1 347.5,988.8 348,990.9 348.5,989 349,987.1 349.5,984.6 350,981.8 350.5,979.2 351,977.1 351.5,975.4 352,973.2 352.5,970.6 353,969.4 353.5,969.5 354,970.2 354.5,971 355,971.6 355.5,974.3 356,978.6 356.5,983 357,987.3 357.5,991.1 358,991.7 358.5,990.6 359,989.8 359.5,989.5 360,989.7 360.5,990.3 361,990.5 361.5,990.2 362,992.7 362.5,995.4 363,998.5 363.5,1001.9 364,1005.2 364.5,1008.5 365,1011.8 365.5,1013.3 366,1013.7 366.5,1014 367,1014.1 367.5,1014.2 368,1014.5 368.5,1015 369,1015.6 369.5,1015.2 370,1014.9 370.5,1014.5 371,1014.2 371.5,1013.9 372,1013.4 372.5,1012.7 373,1011.7 373.5,1010.8 374,1010 374.5,1009.4 375,1009.1 375.5,1008.7 376,1008 376.5,1007.2 377,1006.4 377.5,1005.6 378,1004.7 378.5,1003.6 379,1002.4 379.5,1001.3 380,1000.7 380.5,1000.3 381,1000 381.5,999.7 382,999.1 382.5,998.6 383,998.3 383.5,998.1 384,997.6 384.5,996.8 385,995.7 385.5,994.5 386,993.5 386.5,992.8 387,992.5 387.5,992 388,991.1 388.5,990.2 389,989.5 389.5,989.1 390,989.3 390.5,989.6 391,989.4 391.5,988.8 392,988.2 392.5,987.7 393,986.9 393.5,985.7 394,984.5 394.5,983.3 395,982.2 395.5,981.4 396,981.2 396.5,981.2 397,980.6 397.5,979.2 398,976.1 398.5,972.2 399,968.5 399.5,965.2 400,962 400.5,961.5 401,962.6 401.5,963.3 402,963.9 402.5,964.8 403,965.8 403.5,966.9 404,967.7 404.5,963.8 405,959.3 405.5,954.5 406,950.3 406.5,947.3 407,944.5 407.5,941 408,942.9 408.5,949.5 409,955.7 409.5,961.8 410,954.5 410.5,947.9 411,940.8 411.5,932.4 412,930.3 412.5,928.4 413,927.7 413.5,928.1 414,929.2 414.5,941.3 415,953.3 415.5,964.8 416,976 416.5,986.9 417,985.9 417.5,985.3 418,984.9 418.5,984.3 419,983.1 419.5,981 420,978.7 420.5,977.1 421,976.2 421.5,975.6 422,975.4 422.5,975 423,974.3 423.5,973.2 424,972.2 424.5,971.6 425,971 425.5,969.9 426,968 426.5,965.8 427,963.7 427.5,962.2 428,961.6 428.5,961.2 429,960.8 429.5,963.3 430,964.8 430.5,965.7 431,966.9 431.5,969 432,971.4 432.5,973.6 433,975.2 433.5,976.5 434,977.8 434.5,979 435,981 435.5,983.6 436,986.3 436.5,988.7 437,990.5 437.5,991.6 438,992.2 438.5,992.6 439,993.2 439.5,992.6 440,992.2 440.5,991.9 441,991.4 441.5,990.8 442,990.2 442.5,990.1 443,990.7 443.5,991.6 444,992.5 444.5,992.8 445,992.4 445.5,991.6 446,990.9 446.5,990.3 447,986.9 447.5,983.5 448,980.4 448.5,980.8 449,985.3 449.5,989.9 450,994.3 450.5,996.5 451,996.2 451.5,995.4 452,994.9 452.5,995 453,995.8 453.5,996.8 454,997.1 454.5,993.2 455,989.1 455.5,985.4 456,982.4 456.5,979.6 457,978.8 457.5,977.4 458,975.6 458.5,974 459,972.9 459.5,971.9 460,971 460.5,969.9 461,968.8 461.5,968 462,967.6 462.5,967.4 463,967.3 463.5,967.1 464,968 464.5,970 465,971.8 465.5,973.2 466,974.1 466.5,974.9 467,975.9 467.5,977.5 468,979.7 468.5,982.1 469,984.2 469.5,985.4 470,986 470.5,984 471,982.5 471.5,981.6 472,981 472.5,980.1 473,979.4 473.5,979.2 474,979.1 474.5,978.5 475,977.5 475.5,972.6 476,967.2 476.5,961.2 477,954.7 477.5,948.7 478,943.6 478.5,939.2 479,934.9 479.5,930.5 480,935.6 480.5,941 481,946.3 481.5,951.2 482,955.9 482.5,960.5 483,955.1 483.5,949.3 484,943.9 484.5,939.1 485,935 485.5,931.2 486,927 486.5,923.3 487,920.8 487.5,918.1 488,916.4 488.5,915.8 489,915.4 489.5,914.6 490,913.4 490.5,912.3 491,911.9 491.5,915.3 492,922.8 492.5,929.8 493,936.4 493.5,943 494,947.5 494.5,949.3 495,950.9 495.5,952.2 496,953.4 496.5,954.4 497,955 497.5,955.3 498,956 498.5,957.3 499,958.6 499.5,959.7 500,961.1 500.5,953.9 501,947.7 501.5,942.2 502,935.7 502.5,927.4 503,918.5 503.5,920.5 504,923.6 504.5,926 505,928 505.5,930.3 506,933.1 506.5,936.3 507,939.7 507.5,943.2 508,937.9 508.5,931.5 509,925.3 509.5,919.8 510,915 510.5,910.4 511,910.6 511.5,917.9 512,925.3 512.5,932 513,937.3 513.5,941.9 514,946.8 514.5,952.2 515,958.4 515.5,961.2 516,964 516.5,966.9 517,969.5 517.5,971.2 518,972.3 518.5,973.5 519,975.4 519.5,978.1 520,981 520.5,976.6 521,970.8 521.5,964.5 522,958.4 522.5,952.6 523,947.1 523.5,941.3 524,938 524.5,939.3 525,940.8 525.5,942.9 526,945.4 526.5,947.9 527,950.4 527.5,953.1 528,955.7 528.5,958.1 529,960.8 529.5,963.7 530,966.8 530.5,969.7 531,972.3 531.5,974.4 532,976.5 532.5,979 533,981.5 533.5,983.8 534,985.8 534.5,987.7 535,989.8 535.5,991.9 536,991.9 536.5,988.1 537,984.2 537.5,980.2 538,976.3 538.5,971.9 539,967.4 539.5,963.6 540,960.7 540.5,958.1 541,955 541.5,951.7 542,948.5 542.5,953.9 543,960.4 543.5,966.6 544,973.1 544.5,979.8 545,986.4 545.5,986.1 546,984.8 546.5,983.7 547,983 547.5,982.7 548,982.4 548.5,981.9 549,980.8 549.5,979.6 550,978.6 550.5,974.2 551,969.1 551.5,964 552,958.7 552.5,952.9 553,946.7 553.5,944.5 554,950.2 554.5,956.8 555,963.3 555.5,968.9 556,973.7 556.5,976.2 557,975.1 557.5,974.4 558,974 558.5,973.6 559,973 559.5,971.9 560,970.6 560.5,969.3 561,968.1 561.5,966.9 562,965.4 562.5,963.8 563,964.8 563.5,966.7 564,968.8 564.5,970.6 565,971.8 565.5,973 566,974.6 566.5,977 567,980 567.5,983 568,983.1 568.5,982.3 569,981.4 569.5,980.4 570,979.1 570.5,977.5 571,976.1 571.5,974.6 572,973.2 572.5,971.8 573,970.4 573.5,968.9 574,967.8 574.5,967.6 575,968.4 575.5,970.7 576,972.2 576.5,972.8 577,973.5 577.5,974.4 578,975.4 578.5,976.1 579,976.5 579.5,976.6 580,976.8 580.5,977.5 581,978.8 581.5,980.4 582,981.8 582.5,982.7 583,981.6 583.5,979.9 584,978 584.5,975.9 585,974.1 585.5,973 586,972.3 586.5,971.1 587,969.4 587.5,967.6 588,966.1 588.5,965.1 589,964.1 589.5,963.2 590,962.6 590.5,962.1 591,961 591.5,959.1 592,956.7 592.5,954.7 593,952.7 593.5,950.9 594,950.4 594.5,952.5 595,954 595.5,955.3 596,957.1 596.5,959.8 597,963 597.5,966.5 598,965.4 598.5,962.7 599,959.3 599.5,955.3 600,951.7 600.5,954.5 601,958.8 601.5,962.4 602,965.8 602.5,969.9 603,974.8 603.5,979.8 604,983.4 604.5,983.4 605,983.2 605.5,982.5 606,981.3 606.5,979.7 607,978 607.5,976.6 608,972.4 608.5,967.2 609,961.8 609.5,956.1 610,950.5 610.5,945.2 611,940.1 611.5,936.8 612,938.8 612.5,940.8 613,942.8 613.5,945.1 614,947.9 614.5,951.5 615,955.3 615.5,953.6 616,949.3 616.5,944 617,938.7 617.5,934 618,930.1 618.5,934.3 619,939.9 619.5,944.2 620,948.4 620.5,954.2 621,950.1 621.5,943.1 622,936.2 622.5,929.1 623,921.6 623.5,913.4 624,908.3 624.5,913.6 625,919.4 625.5,924.9 626,929.9 626.5,934.3 627,938.3 627.5,942.5 628,943.3 628.5,943.1 629,942.9 629.5,942.8 630,942.8 630.5,942.5 631,942.4 631.5,945 632,954.9 632.5,963.6 633,970.8 633.5,977.4 634,981.7 634.5,977.3 635,973.6 635.5,970.5 636,968.1 636.5,965.9 637,963.5 637.5,960.3 638,959.3 638.5,959.2 639,960 639.5,962 640,964.1 640.5,965.7 641,966.8 641.5,968.2 642,970.5 642.5,973.2 643,976.7 643.5,979.4 644,981.3 644.5,983.1 645,985.6 645.5,988.6 646,990.1 646.5,984.9 647,979.8 647.5,974.9 648,970.4 648.5,966 649,961.4 649.5,956.3 650,951.2 650.5,950.8 651,952.2 651.5,953.1 652,953.7 652.5,954.5 653,955.6 653.5,956.5 654,956.9 654.5,955.9 655,955.4 655.5,955.1 656,954.7 656.5,954.8 657,958.4 657.5,962.2 658,966 658.5,969.3 659,972 659.5,974.4 660,976.8 660.5,976.1 661,974.1 661.5,972.3 662,970.8 662.5,969.5 663,967.9 663.5,965.9 664,964 664.5,964.1 665,964.7 665.5,965.8 666,967.2 666.5,968.4 667,969.3 667.5,970.3 668,971.2 668.5,971.8 669,972.1 669.5,971.7 670,970.6 670.5,970.4 671,971.4 671.5,973.1 672,975.2 672.5,977.6 673,980.4 673.5,983.3 674,986.1 674.5,988.6 675,990.8 675.5,990 676,987.8 676.5,985.6 677,983.4 677.5,981.5 678,979.8 678.5,977.7 679,975 679.5,971.9 680,969 680.5,966.9 681,965.4 681.5,964.1 682,963.1 682.5,962.3 683,961.6 683.5,960.4 684,958.9 684.5,957.3 685,956.3 685.5,955.9 686,955.7 686.5,954.8 687,953.3 687.5,951.1 688,948.7 688.5,946.6 689,945.8 689.5,946.2 690,946.7 690.5,946.4 691,945.2 691.5,944.1 692,946.2 692.5,949 693,952.6 693.5,956.4 694,959.8 694.5,963.2 695,966.3 695.5,969.4 696,972.6 696.5,974.9 697,971.3 697.5,966.5 698,960.9 698.5,955.5 699,951.4 699.5,948.2 700,951.2 700.5,957.7 701,964.1 701.5,971 702,978.3 702.5,985.4 703,986.3 703.5,983.2 704,979.6 704.5,975.8 705,972.3 705.5,969.3 706,966.3 706.5,962.8 707,959 707.5,955.7 708,958.1 708.5,963.5 709,968.5 709.5,973.7 710,979.5 710.5,971.9 711,955.2 711.5,939.9 712,938.5 712.5,937.1 713,934.8 713.5,932.2 714,930.1 714.5,928.8 715,927.9 715.5,926.8 716,925.6 716.5,924.3 717,922.9 717.5,921.1 718,924.4 718.5,931.1 719,937.9 719.5,945 720,952.3 720.5,946.7 721,932.6 721.5,919.1 722,906.4 722.5,894.3 723,897 723.5,909.6 724,922.2 724.5,934.7 725,946.6 725.5,943.4 726,929.7 726.5,916.1 727,902.7 727.5,889.3 728,886.2 728.5,890.6 729,894.8 729.5,898.4 730,901.9 730.5,905.9 731,910.6 731.5,915.5 732,919.3 732.5,923 733,926.1 733.5,928.2 734,928.5 734.5,915.9 735,904.1 735.5,893.3 736,883.3 736.5,874.8 737,881.9 737.5,888.9 738,895.9 738.5,902.4 739,908.4 739.5,913.9 740,919.5 740.5,906.7 741,880 741.5,854 742,828.5 742.5,802.9 743,801 743.5,817.4 744,833.3 744.5,849.6 745,866.9 745.5,882.8 746,896.9 746.5,909.9 747,921.6 747.5,933.2 748,927.9 748.5,909.4 749,891 749.5,871.8 750,852.3 750.5,839.1 751,830.3 751.5,820.8 752,811.7 752.5,803.4 753,811.5 753.5,832.6 754,853.5 754.5,875.1 755,897.8 755.5,921.3 756,944.8 756.5,966.3 757,961.9 757.5,957.2 758,952.7 758.5,948.6 759,944.6 759.5,940.4 760,935.8 760.5,939.3 761,950.1 761.5,961.1 762,972 762.5,982.5 763,992.7 763.5,994.1 764,987.7 764.5,982 765,976.9 765.5,971.8 766,966.8 766.5,962.1 767,960 767.5,956.8 768,952.5 768.5,948.2 769,944.6 769.5,941.9 770,940.4 770.5,938.3 771,934.6 771.5,929.7 772,923.5 772.5,916.4 773,917.4 773.5,926.5 774,936.9 774.5,948.7 775,930 775.5,911 776,890.5 776.5,868.8 777,882 777.5,895.7 778,910.9 778.5,926.9 779,942.8 779.5,941.4 780,939.3 780.5,936.8 781,934.3 781.5,932.3 782,938.6 782.5,945.2 783,951.7 783.5,957.7 784,963.2 784.5,968.9 785,975.5 785.5,982.4 786,988.6 786.5,993.9 787,988.4 787.5,983.3 788,979.3 788.5,975.8 789,971.7 789.5,966.9 790,962.1 790.5,956.6 791,949.7 791.5,942.5 792,935.5 792.5,928.9 793,923 793.5,918 794,913.5 794.5,918 795,922.2 795.5,925.2 796,926.9 796.5,928.4 797,940.4 797.5,953 798,966.6 798.5,980.7 799,994.7 799.5,987.6 800,980.1 800.5,972.9 801,965.8 801.5,958.5 802,964.9 802.5,971.7 803,978.3 803.5,984.7 804,991.3 804.5,984 805,976.7 805.5,970 806,963.6 806.5,957.1 807,954.1 807.5,950.7 808,946.8 808.5,942.5 809,938.3 809.5,934.3 810,930.2 810.5,926.3 811,933.3 811.5,940.7 812,947.8 812.5,954.7 813,961.4 813.5,968.3 814,976.2 814.5,985.4 815,994.6 815.5,1003.9 816,1013.1 816.5,1014.9 817,1008.5 817.5,1001.9 818,995.5 818.5,989.5 819,983.9 819.5,977.9 820,971.2 820.5,967.5 821,964.3 821.5,961.2 822,958.5 822.5,956.4 823,954.6 823.5,952.7 824,950.2 824.5,947 825,953.4 825.5,959.6 826,966 826.5,968.8 827,967.3 827.5,967.1 828,967.7 828.5,968.4 829,971.7 829.5,978.2 830,984.3 830.5,990.6 831,997.2 831.5,1004.2 832,1011.4 832.5,1018.8 833,1010.6 833.5,1002.1 834,993.7 834.5,985 835,975.7 835.5,983.3 836,991.8 836.5,1001.1 837,1011.1 837.5,1021.7 838,1018 838.5,1013.5 839,1009.2 839.5,1004.8 840,1000.2 840.5,990.6 841,980.6 841.5,970.9 842,961.7 842.5,953 843,962.3 843.5,972.3 844,982.2 844.5,992.3 845,957.5 845.5,919.4 846,881.3 846.5,843.1 847,804.4 847.5,822.2 848,843.3 848.5,863.9 849,885 849.5,910.5 850,937.5 850.5,965.3 851,992.6 851.5,1005.9 852,1001 852.5,996 853,990.5 853.5,984.6 854,978.9 854.5,977.2 855,980.7 855.5,984 856,987.2 856.5,990.1 857,992.6 857.5,994.7 858,996.2 858.5,998 859,1000.4 859.5,1003 860,1005.6 860.5,1004.2 861,1002.2 861.5,1000.3 862,998.5 862.5,996.8 863,996.6 863.5,996.4 864,996 864.5,995.4 865,994.7 865.5,994 866,995.6 866.5,997.8 867,999.9 867.5,1001.7 868,1003.3 868.5,1004.7 869,1004.9 869.5,1003.1 870,1001.2 870.5,999.5 871,998 871.5,993.9 872,985.6 872.5,977.4 873,969.3 873.5,961.1 874,952.6 874.5,944.1 875,951.3 875.5,960.5 876,969.2 876.5,977.1 877,984.8 877.5,987.9 878,990.9 878.5,994.4 879,997.7 879.5,1000.4 880,1002.7 880.5,999.7 881,995.7 881.5,992 882,988.9 882.5,986.1 883,983.1 883.5,979.5 884,977.1 884.5,977.8 885,979 885.5,981.2 886,983.9 886.5,984.4 887,980.7 887.5,976.1 888,971.3 888.5,978.7 889,988.4 889.5,998.5 890,993.6 890.5,986.2 891,978.5 891.5,970.7 892,974.7 892.5,980.5 893,986 893.5,991.1 894,994.1 894.5,993.5 895,993.5 895.5,993.9 896,994.5 896.5,994.8 897,994.6 897.5,993.9 898,993.7 898.5,994 899,994.4 899.5,995.1 900,995.8 900.5,996.6 901,997.4 901.5,997.2 902,995.3 902.5,993.1 903,990.9 903.5,989.2 904,988.1 904.5,987.4 905,986.8 905.5,985 906,982.4 906.5,979.5 907,976.9 907.5,974.8 908,972.9 908.5,970.8 909,970.4 909.5,974 910,978 910.5,982.5 911,986.9 911.5,990.4 912,992.5 912.5,994.5 913,996.9 913.5,999.8 914,1003 914.5,1006 915,1004.7 915.5,1002.3 916,999.7 916.5,997.3 917,994.9 917.5,992.4 918,991.6 918.5,991.1 919,990.9 919.5,991.1 920,991.2 920.5,990.9 921,990.5 921.5,991.3 922,994.3 922.5,997.2 923,999.6 923.5,1002 924,1004.6 924.5,1007.6 925,1007.3 925.5,1006.2 926,1004.7 926.5,1003 927,1001.3 927.5,1002.7 928,1004.7 928.5,1006.5 929,1007.9 929.5,1009.1 930,1010.5 930.5,1010.1 931,1009.5 931.5,1009 932,1008.5 932.5,1008.1 933,1007.9 933.5,1007.6 934,1007.1 934.5,1006.3 935,1005.5 935.5,1006.4 936,1008 936.5,1009.4 937,1010.7 937.5,1011.9 938,1013 938.5,1014.1 939,1015 939.5,1015 940,1014.9 940.5,1014.6 941,1014.1 941.5,1013.8 942,1013.8 942.5,1013.9 943,1014.1 943.5,1014 944,1014 944.5,1014.2 945,1014.3 945.5,1014.6 946,1015.1 946.5,1015.7 947,1016.2 947.5,1016.4 948,1015.8 948.5,1014.9 949,1014 949.5,1013.3 950,1012.6 950.5,1013.1 951,1013.8 951.5,1014.5 952,1015.1 952.5,1015.7 953,1016.4 953.5,1017.1 954,1017.8 954.5,1018.4 955,1018.9 955.5,1019 956,1019.2 956.5,1019.4 957,1019.8 957.5,1020.1 958,1020.4 958.5,1020.7 959,1021 959.5,1021.2 960,1021.5 960.5,1021.7 961,1022 961.5,1022.3 962,1022.6 962.5,1022.9 963,1023.1 963.5,1023.2 964,1023.4 964.5,1023.6 965,1024 965.5,1024.1 966,1024.2 966.5,1024 967,1023.8 967.5,1023.7 968,1023.6 968.5,1023.7 969,1023.8 969.5,1023.6 970,1023.3 970.5,1023 971,1022.8 971.5,1022.7 972,1022.8 972.5,1022.9 973,1022.9 973.5,1022.7 974,1022.6 974.5,1022.6 975,1022.6 975.5,1022.7 976,1022.9 976.5,1023.1 977,1023.3 977.5,1023.5 978,1023.6 978.5,1023.7 979,1023.6 979.5,1023.6 980,1023.7 980.5,1024 981,1024.4 981.5,1024.7 982,1024.9 982.5,1025 983,1024.9 983.5,1024.9 984,1024.9 984.5,1024.8 985,1024.9 985.5,1025 986,1025.2 986.5,1025.4 987,1025.6 987.5,1025.6 988,1025.6 988.5,1025.7 989,1025.8 989.5,1025.9 990,1026 990.5,1026 991,1026.1 991.5,1026.1 992,1026.2 992.5,1026.2 993,1026.3 993.5,1026.4 994,1026.7 994.5,1027 995,1027.1 995.5,1027.1 996,1027 996.5,1027 997,1027 997.5,1027.1 998,1027.1 998.5,1027.2 999,1027.3 999.5,1027.3 1000,1027.3 1000.5,1027.4 1001,1027.6 1001.5,1027.8 1002,1027.9 1002.5,1027.9 1003,1027.8 1003.5,1027.8 1004,1027.9 1004.5,1028 1005,1028.2 1005.5,1028.3 1006,1028.2 1006.5,1028.1 1007,1027.9 1007.5,1027.9 1008,1028.1 1008.5,1028.4 1009,1028.6 1009.5,1028.8 1010,1028.9 1010.5,1029 1011,1029.1 1011.5,1029 1012,1028.9 1012.5,1028.8 1013,1028.7 1013.5,1028.6 1014,1028.5 1014.5,1028.5 1015,1028.5 1015.5,1028.7 1016,1028.9 1016.5,1029 1017,1029 1017.5,1028.9 1018,1028.7 1018.5,1028.7 1019,1028.7 1019.5,1028.8 1020,1028.9 1020.5,1028.8 1021,1028.6 1021.5,1028.4 1022,1028.2 1022.5,1028 1023,1028 1023.5,1028 1024,1027.9 1024.5,1027.8 1025,1027.9 1025.5,1028 1026,1028.3 1026.5,1028.3 1027,1028.3 1027.5,1028.1 1028,1028.1 1028.5,1028.2 1029,1028.4 1029.5,1028.5 1030,1028.4 1030.5,1028.1 1031,1027.9 1031.5,1027.8 1032,1028 1032.5,1028.1 1033,1028.1 1033.5,1028.2 1034,1028.2 1034.5,1028.3 1035,1028.4 1035.5,1028.5 1036,1028.5 1036.5,1028.6 1037,1028.7 1037.5,1028.8 1038,1028.7 1038.5,1028.7 1039,1028.6 1039.5,1028.6 1040,1028.5 1040.5,1028.3 1041,1028.1 1041.5,1028 1042,1028 1042.5,1028.1 1043,1028.3 1043.5,1028.6 1044,1028.8 1044.5,1028.9 1045,1028.9 1045.5,1028.8 1046,1028.7 1046.5,1028.7 1047,1028.8 1047.5,1028.9 1048,1028.8 1048.5,1028.4 1049,1027.9 1049.5,1027.4 1050,1026.8 1050.5,1026.6 1051,1026.7 1051.5,1026.7 1052,1026.7 1052.5,1026.6 1053,1026.7 1053.5,1026.8 1054,1026.9 1054.5,1027.1 1055,1027.3 1055.5,1027.5 1056,1027.7 1056.5,1027.7 1057,1027.7 1057.5,1027.8 1058,1028 1058.5,1028.1 1059,1028.2 1059.5,1028.2 1060,1028.2 1060.5,1028.4 1061,1028.7 1061.5,1029 1062,1029.1 1062.5,1029.2 1063,1029.2 1063.5,1029.4 1064,1029.5 1064.5,1029.7 1065,1029.7 1065.5,1029.6 1066,1029.3 1066.5,1029.1 1067,1028.9 1067.5,1029 1068,1029.2 1068.5,1029.3 1069,1029.4 1069.5,1029.4 1070,1029.5 1070.5,1029.7 1071,1029.9 1071.5,1030 1072,1030.1 1072.5,1030.1 1073,1030.1 1073.5,1030.2 1074,1030.2 1074.5,1030.4 1075,1030.6 1075.5,1030.5 1076,1030.2 1076.5,1029.8 1077,1029.6 1077.5,1029.5 1078,1029.5 1078.5,1029.4 1079,1029.4 1079.5,1029.5 1080,1029.4 1080.5,1029.3 1081,1029.1 1081.5,1029 1082,1029 1082.5,1029.1 1083,1029.1 1083.5,1029.2 1084,1029.3 1084.5,1029.2 1085,1029.2 1085.5,1029.1 1086,1029.1 1086.5,1029 1087,1028.9 1087.5,1028.8 1088,1028.8 1088.5,1028.6 1089,1028.5 1089.5,1028.4 1090,1028.3 1090.5,1028.4 1091,1028.4 1091.5,1028.4 1092,1028.3 1092.5,1028.3 1093,1028.2 1093.5,1028.1 1094,1028 1094.5,1027.9 1095,1027.8 1095.5,1027.8 1096,1027.9 1096.5,1027.9 1097,1027.9 1097.5,1027.9 1098,1027.9 1098.5,1028 1099,1028 1099.5,1028 1100,1027.9 1100.5,1027.9 1101,1028 1101.5,1028 1102,1028.1 1102.5,1028 1103,1028 1103.5,1028.1 1104,1028.3 1104.5,1028.6 1105,1028.8 1105.5,1028.9 1106,1028.9 1106.5,1028.9 1107,1028.9 1107.5,1028.8 1108,1028.8 1108.5,1028.8 1109,1029 1109.5,1029.3 1110,1029.5 1110.5,1029.7 1111,1029.6 1111.5,1029.5 1112,1029.4 1112.5,1029.5 1113,1029.7 1113.5,1029.9 1114,1030.1 1114.5,1030.4 1115,1030.7 1115.5,1030.8 1116,1030.9 1116.5,1030.8 1117,1030.7 1117.5,1030.4 1118,1030.1 1118.5,1029.7 1119,1029.3 1119.5,1029.1 1120,1029 1120.5,1029 1121,1029.1 1121.5,1028.9 1122,1028.7 1122.5,1028.5 1123,1028.4 1123.5,1028.2 1124,1028 1124.5,1027.8 1125,1027.6 1125.5,1027.6 1126,1027.6 1126.5,1027.6 1127,1027.6 1127.5,1027.5 1128,1027.4 1128.5,1027.3 1129,1027.2 1129.5,1027.2 1130,1027.2 1130.5,1027.1 1131,1027.1 1131.5,1027.1 1132,1027.3 1132.5,1027.6 1133,1027.9 1133.5,1027.9 1134,1027.8 1134.5,1027.6 1135,1027.5 1135.5,1027.4 1136,1027.5 1136.5,1027.6 1137,1027.9 1137.5,1028.1 1138,1028.1 1138.5,1027.9 1139,1027.7 1139.5,1027.5 1140,1027.5 1140.5,1027.5 1141,1027.5 1141.5,1027.6 1142,1027.5 1142.5,1027.5 1143,1027.4 1143.5,1027.4 1144,1027.4 1144.5,1027.4 1145,1027.4 1145.5,1027.5 1146,1027.6 1146.5,1027.8 1147,1027.9 1147.5,1028 1148,1028 1148.5,1028 1149,1028.1 1149.5,1028.2 1150,1028.2 1150.5,1028.3 1151,1028.3 1151.5,1028.4 1152,1028.5 1152.5,1028.4 1153,1028.3 1153.5,1028.3 1154,1028.2 1154.5,1028.1 1155,1028 1155.5,1028 1156,1028.1 1156.5,1028.1 1157,1028.1 1157.5,1028.1 1158,1028.2 1158.5,1028.2 1159,1028.1 1159.5,1028 1160,1028 1160.5,1028 1161,1028.1 1161.5,1028.1 1162,1028.1 1162.5,1028.2 1163,1028.4 1163.5,1028.4 1164,1028.3 1164.5,1028.1 1165,1028 1165.5,1028.1 1166,1028.2 1166.5,1028.4 1167,1028.5 1167.5,1028.7 1168,1028.8 1168.5,1028.9 1169,1028.8 1169.5,1028.7 1170,1028.4 1170.5,1028 1171,1027.8 1171.5,1027.7 1172,1027.7 1172.5,1027.8 1173,1028 1173.5,1028.2 1174,1028.4 1174.5,1028.6 1175,1028.6 1175.5,1028.5 1176,1028.5 1176.5,1028.5 1177,1028.5 1177.5,1028.4 1178,1028.4 1178.5,1028.3 1179,1028.4 1179.5,1028.5 1180,1028.5 1180.5,1028.4 1181,1028.3 1181.5,1028.4 1182,1028.5 1182.5,1028.7 1183,1028.7 1183.5,1028.7 1184,1028.6 1184.5,1028.4 1185,1028.4 1185.5,1028.5 1186,1028.5 1186.5,1028.5 1187,1028.5 1187.5,1028.6 1188,1028.5 1188.5,1028.5 1189,1028.6 1189.5,1028.6 1190,1028.6 1190.5,1028.6 1191,1028.7 1191.5,1028.8 1192,1028.9 1192.5,1028.9 1193,1028.9 1193.5,1029 1194,1029 1194.5,1029 1195,1028.7 1195.5,1028.5 1196,1028.4 1196.5,1028.5 1197,1028.7 1197.5,1028.8 1198,1028.8 1198.5,1028.6 1199,1028.5 1199.5,1028.5 1200,1028.6 1200.5,1028.7 1201,1028.9 1201.5,1029 1202,1028.9 1202.5,1028.8 1203,1028.7 1203.5,1028.7 1204,1028.9 1204.5,1029.3 1205,1029.5 1205.5,1029.7 1206,1029.7 1206.5,1029.6 1207,1029.5 1207.5,1029.4 1208,1029.4 1208.5,1029.4 1209,1029.4 1209.5,1029.4 1210,1029.4 1210.5,1029.3 1211,1029.2 1211.5,1029.1 1212,1029 1212.5,1028.9 1213,1028.9 1213.5,1028.9 1214,1028.9 1214.5,1029 1215,1029 1215.5,1029.1 1216,1029.2 1216.5,1029.3 1217,1029.4 1217.5,1029.6 1218,1029.9 1218.5,1030.2 1219,1030.3 1219.5,1030.4 1220,1030.3 1220.5,1030.2 1221,1030.1 1221.5,1030 1222,1030 1222.5,1029.9 1223,1029.8 1223.5,1029.7 1224,1029.8 1224.5,1029.8 1225,1029.9 1225.5,1029.9 1226,1030 1226.5,1029.9 1227,1029.9 1227.5,1029.9 1228,1030 1228.5,1030 1229,1030 1229.5,1030 1230,1029.9 1230.5,1029.8 1231,1029.7 1231.5,1029.7 1232,1029.7 1232.5,1029.6 1233,1029.5 1233.5,1029.6 1234,1029.6 1234.5,1029.7 1235,1029.8 1235.5,1029.7 1236,1029.6 1236.5,1029.6 1237,1029.6 1237.5,1029.5 1238,1029.4 1238.5,1029.5 1239,1029.7 1239.5,1030 1240,1030.1 1240.5,1030.1 1241,1030 1241.5,1029.9 1242,1029.8 1242.5,1029.7 1243,1029.7 1243.5,1029.6 1244,1029.5 1244.5,1029.5 1245,1029.4 1245.5,1029.4 1246,1029.5 1246.5,1029.6 1247,1029.8 1247.5,1029.9 1248,1029.9 1248.5,1029.8 1249,1029.7 1249.5,1029.5 1250,1029.3 1250.5,1029.2 1251,1029.2 1251.5,1029.2 1252,1029.3 1252.5,1029.4 1253,1029.4 1253.5,1029.6 1254,1029.8 1254.5,1029.9 1255,1030 1255.5,1029.9 1256,1029.8 1256.5,1029.8 1257,1029.8 1257.5,1029.7 1258,1029.6 1258.5,1029.5 1259,1029.5 1259.5,1029.6 1260,1029.6 1260.5,1029.7 1261,1029.8 1261.5,1029.9 1262,1030 1262.5,1030.1 1263,1030.1 1263.5,1030 1264,1029.8 1264.5,1029.5 1265,1029.5 1265.5,1029.6 1266,1029.8 1266.5,1029.9 1267,1029.9 1267.5,1029.8 1268,1029.7 1268.5,1029.6 1269,1029.6 1269.5,1029.6 1270,1029.7 1270.5,1029.6 1271,1029.4 1271.5,1029.3 1272,1029.3 1272.5,1029.3 1273,1029.4 1273.5,1029.5 1274,1029.6 1274.5,1029.6 1275,1029.6 1275.5,1029.6 1276,1029.6 1276.5,1029.6 1277,1029.6 1277.5,1029.7 1278,1029.8 1278.5,1029.9 1279,1029.8 1279.5,1029.8 1280,1029.8 1280.5,1029.8 1281,1029.8 1281.5,1029.8 1282,1029.7 1282.5,1029.6 1283,1029.5 1283.5,1029.5 1284,1029.6 1284.5,1029.6 1285,1029.5 1285.5,1029.2 1286,1029 1286.5,1028.9 1287,1028.8 1287.5,1028.9 1288,1028.9 1288.5,1029 1289,1029.2 1289.5,1029.4 1290,1029.6 1290.5,1029.8 1291,1029.9 1291.5,1029.7 1292,1029.4 1292.5,1029.2 1293,1029 1293.5,1029 1294,1029.1 1294.5,1029.2 1295,1029.3 1295.5,1029.4 1296,1029.4 1296.5,1029.4 1297,1029.3 1297.5,1029.1 1298,1028.9 1298.5,1028.9 1299,1029 1299.5,1029 1300,1029 1300.5,1029 1301,1029 1301.5,1029 1302,1029 1302.5,1028.9 1303,1028.8 1303.5,1028.7 1304,1028.7 1304.5,1028.7 1305,1028.8 1305.5,1028.9 1306,1028.8 1306.5,1028.8 1307,1028.7 1307.5,1028.5 1308,1028.5 1308.5,1028.5 1309,1028.6 1309.5,1028.6 1310,1028.6 1310.5,1028.4 1311,1028.2 1311.5,1028 1312,1027.9 1312.5,1027.9 1313,1027.9 1313.5,1027.9 1314,1027.8 1314.5,1027.7 1315,1027.7 1315.5,1027.7 1316,1027.7 1316.5,1027.8 1317,1028 1317.5,1028.1 1318,1028.1 1318.5,1028 1319,1027.9 1319.5,1027.7 1320,1027.6 1320.5,1027.4 1321,1027.3 1321.5,1027.2 1322,1027.3 1322.5,1027.3 1323,1027.3 1323.5,1027.1 1324,1026.8 1324.5,1026.4 1325,1026.1 1325.5,1025.7 1326,1025.3 1326.5,1025 1327,1024.7 1327.5,1024.5 1328,1024.3 1328.5,1024.3 1329,1024.3 1329.5,1024.3 1330,1024.3 1330.5,1024.1 1331,1023.9 1331.5,1023.8 1332,1023.8 1332.5,1023.9 1333,1024 1333.5,1024.2 1334,1024.4 1334.5,1024.5 1335,1024.5 1335.5,1024.5 1336,1024.4 1336.5,1024.3 1337,1024.3 1337.5,1024.4 1338,1024.6 1338.5,1024.7 1339,1024.9 1339.5,1025 1340,1025.1 1340.5,1025.1 1341,1025 1341.5,1025 1342,1025 1342.5,1025 1343,1025 1343.5,1025.1 1344,1025.2 1344.5,1025.3 1345,1025.2 1345.5,1025.1 1346,1024.9 1346.5,1024.7 1347,1024.4 1347.5,1024.2 1348,1024.1 1348.5,1024.1 1349,1024.1 1349.5,1024.1 1350,1024.2 1350.5,1024.2 1351,1024.1 1351.5,1024 1352,1024 1352.5,1024 1353,1024 1353.5,1023.8 1354,1023.5 1354.5,1023.2 1355,1022.9 1355.5,1022.9 1356,1022.9 1356.5,1022.9 1357,1022.7 1357.5,1022.4 1358,1022.3 1358.5,1022.2 1359,1022.2 1359.5,1022 1360,1021.9 1360.5,1021.7 1361,1021.5 1361.5,1021.2 1362,1021 1362.5,1020.9 1363,1020.8 1363.5,1020.6 1364,1020.4 1364.5,1020.2 1365,1020.1 1365.5,1020.1 1366,1020 1366.5,1019.8 1367,1019.5 1367.5,1019.2 1368,1018.8 1368.5,1018.4 1369,1017.9 1369.5,1017.3 1370,1016.7 1370.5,1016.1 1371,1015.7 1371.5,1015.5 1372,1015.4 1372.5,1015.9 1373,1016.5 1373.5,1017.1 1374,1017.7 1374.5,1018.1 1375,1018.2 1375.5,1018.3 1376,1018.5 1376.5,1018.9 1377,1019.2 1377.5,1019.5 1378,1019.9 1378.5,1019.7 1379,1019.1 1379.5,1018.5 1380,1017.8 1380.5,1017.3 1381,1017 1381.5,1016.9 1382,1016.6 1382.5,1016.1 1383,1015.5 1383.5,1014.7 1384,1013.9 1384.5,1013.1 1385,1012.4 1385.5,1011.7 1386,1011.1 1386.5,1010.5 1387,1009.9 1387.5,1009.3 1388,1008.9 1388.5,1008.6 1389,1008.4 1389.5,1008 1390,1007.3 1390.5,1006.4 1391,1005.5 1391.5,1004.7 1392,1003.9 1392.5,1003.5 1393,1003.5 1393.5,1003.9 1394,1004.2 1394.5,1004 1395,1003.3 1395.5,1002.7 1396,1002.6 1396.5,1002.5 1397,1002.2 1397.5,1000.9 1398,999.3 1398.5,997.9 1399,996.9 1399.5,996.1 1400,995.2 1400.5,994.4 1401,994.6 1401.5,995.1 1402,995.2 1402.5,994.9 1403,994.9 1403.5,995.7 1404,997.1 1404.5,998.3 1405,999.1 1405.5,999.4 1406,999.2 1406.5,998.7 1407,998.3 1407.5,998 1408,997.7 1408.5,997.4 1409,997 1409.5,996.5 1410,995.7 1410.5,994.6 1411,993.2 1411.5,992 1412,991.1 1412.5,990.5 1413,989.8 1413.5,988.9 1414,988.1 1414.5,987.3 1415,988.6 1415.5,989.7 1416,990.9 1416.5,992.5 1417,994.2 1417.5,995.8 1418,997.1 1418.5,996.6 1419,994.6 1419.5,992.6 1420,990.8 1420.5,989.2 1421,988 1421.5,987 1422,986 1422.5,985.1 1423,984 1423.5,982.8 1424,981.2 1424.5,979.5 1425,977.9 1425.5,976.5 1426,975.2 1426.5,974.1 1427,972.8 1427.5,973.7 1428,974.6 1428.5,975.9 1429,977.6 1429.5,979.5 1430,978.1 1430.5,976.8 1431,975.1 1431.5,972.8 1432,970.3 1432.5,974.1 1433,978 1433.5,982 1434,979.9 1434.5,971.7 1435,963.3 1435.5,954.9 1436,953.9 1436.5,960.7 1437,967.5 1437.5,973.5 1438,978.9 1438.5,979.9 1439,976.7 1439.5,973.7 1440,970.8 1440.5,967.9 1441,965.3 1441.5,962.9 1442,961 1442.5,959.2 1443,957.1 1443.5,954.7 1444,951.9 1444.5,949 1445,946.2 1445.5,950.4 1446,954.9 1446.5,959.4 1447,964 1447.5,968.4 1448,969.5 1448.5,967.5 1449,966.2 1449.5,965 1450,963.2 1450.5,960.2 1451,956.1 1451.5,951.3 1452,947 1452.5,943.4 1453,940.6 1453.5,937.9 1454,934.6 1454.5,930.8 1455,927.6 1455.5,929.6 1456,936.9 1456.5,943.8 1457,949.5 1457.5,953.8 1458,957.2 1458.5,960.6 1459,965 1459.5,970.3 1460,970.8 1460.5,971.5 1461,972.3 1461.5,972.5 1462,972.1 1462.5,971.8" fill="none" stroke="#ff7f0e" stroke-width="2.1" stroke-linejoin="round"/></g>
<path d="M116.5 1054.5v4.9M284.5 1054.5v4.9M452.5 1054.5v4.9M621.5 1054.5v4.9M789.5 1054.5v4.9M957.5 1054.5v4.9M1125.5 1054.5v4.9M1294.5 1054.5v4.9M116.5 1033.5h-4.9M116.5 945.5h-4.9M116.5 857.5h-4.9M116.5 769.5h-4.9M116.5 681.5h-4.9M116.5 593.5h-4.9" stroke="#000" stroke-width="1.1" fill="none"/>
<rect x="116.5" y="575.5" width="1346.0" height="479.0" fill="none" stroke="#000" stroke-width="1.1"/>
<text x="105.2" y="1041.7" text-anchor="end" font-size="22.2">0.00</text>
<text x="105.2" y="953.7" text-anchor="end" font-size="22.2">0.05</text>
<text x="105.2" y="865.7" text-anchor="end" font-size="22.2">0.10</text>
<text x="105.2" y="777.7" text-anchor="end" font-size="22.2">0.15</text>
<text x="105.2" y="689.7" text-anchor="end" font-size="22.2">0.20</text>
<text x="105.2" y="601.7" text-anchor="end" font-size="22.2">0.25</text>
<rect x="1047.7" y="584.75" width="405.8" height="80.4" rx="3.6" fill="#fff" fill-opacity="0.8" stroke="#ccc" stroke-width="1.1"/>
<circle cx="1073.4" cy="599.4" r="2.8" fill="#1f77b4"/>
<path d="M1053 639H1092" stroke="#ff7f0e" stroke-width="2.1"/>
<text font-size="18.52" x="1105.8" y="605">Raw Data</text>
<text font-size="18.52" x="1105.8" y="633.4">Butterworth Filtered Data</text>
<text font-size="18.52" x="1105.8" y="653.9">(N=6, Tc=3.3333 min, Type: low)</text>
<text font-size="26.67" x="115.7" y="30" letter-spacing="-0.4">(a)</text>
<text font-size="26.67" x="784" y="30" text-anchor="middle">5.0 MHz N0000001</text>
<text font-size="26.67" x="115.7" y="566.2" letter-spacing="-0.4">(b)</text>
<text font-size="22.2" transform="translate(60.9 278.6) rotate(-90)" text-anchor="middle">Doppler Shift [Hz]</text>
<text font-size="22.2" transform="translate(40.5 815) rotate(-90)" text-anchor="middle">Peak Voltage [V]</text>
<text font-size="22.2" x="789.3" y="1157.7" text-anchor="middle">UTC</text>
<text font-size="22.2" transform="translate(112.7 1078.5) rotate(-30)" text-anchor="end">01-07 00</text>
<text font-size="22.2" transform="translate(280.9 1078.5) rotate(-30)" text-anchor="end">01-07 03</text>
<text font-size="22.2" transform="translate(449.2 1078.5) rotate(-30)" text-anchor="end">01-07 06</text>
<text font-size="22.2" transform="translate(617.4 1078.5) rotate(-30)" text-anchor="end">01-07 09</text>
<text font-size="22.2" transform="translate(785.6 1078.5) rotate(-30)" text-anchor="end">01-07 12</text>
<text font-size="22.2" transform="translate(953.9 1078.5) rotate(-30)" text-anchor="end">01-07 15</text>
<text font-size="22.2" transform="translate(1122.1 1078.5) rotate(-30)" text-anchor="end">01-07 18</text>
<text font-size="22.2" transform="translate(1290.3 1078.5) rotate(-30)" text-anchor="end">01-07 21</text>
</svg></body></html>
